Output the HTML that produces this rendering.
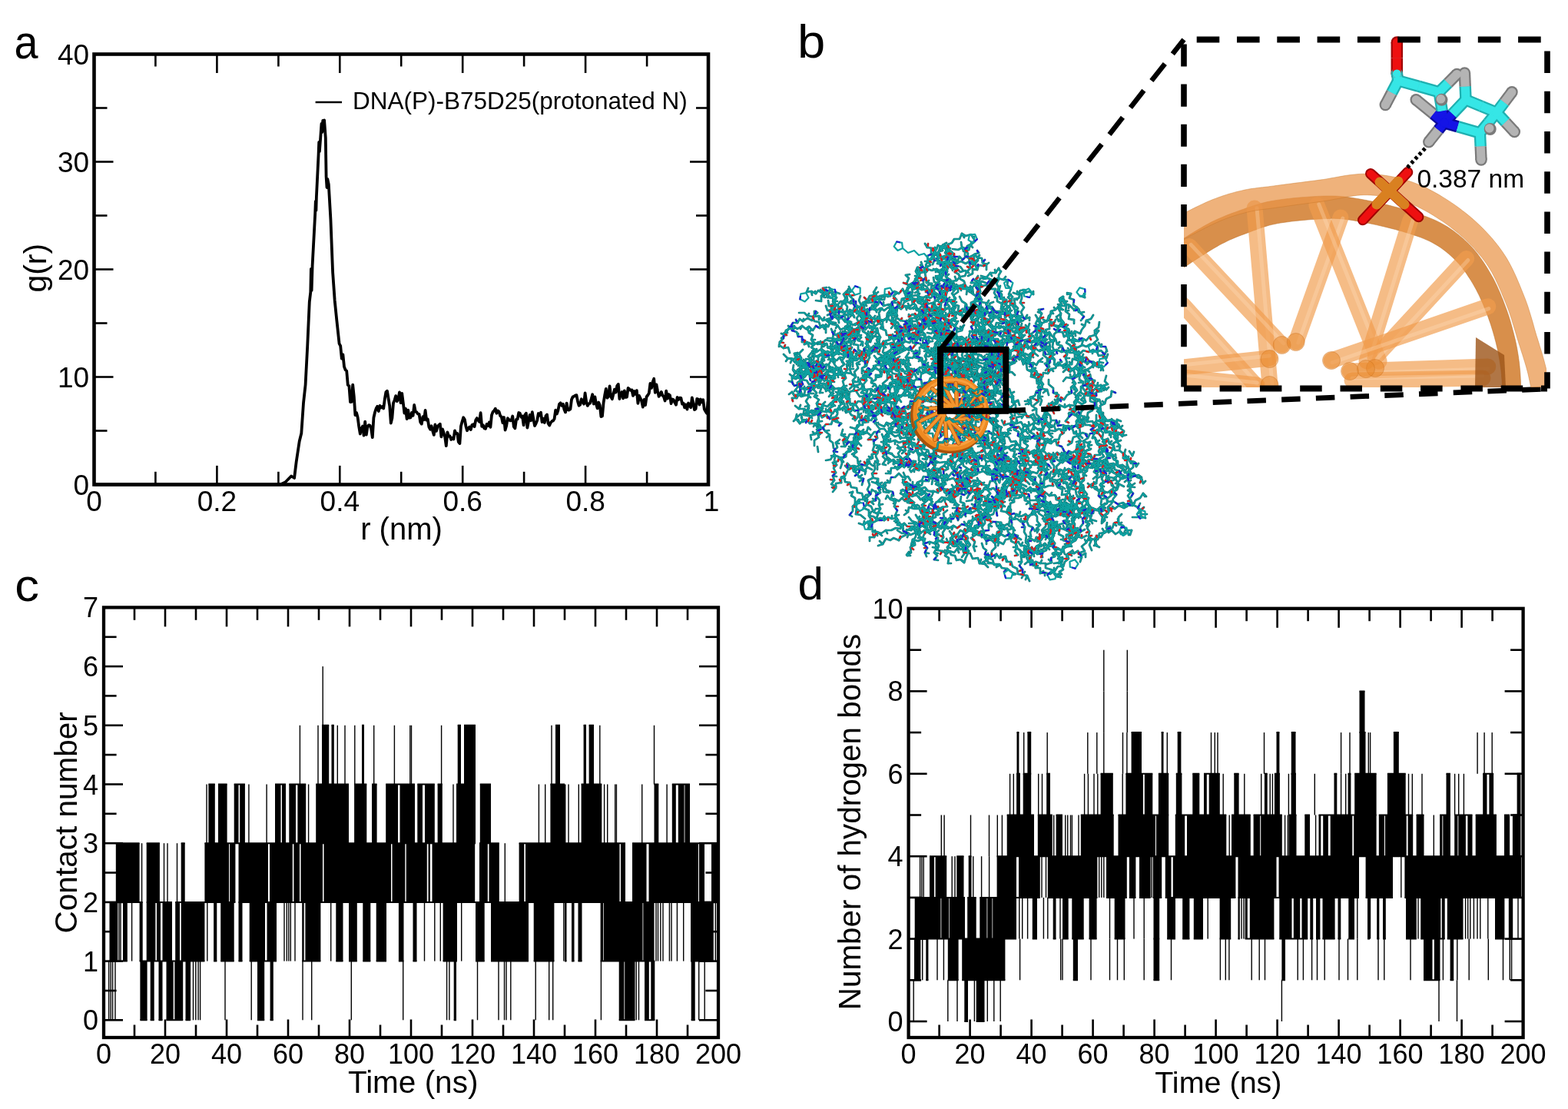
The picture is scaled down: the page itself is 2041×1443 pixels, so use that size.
<!DOCTYPE html>
<html><head><meta charset="utf-8"><title>Figure</title>
<style>html,body{margin:0;padding:0;background:#fff;} svg{display:block;} text{font-family:'Liberation Sans', Arial, Helvetica, sans-serif;fill:#000;}</style>
</head><body>
<svg width="2041" height="1443" viewBox="0 0 2041 1443">
<rect width="2041" height="1443" fill="#fff"/>
<g id="pa">
<path d="M122.5,630.5 L365,630.5 L371.3,627.5 L379.1,619.5 L383.1,622 L385.7,600.7 L389.7,574.3 L392.3,563.8 L395,524.3 L397.6,500.6 L400.2,450.6 L402.8,392.7 L404.3,380 L404.9,350 L405.6,378 L406.6,346 L410.2,278 L410.8,262 L411.4,274 L411.9,256 L414.6,200.5 L415.2,185 L415.9,197 L417.2,179.4 L418.5,160.8 L419.3,172 L420.2,157 L421.2,168 L422.1,156.5 L423.8,179.4 L424.6,230 L425.5,244 L426.3,233 L427.8,240 L430.4,285.2 L433.1,354 L435.7,391 L438.4,417.5 L441.6,447.2 L443.2,450.2 L444.8,466.6 L446.4,461.4 L448,477.1 L449.6,481.3 L451.2,482.6 L452.8,501 L454.4,502 L456,523.1 L457.6,522.9 L459.2,500.6 L460.8,516.1 L462.4,540.2 L464,536.9 L465.6,542.9 L467.2,555 L468.8,564.5 L470.4,557.6 L472,554.6 L473.6,566.7 L475.2,548.7 L476.8,565.6 L478.4,555.1 L480,553.1 L481.6,553.5 L483.2,558.2 L484.8,569.2 L486.4,543.5 L488,536.5 L489.6,531.5 L491.2,528.8 L492.8,535 L494.4,527.9 L496,530.5 L497.6,528.9 L499.2,531.5 L500.8,519.4 L502.4,510.2 L504,508.7 L505.6,518.6 L507.2,528.1 L508.8,550.5 L510.4,544 L512,524.5 L513.6,520.6 L515.2,515.1 L516.8,522.1 L518.4,519.2 L520,510.4 L521.6,524.2 L523.2,511.8 L524.8,524.2 L526.4,537.5 L528,531.8 L529.6,545 L531.2,533.6 L532.8,543.7 L534.4,543.3 L536,537 L537.6,540.7 L539.2,527 L540.8,535.7 L542.4,536.3 L544,538.7 L545.6,538.9 L547.2,549.2 L548.8,551.6 L550.4,542.2 L552,546 L553.6,533.9 L555.2,546.7 L556.8,545.6 L558.4,555.7 L560,558.7 L561.6,554.3 L563.2,560.6 L564.8,565.9 L566.4,552.5 L568,560.9 L569.6,554.7 L571.2,553.3 L572.8,551.7 L574.4,568.4 L576,558.3 L577.6,563.3 L579.2,568.8 L580.8,580.2 L582.4,562.3 L584,567.5 L585.6,567.4 L587.2,572 L588.8,569.7 L590.4,571.4 L592,560.5 L593.6,564.1 L595.2,563.8 L596.8,575.1 L598.4,577 L600,554.4 L601.6,548.5 L603.2,543.2 L604.8,545.7 L606.4,554.4 L608,560.2 L609.6,557.4 L611.2,555.4 L612.8,558.9 L614.4,553 L616,552.2 L617.6,555.1 L619.2,546.8 L620.8,544.1 L622.4,546.9 L624,548.9 L625.6,537.2 L627.2,554.9 L628.8,553.3 L630.4,557.3 L632,557.9 L633.6,551.9 L635.2,554.1 L636.8,549.5 L638.4,555.9 L640,540.1 L641.6,535.9 L643.2,534.5 L644.8,531.7 L646.4,537.7 L648,534.4 L649.6,535.7 L651.2,541.1 L652.8,542.5 L654.4,550.2 L656,543 L657.6,559.6 L659.2,554 L660.8,544.2 L662.4,545.9 L664,547.4 L665.6,547.1 L667.2,541.5 L668.8,555.2 L670.4,557.3 L672,545.9 L673.6,545.5 L675.2,537 L676.8,537.7 L678.4,542.8 L680,541.6 L681.6,553.2 L683.2,540.1 L684.8,537.7 L686.4,556.6 L688,548.2 L689.6,539.9 L691.2,547.2 L692.8,536.2 L694.4,545.6 L696,554 L697.6,551 L699.2,547.1 L700.8,538 L702.4,540.4 L704,536.8 L705.6,549.2 L707.2,544.7 L708.8,550 L710.4,541.3 L712,539.5 L713.6,551.1 L715.2,553.6 L716.8,550 L718.4,548.1 L720,547.4 L721.6,544.9 L723.2,533.6 L724.8,538.5 L726.4,534 L728,525.9 L729.6,524.3 L731.2,527.7 L732.8,525.7 L734.4,532.8 L736,536.4 L737.6,524.6 L739.2,533.3 L740.8,533.6 L742.4,532.3 L744,519.9 L745.6,516.4 L747.2,515.8 L748.8,514.6 L750.4,514.1 L752,522.2 L753.6,527.7 L755.2,526.5 L756.8,519.3 L758.4,522.8 L760,525.7 L761.6,511.4 L763.2,522.9 L764.8,527.9 L766.4,525.3 L768,524.7 L769.6,519.3 L771.2,513.3 L772.8,525.5 L774.4,516.4 L776,525.7 L777.6,531.3 L779.2,523.5 L780.8,527.4 L782.4,542.1 L784,541.4 L785.6,523.9 L787.2,514.2 L788.8,505.9 L790.4,517.7 L792,515.7 L793.6,502.5 L795.2,516.1 L796.8,519.2 L798.4,512.7 L800,506.6 L801.6,510.6 L803.2,502.2 L804.8,499.9 L806.4,519 L808,512.6 L809.6,510.1 L811.2,518.3 L812.8,508.3 L814.4,517 L816,516.6 L817.6,504.9 L819.2,506.3 L820.8,507.8 L822.4,507.4 L824,514.9 L825.6,509 L827.2,512.8 L828.8,508.1 L830.4,524.9 L832,515 L833.6,518.3 L835.2,522 L836.8,529.6 L838.4,519.8 L840,527.1 L841.6,516.3 L843.2,514.3 L844.8,511.6 L846.4,499 L848,504.8 L849.6,497.2 L851.2,492.8 L852.8,510.8 L854.4,500.4 L856,508.6 L857.6,515.8 L859.2,513.7 L860.8,509.9 L862.4,514.6 L864,516.1 L865.6,521.5 L867.2,508.7 L868.8,518.6 L870.4,513.1 L872,514.5 L873.6,525.1 L875.2,519.5 L876.8,520.3 L878.4,523.9 L880,526.7 L881.6,517 L883.2,520 L884.8,517.6 L886.4,517.9 L888,525.6 L889.6,524.8 L891.2,530.4 L892.8,526.5 L894.4,532.6 L896,524.5 L897.6,528 L899.2,530.2 L900.8,517.5 L902.4,524.5 L904,533.1 L905.6,532 L907.2,518.9 L908.8,519.6 L910.4,526.5 L912,519.5 L913.6,523.2 L915.2,520.2 L916.8,532.5 L918.4,535.2 L920,537.8 L921.6,522.4" fill="none" stroke="#000" stroke-width="3.8" stroke-linejoin="round"/>
<line x1="122.5" y1="630.5" x2="122.5" y2="605.9" stroke="#000" stroke-width="2.6" />
<line x1="122.5" y1="70.5" x2="122.5" y2="95" stroke="#000" stroke-width="2.6" />
<line x1="282.4" y1="630.5" x2="282.4" y2="605.9" stroke="#000" stroke-width="2.6" />
<line x1="282.4" y1="70.5" x2="282.4" y2="95" stroke="#000" stroke-width="2.6" />
<line x1="442.3" y1="630.5" x2="442.3" y2="605.9" stroke="#000" stroke-width="2.6" />
<line x1="442.3" y1="70.5" x2="442.3" y2="95" stroke="#000" stroke-width="2.6" />
<line x1="602.2" y1="630.5" x2="602.2" y2="605.9" stroke="#000" stroke-width="2.6" />
<line x1="602.2" y1="70.5" x2="602.2" y2="95" stroke="#000" stroke-width="2.6" />
<line x1="762.1" y1="630.5" x2="762.1" y2="605.9" stroke="#000" stroke-width="2.6" />
<line x1="762.1" y1="70.5" x2="762.1" y2="95" stroke="#000" stroke-width="2.6" />
<line x1="922" y1="630.5" x2="922" y2="605.9" stroke="#000" stroke-width="2.6" />
<line x1="922" y1="70.5" x2="922" y2="95" stroke="#000" stroke-width="2.6" />
<line x1="202.4" y1="630.5" x2="202.4" y2="613.8" stroke="#000" stroke-width="2.6" />
<line x1="202.4" y1="70.5" x2="202.4" y2="86.5" stroke="#000" stroke-width="2.6" />
<line x1="362.4" y1="630.5" x2="362.4" y2="613.8" stroke="#000" stroke-width="2.6" />
<line x1="362.4" y1="70.5" x2="362.4" y2="86.5" stroke="#000" stroke-width="2.6" />
<line x1="522.2" y1="630.5" x2="522.2" y2="613.8" stroke="#000" stroke-width="2.6" />
<line x1="522.2" y1="70.5" x2="522.2" y2="86.5" stroke="#000" stroke-width="2.6" />
<line x1="682.1" y1="630.5" x2="682.1" y2="613.8" stroke="#000" stroke-width="2.6" />
<line x1="682.1" y1="70.5" x2="682.1" y2="86.5" stroke="#000" stroke-width="2.6" />
<line x1="842.1" y1="630.5" x2="842.1" y2="613.8" stroke="#000" stroke-width="2.6" />
<line x1="842.1" y1="70.5" x2="842.1" y2="86.5" stroke="#000" stroke-width="2.6" />
<line x1="122.5" y1="630.5" x2="147.5" y2="630.5" stroke="#000" stroke-width="2.6" />
<line x1="922" y1="630.5" x2="898" y2="630.5" stroke="#000" stroke-width="2.6" />
<line x1="122.5" y1="490.5" x2="147.5" y2="490.5" stroke="#000" stroke-width="2.6" />
<line x1="922" y1="490.5" x2="898" y2="490.5" stroke="#000" stroke-width="2.6" />
<line x1="122.5" y1="350.5" x2="147.5" y2="350.5" stroke="#000" stroke-width="2.6" />
<line x1="922" y1="350.5" x2="898" y2="350.5" stroke="#000" stroke-width="2.6" />
<line x1="122.5" y1="210.5" x2="147.5" y2="210.5" stroke="#000" stroke-width="2.6" />
<line x1="922" y1="210.5" x2="898" y2="210.5" stroke="#000" stroke-width="2.6" />
<line x1="122.5" y1="70.5" x2="147.5" y2="70.5" stroke="#000" stroke-width="2.6" />
<line x1="922" y1="70.5" x2="898" y2="70.5" stroke="#000" stroke-width="2.6" />
<line x1="122.5" y1="560.5" x2="139.5" y2="560.5" stroke="#000" stroke-width="2.6" />
<line x1="922" y1="560.5" x2="906" y2="560.5" stroke="#000" stroke-width="2.6" />
<line x1="122.5" y1="420.5" x2="139.5" y2="420.5" stroke="#000" stroke-width="2.6" />
<line x1="922" y1="420.5" x2="906" y2="420.5" stroke="#000" stroke-width="2.6" />
<line x1="122.5" y1="280.5" x2="139.5" y2="280.5" stroke="#000" stroke-width="2.6" />
<line x1="922" y1="280.5" x2="906" y2="280.5" stroke="#000" stroke-width="2.6" />
<line x1="122.5" y1="140.5" x2="139.5" y2="140.5" stroke="#000" stroke-width="2.6" />
<line x1="922" y1="140.5" x2="906" y2="140.5" stroke="#000" stroke-width="2.6" />
<text x="122.5" y="664.5" font-size="37" text-anchor="middle" >0</text>
<text x="282.4" y="664.5" font-size="37" text-anchor="middle" >0.2</text>
<text x="442.3" y="664.5" font-size="37" text-anchor="middle" >0.4</text>
<text x="602.2" y="664.5" font-size="37" text-anchor="middle" >0.6</text>
<text x="762.1" y="664.5" font-size="37" text-anchor="middle" >0.8</text>
<text x="926" y="664.5" font-size="37" text-anchor="middle" >1</text>
<text x="116.2" y="643.5" font-size="37" text-anchor="end" >0</text>
<text x="116.2" y="503.5" font-size="37" text-anchor="end" >10</text>
<text x="116.2" y="363.5" font-size="37" text-anchor="end" >20</text>
<text x="116.2" y="223.5" font-size="37" text-anchor="end" >30</text>
<text x="116.2" y="83.5" font-size="37" text-anchor="end" >40</text>
<rect x="122.5" y="70.5" width="799.5" height="560" fill="none" stroke="#000" stroke-width="4.6" stroke-linejoin="miter"/>
<line x1="410.6" y1="133" x2="445" y2="133" stroke="#000" stroke-width="2.6" />
<text x="458.9" y="141.5" font-size="31.5" text-anchor="start" >DNA(P)-B75D25(protonated N)</text>
<text x="469.2" y="702" font-size="40" text-anchor="start" >r (nm)</text>
<text transform="translate(59.5,380.6) rotate(-90)" font-size="41">g(r)</text>
</g>
<text transform="translate(18.6,76.4) scale(0.9,1)" font-size="62">a</text>
<text transform="translate(1038,75.4) scale(1.05,1)" font-size="62">b</text>
<text transform="translate(19.2,782) scale(1.085,1)" font-size="58.5">c</text>
<text transform="translate(1038.5,779.5) scale(1.0,1)" font-size="60">d</text>
<g id="pc">
<g fill="#000"><rect x="141" y="1250.6" width="1.4" height="76.7"/><rect x="143.5" y="1250.6" width="1.4" height="76.7"/><rect x="145.9" y="1250.6" width="1.4" height="76.7"/><rect x="149.3" y="1250.6" width="1.4" height="76.7"/><rect x="182.4" y="1250.6" width="9.2" height="76.7"/><rect x="195.7" y="1250.6" width="5" height="76.7"/><rect x="206.5" y="1250.6" width="5" height="76.7"/><rect x="216.5" y="1250.6" width="9.2" height="76.7"/><rect x="227.3" y="1250.6" width="10.9" height="76.7"/><rect x="241.5" y="1250.6" width="6.6" height="76.7"/><rect x="250.8" y="1250.6" width="1.4" height="76.7"/><rect x="254.1" y="1250.6" width="1.4" height="76.7"/><rect x="257.4" y="1250.6" width="1.4" height="76.7"/><rect x="259.9" y="1250.6" width="1.4" height="76.7"/><rect x="292.3" y="1250.6" width="1.4" height="76.7"/><rect x="326.5" y="1250.6" width="1.4" height="76.7"/><rect x="335" y="1250.6" width="9.2" height="76.7"/><rect x="351.6" y="1250.6" width="4.2" height="76.7"/><rect x="393.3" y="1250.6" width="1.4" height="76.7"/><rect x="405" y="1250.6" width="1.4" height="76.7"/><rect x="456.6" y="1250.6" width="1.4" height="76.7"/><rect x="524" y="1250.6" width="1.4" height="76.7"/><rect x="580.9" y="1250.6" width="1.4" height="76.7"/><rect x="584.2" y="1250.6" width="1.4" height="76.7"/><rect x="590.7" y="1250.6" width="3.3" height="76.7"/><rect x="620.8" y="1250.6" width="1.4" height="76.7"/><rect x="648.3" y="1250.6" width="1.4" height="76.7"/><rect x="655.8" y="1250.6" width="1.4" height="76.7"/><rect x="658.3" y="1250.6" width="1.4" height="76.7"/><rect x="664.1" y="1250.6" width="1.4" height="76.7"/><rect x="696.5" y="1250.6" width="1.4" height="76.7"/><rect x="714" y="1250.6" width="1.4" height="76.7"/><rect x="719" y="1250.6" width="1.4" height="76.7"/><rect x="781.7" y="1250.6" width="1.4" height="76.7"/><rect x="805.7" y="1250.6" width="6.7" height="76.7"/><rect x="813.2" y="1250.6" width="13.3" height="76.7"/><rect x="827.5" y="1250.6" width="1.4" height="76.7"/><rect x="830.8" y="1250.6" width="1.4" height="76.7"/><rect x="839" y="1250.6" width="5.8" height="76.7"/><rect x="847.3" y="1250.6" width="5" height="76.7"/><rect x="899.7" y="1250.6" width="5" height="76.7"/><rect x="909" y="1250.6" width="1.4" height="76.7"/><rect x="916.5" y="1250.6" width="1.4" height="76.7"/><rect x="142.5" y="1173.9" width="10.8" height="76.7"/><rect x="154.3" y="1173.9" width="1.4" height="76.7"/><rect x="156.3" y="1173.9" width="1.4" height="76.7"/><rect x="160" y="1173.9" width="5.8" height="76.7"/><rect x="170.9" y="1173.9" width="1.4" height="76.7"/><rect x="181.6" y="1173.9" width="4.1" height="76.7"/><rect x="190.7" y="1173.9" width="11.7" height="76.7"/><rect x="204" y="1173.9" width="5" height="76.7"/><rect x="211.5" y="1173.9" width="12.5" height="76.7"/><rect x="228.2" y="1173.9" width="5.8" height="76.7"/><rect x="235.7" y="1173.9" width="30.7" height="76.7"/><rect x="269.1" y="1173.9" width="1.4" height="76.7"/><rect x="278.1" y="1173.9" width="4.2" height="76.7"/><rect x="287.2" y="1173.9" width="17.5" height="76.7"/><rect x="310.5" y="1173.9" width="5" height="76.7"/><rect x="324.7" y="1173.9" width="10.3" height="76.7"/><rect x="335" y="1173.9" width="10" height="76.7"/><rect x="347.5" y="1173.9" width="12.5" height="76.7"/><rect x="369.3" y="1173.9" width="1.4" height="76.7"/><rect x="372.6" y="1173.9" width="1.4" height="76.7"/><rect x="375.1" y="1173.9" width="1.4" height="76.7"/><rect x="377.6" y="1173.9" width="1.4" height="76.7"/><rect x="383.3" y="1173.9" width="1.4" height="76.7"/><rect x="393.2" y="1173.9" width="2.5" height="76.7"/><rect x="397.4" y="1173.9" width="20" height="76.7"/><rect x="430" y="1173.9" width="1.4" height="76.7"/><rect x="437.3" y="1173.9" width="9.2" height="76.7"/><rect x="454" y="1173.9" width="10.8" height="76.7"/><rect x="472.3" y="1173.9" width="10" height="76.7"/><rect x="489.7" y="1173.9" width="13.3" height="76.7"/><rect x="518.9" y="1173.9" width="6.6" height="76.7"/><rect x="537.5" y="1173.9" width="5" height="76.7"/><rect x="551.8" y="1173.9" width="1.4" height="76.7"/><rect x="565.1" y="1173.9" width="1.4" height="76.7"/><rect x="572.6" y="1173.9" width="1.4" height="76.7"/><rect x="576.6" y="1173.9" width="18.4" height="76.7"/><rect x="600" y="1173.9" width="1.4" height="76.7"/><rect x="619" y="1173.9" width="11.7" height="76.7"/><rect x="639" y="1173.9" width="49" height="76.7"/><rect x="694.7" y="1173.9" width="26.7" height="76.7"/><rect x="733.1" y="1173.9" width="1.4" height="76.7"/><rect x="735" y="1173.9" width="2.5" height="76.7"/><rect x="744" y="1173.9" width="3.5" height="76.7"/><rect x="752.5" y="1173.9" width="5" height="76.7"/><rect x="781.6" y="1173.9" width="3.4" height="76.7"/><rect x="785.7" y="1173.9" width="50.8" height="76.7"/><rect x="837.3" y="1173.9" width="14.2" height="76.7"/><rect x="853.3" y="1173.9" width="1.4" height="76.7"/><rect x="855.8" y="1173.9" width="1.4" height="76.7"/><rect x="859.1" y="1173.9" width="1.4" height="76.7"/><rect x="862.3" y="1173.9" width="1.4" height="76.7"/><rect x="870.7" y="1173.9" width="1.4" height="76.7"/><rect x="873.3" y="1173.9" width="1.4" height="76.7"/><rect x="880.7" y="1173.9" width="1.4" height="76.7"/><rect x="889" y="1173.9" width="1.4" height="76.7"/><rect x="899" y="1173.9" width="29.8" height="76.7"/><rect x="930.6" y="1173.9" width="1.4" height="76.7"/><rect x="150.8" y="1097.2" width="30.8" height="76.7"/><rect x="183.9" y="1097.2" width="1.4" height="76.7"/><rect x="190.7" y="1097.2" width="17.2" height="76.7"/><rect x="212.8" y="1097.2" width="1.4" height="76.7"/><rect x="217.3" y="1097.2" width="1.4" height="76.7"/><rect x="229.8" y="1097.2" width="1.4" height="76.7"/><rect x="235.7" y="1097.2" width="5" height="76.7"/><rect x="266.4" y="1097.2" width="31.6" height="76.7"/><rect x="299" y="1097.2" width="7.4" height="76.7"/><rect x="310.5" y="1097.2" width="24.5" height="76.7"/><rect x="335" y="1097.2" width="14" height="76.7"/><rect x="351" y="1097.2" width="29.8" height="76.7"/><rect x="382.4" y="1097.2" width="7.6" height="76.7"/><rect x="391.5" y="1097.2" width="28.5" height="76.7"/><rect x="421.5" y="1097.2" width="87.5" height="76.7"/><rect x="510.5" y="1097.2" width="16.8" height="76.7"/><rect x="528.7" y="1097.2" width="6.3" height="76.7"/><rect x="535" y="1097.2" width="20.8" height="76.7"/><rect x="557.5" y="1097.2" width="2.5" height="76.7"/><rect x="562.5" y="1097.2" width="55.7" height="76.7"/><rect x="624" y="1097.2" width="10.8" height="76.7"/><rect x="636.5" y="1097.2" width="13.3" height="76.7"/><rect x="656.6" y="1097.2" width="1.4" height="76.7"/><rect x="675.6" y="1097.2" width="6.7" height="76.7"/><rect x="684" y="1097.2" width="51" height="76.7"/><rect x="735" y="1097.2" width="71.5" height="76.7"/><rect x="808" y="1097.2" width="6" height="76.7"/><rect x="823" y="1097.2" width="18.5" height="76.7"/><rect x="844.5" y="1097.2" width="64.5" height="76.7"/><rect x="910" y="1097.2" width="7" height="76.7"/><rect x="926" y="1097.2" width="7" height="76.7"/><rect x="268.3" y="1020.5" width="1.4" height="76.7"/><rect x="271.4" y="1020.5" width="8.4" height="76.7"/><rect x="284" y="1020.5" width="11.6" height="76.7"/><rect x="304.7" y="1020.5" width="5.8" height="76.7"/><rect x="312.2" y="1020.5" width="6.7" height="76.7"/><rect x="323.2" y="1020.5" width="1.4" height="76.7"/><rect x="346.4" y="1020.5" width="1.4" height="76.7"/><rect x="358" y="1020.5" width="7.5" height="76.7"/><rect x="367" y="1020.5" width="5" height="76.7"/><rect x="376.3" y="1020.5" width="8.7" height="76.7"/><rect x="387.4" y="1020.5" width="10.8" height="76.7"/><rect x="400.9" y="1020.5" width="1.4" height="76.7"/><rect x="411.2" y="1020.5" width="42.8" height="76.7"/><rect x="461.1" y="1020.5" width="16.2" height="76.7"/><rect x="484" y="1020.5" width="6.6" height="76.7"/><rect x="502.2" y="1020.5" width="15.8" height="76.7"/><rect x="520.5" y="1020.5" width="14.5" height="76.7"/><rect x="535" y="1020.5" width="5" height="76.7"/><rect x="543.3" y="1020.5" width="6.7" height="76.7"/><rect x="553" y="1020.5" width="12.8" height="76.7"/><rect x="569.6" y="1020.5" width="6.2" height="76.7"/><rect x="589.3" y="1020.5" width="1.4" height="76.7"/><rect x="594" y="1020.5" width="25" height="76.7"/><rect x="624.8" y="1020.5" width="14.2" height="76.7"/><rect x="700.7" y="1020.5" width="1.4" height="76.7"/><rect x="709" y="1020.5" width="1.4" height="76.7"/><rect x="716.4" y="1020.5" width="18.6" height="76.7"/><rect x="735.1" y="1020.5" width="1.4" height="76.7"/><rect x="739.3" y="1020.5" width="1.4" height="76.7"/><rect x="752.6" y="1020.5" width="1.4" height="76.7"/><rect x="756.6" y="1020.5" width="26.7" height="76.7"/><rect x="785.9" y="1020.5" width="1.4" height="76.7"/><rect x="790" y="1020.5" width="1.4" height="76.7"/><rect x="800" y="1020.5" width="1.4" height="76.7"/><rect x="801.7" y="1020.5" width="1.4" height="76.7"/><rect x="835" y="1020.5" width="1.4" height="76.7"/><rect x="851.5" y="1020.5" width="5.8" height="76.7"/><rect x="867.4" y="1020.5" width="1.4" height="76.7"/><rect x="874.8" y="1020.5" width="5" height="76.7"/><rect x="882.8" y="1020.5" width="7.8" height="76.7"/><rect x="891.4" y="1020.5" width="6.6" height="76.7"/><rect x="389.7" y="943.8" width="1.4" height="76.7"/><rect x="413.3" y="943.8" width="1.4" height="76.7"/><rect x="419" y="943.8" width="9.2" height="76.7"/><rect x="431.5" y="943.8" width="3.3" height="76.7"/><rect x="438.6" y="943.8" width="1.4" height="76.7"/><rect x="448.3" y="943.8" width="1.4" height="76.7"/><rect x="461.1" y="943.8" width="1.4" height="76.7"/><rect x="471" y="943.8" width="3" height="76.7"/><rect x="486" y="943.8" width="1.4" height="76.7"/><rect x="512.7" y="943.8" width="1.4" height="76.7"/><rect x="533.1" y="943.8" width="1.4" height="76.7"/><rect x="534.8" y="943.8" width="1.4" height="76.7"/><rect x="573.9" y="943.8" width="1.4" height="76.7"/><rect x="595.7" y="943.8" width="4.3" height="76.7"/><rect x="604" y="943.8" width="15" height="76.7"/><rect x="717.3" y="943.8" width="1.4" height="76.7"/><rect x="723" y="943.8" width="6" height="76.7"/><rect x="759.6" y="943.8" width="3.4" height="76.7"/><rect x="766.6" y="943.8" width="6.4" height="76.7"/><rect x="780.1" y="943.8" width="1.4" height="76.7"/><rect x="850.8" y="943.8" width="1.4" height="76.7"/><rect x="419.5" y="867.1" width="1.4" height="76.7"/></g><path d="M182.4,1327.3H191.6M195.7,1327.3H200.7M206.5,1327.3H211.5M216.5,1327.3H238.2M241.5,1327.3H248.1M335,1327.3H344.2M351.6,1327.3H355.8M590.7,1327.3H594M805.7,1327.3H826.5M839,1327.3H852.3M899.7,1327.3H904.7M142.5,1250.6H153.3M160,1250.6H165.8M181.6,1250.6H266.4M278.1,1250.6H282.3M287.2,1250.6H304.7M310.5,1250.6H315.5M324.7,1250.6H360M393.2,1250.6H417.4M437.3,1250.6H446.5M454,1250.6H464.8M472.3,1250.6H482.3M489.7,1250.6H503M518.9,1250.6H525.5M537.5,1250.6H542.5M576.6,1250.6H595M619,1250.6H630.7M639,1250.6H688M694.7,1250.6H721.4M735,1250.6H737.5M744,1250.6H747.5M752.5,1250.6H757.5M781.6,1250.6H852.3M899,1250.6H928.8M142.5,1173.9H185.7M190.7,1173.9H224M228.2,1173.9H306.4M310.5,1173.9H933M150.8,1097.2H181.6M190.7,1097.2H207.9M235.7,1097.2H240.7M266.4,1097.2H619M624,1097.2H649.8M675.6,1097.2H814M823,1097.2H917M926,1097.2H933M271.4,1020.5H279.8M284,1020.5H295.6M304.7,1020.5H318.9M358,1020.5H372M376.3,1020.5H398.2M411.2,1020.5H454M461.1,1020.5H477.3M484,1020.5H490.6M502.2,1020.5H540M543.3,1020.5H565.8M569.6,1020.5H575.8M594,1020.5H619M624.8,1020.5H639M716.4,1020.5H735M756.6,1020.5H783.3M851.5,1020.5H857.3M874.8,1020.5H898M419,943.8H428.2M431.5,943.8H434.8M471,943.8H474M595.7,943.8H600M604,943.8H619M723,943.8H729M759.6,943.8H763M766.6,943.8H773" stroke="#000" stroke-width="2" fill="none"/>
<line x1="135" y1="1350" x2="135" y2="1326.5" stroke="#000" stroke-width="2.6" />
<line x1="135" y1="790.4" x2="135" y2="815.4" stroke="#000" stroke-width="2.6" />
<line x1="215" y1="1350" x2="215" y2="1326.5" stroke="#000" stroke-width="2.6" />
<line x1="215" y1="790.4" x2="215" y2="815.4" stroke="#000" stroke-width="2.6" />
<line x1="295" y1="1350" x2="295" y2="1326.5" stroke="#000" stroke-width="2.6" />
<line x1="295" y1="790.4" x2="295" y2="815.4" stroke="#000" stroke-width="2.6" />
<line x1="375" y1="1350" x2="375" y2="1326.5" stroke="#000" stroke-width="2.6" />
<line x1="375" y1="790.4" x2="375" y2="815.4" stroke="#000" stroke-width="2.6" />
<line x1="455" y1="1350" x2="455" y2="1326.5" stroke="#000" stroke-width="2.6" />
<line x1="455" y1="790.4" x2="455" y2="815.4" stroke="#000" stroke-width="2.6" />
<line x1="535" y1="1350" x2="535" y2="1326.5" stroke="#000" stroke-width="2.6" />
<line x1="535" y1="790.4" x2="535" y2="815.4" stroke="#000" stroke-width="2.6" />
<line x1="615" y1="1350" x2="615" y2="1326.5" stroke="#000" stroke-width="2.6" />
<line x1="615" y1="790.4" x2="615" y2="815.4" stroke="#000" stroke-width="2.6" />
<line x1="695" y1="1350" x2="695" y2="1326.5" stroke="#000" stroke-width="2.6" />
<line x1="695" y1="790.4" x2="695" y2="815.4" stroke="#000" stroke-width="2.6" />
<line x1="775" y1="1350" x2="775" y2="1326.5" stroke="#000" stroke-width="2.6" />
<line x1="775" y1="790.4" x2="775" y2="815.4" stroke="#000" stroke-width="2.6" />
<line x1="855" y1="1350" x2="855" y2="1326.5" stroke="#000" stroke-width="2.6" />
<line x1="855" y1="790.4" x2="855" y2="815.4" stroke="#000" stroke-width="2.6" />
<line x1="935" y1="1350" x2="935" y2="1326.5" stroke="#000" stroke-width="2.6" />
<line x1="935" y1="790.4" x2="935" y2="815.4" stroke="#000" stroke-width="2.6" />
<line x1="175" y1="1350" x2="175" y2="1333.5" stroke="#000" stroke-width="2.6" />
<line x1="175" y1="790.4" x2="175" y2="806.8" stroke="#000" stroke-width="2.6" />
<line x1="255" y1="1350" x2="255" y2="1333.5" stroke="#000" stroke-width="2.6" />
<line x1="255" y1="790.4" x2="255" y2="806.8" stroke="#000" stroke-width="2.6" />
<line x1="335" y1="1350" x2="335" y2="1333.5" stroke="#000" stroke-width="2.6" />
<line x1="335" y1="790.4" x2="335" y2="806.8" stroke="#000" stroke-width="2.6" />
<line x1="415" y1="1350" x2="415" y2="1333.5" stroke="#000" stroke-width="2.6" />
<line x1="415" y1="790.4" x2="415" y2="806.8" stroke="#000" stroke-width="2.6" />
<line x1="495" y1="1350" x2="495" y2="1333.5" stroke="#000" stroke-width="2.6" />
<line x1="495" y1="790.4" x2="495" y2="806.8" stroke="#000" stroke-width="2.6" />
<line x1="575" y1="1350" x2="575" y2="1333.5" stroke="#000" stroke-width="2.6" />
<line x1="575" y1="790.4" x2="575" y2="806.8" stroke="#000" stroke-width="2.6" />
<line x1="655" y1="1350" x2="655" y2="1333.5" stroke="#000" stroke-width="2.6" />
<line x1="655" y1="790.4" x2="655" y2="806.8" stroke="#000" stroke-width="2.6" />
<line x1="735" y1="1350" x2="735" y2="1333.5" stroke="#000" stroke-width="2.6" />
<line x1="735" y1="790.4" x2="735" y2="806.8" stroke="#000" stroke-width="2.6" />
<line x1="815" y1="1350" x2="815" y2="1333.5" stroke="#000" stroke-width="2.6" />
<line x1="815" y1="790.4" x2="815" y2="806.8" stroke="#000" stroke-width="2.6" />
<line x1="895" y1="1350" x2="895" y2="1333.5" stroke="#000" stroke-width="2.6" />
<line x1="895" y1="790.4" x2="895" y2="806.8" stroke="#000" stroke-width="2.6" />
<line x1="135" y1="1327.3" x2="160" y2="1327.3" stroke="#000" stroke-width="2.6" />
<line x1="935" y1="1327.3" x2="910" y2="1327.3" stroke="#000" stroke-width="2.6" />
<line x1="135" y1="1250.6" x2="160" y2="1250.6" stroke="#000" stroke-width="2.6" />
<line x1="935" y1="1250.6" x2="910" y2="1250.6" stroke="#000" stroke-width="2.6" />
<line x1="135" y1="1173.9" x2="160" y2="1173.9" stroke="#000" stroke-width="2.6" />
<line x1="935" y1="1173.9" x2="910" y2="1173.9" stroke="#000" stroke-width="2.6" />
<line x1="135" y1="1097.2" x2="160" y2="1097.2" stroke="#000" stroke-width="2.6" />
<line x1="935" y1="1097.2" x2="910" y2="1097.2" stroke="#000" stroke-width="2.6" />
<line x1="135" y1="1020.5" x2="160" y2="1020.5" stroke="#000" stroke-width="2.6" />
<line x1="935" y1="1020.5" x2="910" y2="1020.5" stroke="#000" stroke-width="2.6" />
<line x1="135" y1="943.8" x2="160" y2="943.8" stroke="#000" stroke-width="2.6" />
<line x1="935" y1="943.8" x2="910" y2="943.8" stroke="#000" stroke-width="2.6" />
<line x1="135" y1="867.1" x2="160" y2="867.1" stroke="#000" stroke-width="2.6" />
<line x1="935" y1="867.1" x2="910" y2="867.1" stroke="#000" stroke-width="2.6" />
<line x1="135" y1="790.4" x2="160" y2="790.4" stroke="#000" stroke-width="2.6" />
<line x1="935" y1="790.4" x2="910" y2="790.4" stroke="#000" stroke-width="2.6" />
<line x1="135" y1="1289" x2="151.6" y2="1289" stroke="#000" stroke-width="2.6" />
<line x1="935" y1="1289" x2="918.4" y2="1289" stroke="#000" stroke-width="2.6" />
<line x1="135" y1="1212.2" x2="151.6" y2="1212.2" stroke="#000" stroke-width="2.6" />
<line x1="935" y1="1212.2" x2="918.4" y2="1212.2" stroke="#000" stroke-width="2.6" />
<line x1="135" y1="1135.5" x2="151.6" y2="1135.5" stroke="#000" stroke-width="2.6" />
<line x1="935" y1="1135.5" x2="918.4" y2="1135.5" stroke="#000" stroke-width="2.6" />
<line x1="135" y1="1058.8" x2="151.6" y2="1058.8" stroke="#000" stroke-width="2.6" />
<line x1="935" y1="1058.8" x2="918.4" y2="1058.8" stroke="#000" stroke-width="2.6" />
<line x1="135" y1="982.1" x2="151.6" y2="982.1" stroke="#000" stroke-width="2.6" />
<line x1="935" y1="982.1" x2="918.4" y2="982.1" stroke="#000" stroke-width="2.6" />
<line x1="135" y1="905.4" x2="151.6" y2="905.4" stroke="#000" stroke-width="2.6" />
<line x1="935" y1="905.4" x2="918.4" y2="905.4" stroke="#000" stroke-width="2.6" />
<line x1="135" y1="828.8" x2="151.6" y2="828.8" stroke="#000" stroke-width="2.6" />
<line x1="935" y1="828.8" x2="918.4" y2="828.8" stroke="#000" stroke-width="2.6" />
<text x="135" y="1384.3" font-size="36" text-anchor="middle" >0</text>
<text x="215" y="1384.3" font-size="36" text-anchor="middle" >20</text>
<text x="295" y="1384.3" font-size="36" text-anchor="middle" >40</text>
<text x="375" y="1384.3" font-size="36" text-anchor="middle" >60</text>
<text x="455" y="1384.3" font-size="36" text-anchor="middle" >80</text>
<text x="535" y="1384.3" font-size="36" text-anchor="middle" >100</text>
<text x="615" y="1384.3" font-size="36" text-anchor="middle" >120</text>
<text x="695" y="1384.3" font-size="36" text-anchor="middle" >140</text>
<text x="775" y="1384.3" font-size="36" text-anchor="middle" >160</text>
<text x="855" y="1384.3" font-size="36" text-anchor="middle" >180</text>
<text x="935" y="1384.3" font-size="36" text-anchor="middle" >200</text>
<text x="128" y="1340.3" font-size="36" text-anchor="end" >0</text>
<text x="128" y="1263.6" font-size="36" text-anchor="end" >1</text>
<text x="128" y="1186.9" font-size="36" text-anchor="end" >2</text>
<text x="128" y="1110.2" font-size="36" text-anchor="end" >3</text>
<text x="128" y="1033.5" font-size="36" text-anchor="end" >4</text>
<text x="128" y="956.8" font-size="36" text-anchor="end" >5</text>
<text x="128" y="880.1" font-size="36" text-anchor="end" >6</text>
<text x="128" y="803.4" font-size="36" text-anchor="end" >7</text>
<rect x="135" y="790.4" width="800" height="559.6" fill="none" stroke="#000" stroke-width="4.3" stroke-linejoin="miter"/>
<text x="452.9" y="1422.4" font-size="40.5" text-anchor="start" >Time (ns)</text>
<text transform="translate(100,1214.4) rotate(-90)" font-size="40.5">Contact number</text>
</g>
<g id="pd">
<g fill="#000"><rect x="1188.5" y="1275.3" width="1.4" height="53.7"/><rect x="1233.1" y="1275.3" width="1.4" height="53.7"/><rect x="1245.3" y="1275.3" width="1.4" height="53.7"/><rect x="1255.3" y="1275.3" width="4.7" height="53.7"/><rect x="1267.7" y="1275.3" width="1.4" height="53.7"/><rect x="1270.7" y="1275.3" width="10.8" height="53.7"/><rect x="1284.6" y="1275.3" width="1.4" height="53.7"/><rect x="1293.1" y="1275.3" width="1.4" height="53.7"/><rect x="1301.5" y="1275.3" width="1.4" height="53.7"/><rect x="1667.7" y="1275.3" width="1.4" height="53.7"/><rect x="1872.3" y="1275.3" width="1.4" height="53.7"/><rect x="1895.8" y="1275.3" width="1.4" height="53.7"/><rect x="1190" y="1221.6" width="8.4" height="53.7"/><rect x="1200" y="1221.6" width="1.4" height="53.7"/><rect x="1205.3" y="1221.6" width="3.1" height="53.7"/><rect x="1219.3" y="1221.6" width="1.4" height="53.7"/><rect x="1227.7" y="1221.6" width="1.4" height="53.7"/><rect x="1233.8" y="1221.6" width="13.8" height="53.7"/><rect x="1252.2" y="1221.6" width="56.2" height="53.7"/><rect x="1326.9" y="1221.6" width="1.4" height="53.7"/><rect x="1380" y="1221.6" width="1.4" height="53.7"/><rect x="1382.3" y="1221.6" width="1.4" height="53.7"/><rect x="1396.8" y="1221.6" width="6.2" height="53.7"/><rect x="1419.3" y="1221.6" width="1.4" height="53.7"/><rect x="1443.8" y="1221.6" width="1.4" height="53.7"/><rect x="1453.8" y="1221.6" width="1.4" height="53.7"/><rect x="1462.6" y="1221.6" width="1.4" height="53.7"/><rect x="1488.5" y="1221.6" width="1.4" height="53.7"/><rect x="1501.5" y="1221.6" width="7.7" height="53.7"/><rect x="1523.8" y="1221.6" width="1.4" height="53.7"/><rect x="1587.7" y="1221.6" width="1.4" height="53.7"/><rect x="1594.6" y="1221.6" width="1.4" height="53.7"/><rect x="1599.2" y="1221.6" width="1.4" height="53.7"/><rect x="1628.5" y="1221.6" width="1.4" height="53.7"/><rect x="1638.5" y="1221.6" width="1.4" height="53.7"/><rect x="1645.8" y="1221.6" width="1.4" height="53.7"/><rect x="1668.4" y="1221.6" width="4.6" height="53.7"/><rect x="1688.5" y="1221.6" width="1.4" height="53.7"/><rect x="1695.7" y="1221.6" width="1.4" height="53.7"/><rect x="1706.9" y="1221.6" width="1.4" height="53.7"/><rect x="1713.8" y="1221.6" width="1.4" height="53.7"/><rect x="1723.5" y="1221.6" width="1.4" height="53.7"/><rect x="1742.3" y="1221.6" width="1.4" height="53.7"/><rect x="1753.8" y="1221.6" width="1.4" height="53.7"/><rect x="1766.1" y="1221.6" width="1.4" height="53.7"/><rect x="1793.3" y="1221.6" width="1.4" height="53.7"/><rect x="1801.1" y="1221.6" width="1.4" height="53.7"/><rect x="1835.3" y="1221.6" width="1.4" height="53.7"/><rect x="1853" y="1221.6" width="11.5" height="53.7"/><rect x="1866.8" y="1221.6" width="7.7" height="53.7"/><rect x="1877.7" y="1221.6" width="1.4" height="53.7"/><rect x="1887.6" y="1221.6" width="4.6" height="53.7"/><rect x="1896.1" y="1221.6" width="1.4" height="53.7"/><rect x="1911.5" y="1221.6" width="1.4" height="53.7"/><rect x="1936.6" y="1221.6" width="1.4" height="53.7"/><rect x="1955.8" y="1221.6" width="1.4" height="53.7"/><rect x="1964.6" y="1221.6" width="1.4" height="53.7"/><rect x="1966.9" y="1221.6" width="1.4" height="53.7"/><rect x="1190.7" y="1167.9" width="33.8" height="53.7"/><rect x="1225.3" y="1167.9" width="10" height="53.7"/><rect x="1236" y="1167.9" width="20" height="53.7"/><rect x="1259.2" y="1167.9" width="11.5" height="53.7"/><rect x="1275.3" y="1167.9" width="9.2" height="53.7"/><rect x="1285.3" y="1167.9" width="6.2" height="53.7"/><rect x="1292.2" y="1167.9" width="30.8" height="53.7"/><rect x="1326.1" y="1167.9" width="1.4" height="53.7"/><rect x="1330" y="1167.9" width="1.4" height="53.7"/><rect x="1336.9" y="1167.9" width="1.4" height="53.7"/><rect x="1343.8" y="1167.9" width="6.2" height="53.7"/><rect x="1357.7" y="1167.9" width="1.4" height="53.7"/><rect x="1363.1" y="1167.9" width="1.4" height="53.7"/><rect x="1370.7" y="1167.9" width="3.8" height="53.7"/><rect x="1379.3" y="1167.9" width="1.4" height="53.7"/><rect x="1383" y="1167.9" width="7.7" height="53.7"/><rect x="1395.3" y="1167.9" width="15.4" height="53.7"/><rect x="1417.6" y="1167.9" width="10" height="53.7"/><rect x="1443.8" y="1167.9" width="1.4" height="53.7"/><rect x="1450.7" y="1167.9" width="13.8" height="53.7"/><rect x="1475.3" y="1167.9" width="1.4" height="53.7"/><rect x="1488.5" y="1167.9" width="1.4" height="53.7"/><rect x="1501.5" y="1167.9" width="7.7" height="53.7"/><rect x="1519.2" y="1167.9" width="10.8" height="53.7"/><rect x="1539.2" y="1167.9" width="9.2" height="53.7"/><rect x="1553.8" y="1167.9" width="12.2" height="53.7"/><rect x="1571.5" y="1167.9" width="1.4" height="53.7"/><rect x="1587.6" y="1167.9" width="14.6" height="53.7"/><rect x="1611.5" y="1167.9" width="2.3" height="53.7"/><rect x="1615.3" y="1167.9" width="1.4" height="53.7"/><rect x="1618.3" y="1167.9" width="1.4" height="53.7"/><rect x="1620.7" y="1167.9" width="3.1" height="53.7"/><rect x="1626.8" y="1167.9" width="31.6" height="53.7"/><rect x="1665.3" y="1167.9" width="16.2" height="53.7"/><rect x="1683.8" y="1167.9" width="8.4" height="53.7"/><rect x="1694.5" y="1167.9" width="7.7" height="53.7"/><rect x="1705.3" y="1167.9" width="3.9" height="53.7"/><rect x="1713" y="1167.9" width="5.4" height="53.7"/><rect x="1721.5" y="1167.9" width="16.1" height="53.7"/><rect x="1741.5" y="1167.9" width="3.8" height="53.7"/><rect x="1755.3" y="1167.9" width="7.7" height="53.7"/><rect x="1766.1" y="1167.9" width="1.4" height="53.7"/><rect x="1780" y="1167.9" width="3" height="53.7"/><rect x="1782.8" y="1167.9" width="1.4" height="53.7"/><rect x="1792.2" y="1167.9" width="3.1" height="53.7"/><rect x="1800" y="1167.9" width="3.8" height="53.7"/><rect x="1830" y="1167.9" width="13.8" height="53.7"/><rect x="1845.3" y="1167.9" width="1.4" height="53.7"/><rect x="1849.2" y="1167.9" width="26.1" height="53.7"/><rect x="1876.8" y="1167.9" width="3.9" height="53.7"/><rect x="1883.8" y="1167.9" width="20.7" height="53.7"/><rect x="1906.9" y="1167.9" width="1.4" height="53.7"/><rect x="1910" y="1167.9" width="1.4" height="53.7"/><rect x="1913.1" y="1167.9" width="1.4" height="53.7"/><rect x="1917.7" y="1167.9" width="1.4" height="53.7"/><rect x="1922.3" y="1167.9" width="1.4" height="53.7"/><rect x="1926.1" y="1167.9" width="1.4" height="53.7"/><rect x="1936.1" y="1167.9" width="1.4" height="53.7"/><rect x="1946" y="1167.9" width="12.4" height="53.7"/><rect x="1963.8" y="1167.9" width="5.4" height="53.7"/><rect x="1975.3" y="1167.9" width="1.4" height="53.7"/><rect x="1196.9" y="1114.2" width="1.4" height="53.7"/><rect x="1199.2" y="1114.2" width="1.4" height="53.7"/><rect x="1201.5" y="1114.2" width="1.4" height="53.7"/><rect x="1210" y="1114.2" width="6" height="53.7"/><rect x="1217.6" y="1114.2" width="14.6" height="53.7"/><rect x="1238.5" y="1114.2" width="1.4" height="53.7"/><rect x="1242.3" y="1114.2" width="1.4" height="53.7"/><rect x="1245.3" y="1114.2" width="9.2" height="53.7"/><rect x="1260.7" y="1114.2" width="3.8" height="53.7"/><rect x="1266.1" y="1114.2" width="1.4" height="53.7"/><rect x="1276.9" y="1114.2" width="1.4" height="53.7"/><rect x="1286.9" y="1114.2" width="1.4" height="53.7"/><rect x="1297.6" y="1114.2" width="25.4" height="53.7"/><rect x="1326" y="1114.2" width="27.8" height="53.7"/><rect x="1355.3" y="1114.2" width="1.4" height="53.7"/><rect x="1360.8" y="1114.2" width="1.4" height="53.7"/><rect x="1363.8" y="1114.2" width="19.2" height="53.7"/><rect x="1383" y="1114.2" width="45.4" height="53.7"/><rect x="1430" y="1114.2" width="1.4" height="53.7"/><rect x="1433.1" y="1114.2" width="1.4" height="53.7"/><rect x="1436.1" y="1114.2" width="1.4" height="53.7"/><rect x="1440" y="1114.2" width="26.8" height="53.7"/><rect x="1469.9" y="1114.2" width="8.5" height="53.7"/><rect x="1483" y="1114.2" width="14.6" height="53.7"/><rect x="1498.3" y="1114.2" width="1.4" height="53.7"/><rect x="1500.7" y="1114.2" width="11.5" height="53.7"/><rect x="1516.8" y="1114.2" width="7.7" height="53.7"/><rect x="1526.8" y="1114.2" width="56.2" height="53.7"/><rect x="1583" y="1114.2" width="25.4" height="53.7"/><rect x="1611.5" y="1114.2" width="50" height="53.7"/><rect x="1664.5" y="1114.2" width="104.5" height="53.7"/><rect x="1777.6" y="1114.2" width="5.4" height="53.7"/><rect x="1783" y="1114.2" width="30" height="53.7"/><rect x="1823.1" y="1114.2" width="1.4" height="53.7"/><rect x="1828.4" y="1114.2" width="151.6" height="53.7"/><rect x="1224.6" y="1060.5" width="1.4" height="53.7"/><rect x="1228.4" y="1060.5" width="1.4" height="53.7"/><rect x="1262.8" y="1060.5" width="1.4" height="53.7"/><rect x="1286.8" y="1060.5" width="1.4" height="53.7"/><rect x="1297.6" y="1060.5" width="1.4" height="53.7"/><rect x="1303.7" y="1060.5" width="1.4" height="53.7"/><rect x="1310.7" y="1060.5" width="35.3" height="53.7"/><rect x="1350.8" y="1060.5" width="19" height="53.7"/><rect x="1371" y="1060.5" width="1.4" height="53.7"/><rect x="1374.6" y="1060.5" width="8.4" height="53.7"/><rect x="1386.1" y="1060.5" width="1.4" height="53.7"/><rect x="1389" y="1060.5" width="1.4" height="53.7"/><rect x="1392.8" y="1060.5" width="1.4" height="53.7"/><rect x="1394.7" y="1060.5" width="1.4" height="53.7"/><rect x="1403.3" y="1060.5" width="1.4" height="53.7"/><rect x="1406.8" y="1060.5" width="42.9" height="53.7"/><rect x="1455.5" y="1060.5" width="48.5" height="53.7"/><rect x="1505" y="1060.5" width="16.2" height="53.7"/><rect x="1529.8" y="1060.5" width="12.4" height="53.7"/><rect x="1545" y="1060.5" width="38" height="53.7"/><rect x="1583" y="1060.5" width="13.3" height="53.7"/><rect x="1599.5" y="1060.5" width="1.4" height="53.7"/><rect x="1603" y="1060.5" width="24.8" height="53.7"/><rect x="1631.6" y="1060.5" width="8.6" height="53.7"/><rect x="1641.2" y="1060.5" width="27.6" height="53.7"/><rect x="1671.9" y="1060.5" width="1.4" height="53.7"/><rect x="1675.7" y="1060.5" width="1.4" height="53.7"/><rect x="1677.4" y="1060.5" width="10.1" height="53.7"/><rect x="1698.3" y="1060.5" width="6.7" height="53.7"/><rect x="1711.9" y="1060.5" width="1.4" height="53.7"/><rect x="1716.5" y="1060.5" width="2.8" height="53.7"/><rect x="1722.2" y="1060.5" width="6.7" height="53.7"/><rect x="1731.7" y="1060.5" width="28.6" height="53.7"/><rect x="1762.2" y="1060.5" width="20.8" height="53.7"/><rect x="1783" y="1060.5" width="8.6" height="53.7"/><rect x="1794.8" y="1060.5" width="7.2" height="53.7"/><rect x="1803" y="1060.5" width="27.7" height="53.7"/><rect x="1832.6" y="1060.5" width="6.6" height="53.7"/><rect x="1843.6" y="1060.5" width="9.9" height="53.7"/><rect x="1865.6" y="1060.5" width="1.4" height="53.7"/><rect x="1874.1" y="1060.5" width="3.3" height="53.7"/><rect x="1878.3" y="1060.5" width="9.6" height="53.7"/><rect x="1893.2" y="1060.5" width="4.2" height="53.7"/><rect x="1898.3" y="1060.5" width="9.6" height="53.7"/><rect x="1910.4" y="1060.5" width="6.1" height="53.7"/><rect x="1920.7" y="1060.5" width="27.2" height="53.7"/><rect x="1958" y="1060.5" width="7.1" height="53.7"/><rect x="1968.9" y="1060.5" width="10.5" height="53.7"/><rect x="1313.9" y="1006.8" width="1.4" height="53.7"/><rect x="1318.6" y="1006.8" width="1.4" height="53.7"/><rect x="1323.1" y="1006.8" width="4.8" height="53.7"/><rect x="1331.7" y="1006.8" width="10.5" height="53.7"/><rect x="1351" y="1006.8" width="1.4" height="53.7"/><rect x="1355.8" y="1006.8" width="1.4" height="53.7"/><rect x="1362.2" y="1006.8" width="4.8" height="53.7"/><rect x="1410.9" y="1006.8" width="1.4" height="53.7"/><rect x="1415.7" y="1006.8" width="1.4" height="53.7"/><rect x="1423.3" y="1006.8" width="1.4" height="53.7"/><rect x="1428.1" y="1006.8" width="1.4" height="53.7"/><rect x="1432.6" y="1006.8" width="16.2" height="53.7"/><rect x="1460.5" y="1006.8" width="1.4" height="53.7"/><rect x="1465.4" y="1006.8" width="22.5" height="53.7"/><rect x="1489.8" y="1006.8" width="10.5" height="53.7"/><rect x="1507.9" y="1006.8" width="13.3" height="53.7"/><rect x="1530.8" y="1006.8" width="7.6" height="53.7"/><rect x="1552.3" y="1006.8" width="9" height="53.7"/><rect x="1567" y="1006.8" width="3.8" height="53.7"/><rect x="1573.7" y="1006.8" width="9.3" height="53.7"/><rect x="1583" y="1006.8" width="4.8" height="53.7"/><rect x="1591.5" y="1006.8" width="1.4" height="53.7"/><rect x="1606.3" y="1006.8" width="6.3" height="53.7"/><rect x="1619.1" y="1006.8" width="1.4" height="53.7"/><rect x="1641" y="1006.8" width="1.4" height="53.7"/><rect x="1645.9" y="1006.8" width="3.8" height="53.7"/><rect x="1652.5" y="1006.8" width="1.4" height="53.7"/><rect x="1655.7" y="1006.8" width="1.4" height="53.7"/><rect x="1658.9" y="1006.8" width="7" height="53.7"/><rect x="1676.7" y="1006.8" width="1.4" height="53.7"/><rect x="1680.6" y="1006.8" width="6.3" height="53.7"/><rect x="1710.6" y="1006.8" width="1.4" height="53.7"/><rect x="1736.5" y="1006.8" width="3.8" height="53.7"/><rect x="1744.9" y="1006.8" width="1.4" height="53.7"/><rect x="1751" y="1006.8" width="1.4" height="53.7"/><rect x="1754.6" y="1006.8" width="3.8" height="53.7"/><rect x="1763.2" y="1006.8" width="19.8" height="53.7"/><rect x="1783" y="1006.8" width="8.6" height="53.7"/><rect x="1805.9" y="1006.8" width="23.8" height="53.7"/><rect x="1832.8" y="1006.8" width="1.4" height="53.7"/><rect x="1837.6" y="1006.8" width="1.4" height="53.7"/><rect x="1850.3" y="1006.8" width="1.4" height="53.7"/><rect x="1882.5" y="1006.8" width="5.4" height="53.7"/><rect x="1892.9" y="1006.8" width="1.4" height="53.7"/><rect x="1898" y="1006.8" width="1.4" height="53.7"/><rect x="1904.7" y="1006.8" width="1.4" height="53.7"/><rect x="1930.2" y="1006.8" width="5.3" height="53.7"/><rect x="1938.4" y="1006.8" width="5.7" height="53.7"/><rect x="1974.6" y="1006.8" width="4.8" height="53.7"/><rect x="1323.5" y="953.1" width="2.9" height="53.7"/><rect x="1332" y="953.1" width="1.4" height="53.7"/><rect x="1337.4" y="953.1" width="4.8" height="53.7"/><rect x="1362.5" y="953.1" width="1.4" height="53.7"/><rect x="1415.1" y="953.1" width="1.4" height="53.7"/><rect x="1427.1" y="953.1" width="1.4" height="53.7"/><rect x="1436.1" y="953.1" width="1.4" height="53.7"/><rect x="1460.8" y="953.1" width="1.4" height="53.7"/><rect x="1466.2" y="953.1" width="1.4" height="53.7"/><rect x="1472.6" y="953.1" width="13.4" height="53.7"/><rect x="1511.7" y="953.1" width="2.8" height="53.7"/><rect x="1518.6" y="953.1" width="1.4" height="53.7"/><rect x="1532.7" y="953.1" width="4.7" height="53.7"/><rect x="1575.8" y="953.1" width="1.4" height="53.7"/><rect x="1580.6" y="953.1" width="1.4" height="53.7"/><rect x="1584.3" y="953.1" width="1.4" height="53.7"/><rect x="1644.8" y="953.1" width="1.4" height="53.7"/><rect x="1661.5" y="953.1" width="3.9" height="53.7"/><rect x="1680.8" y="953.1" width="5.7" height="53.7"/><rect x="1744.9" y="953.1" width="1.4" height="53.7"/><rect x="1756.3" y="953.1" width="1.4" height="53.7"/><rect x="1769.5" y="953.1" width="8" height="53.7"/><rect x="1780.6" y="953.1" width="1.4" height="53.7"/><rect x="1782.9" y="953.1" width="1.4" height="53.7"/><rect x="1813.9" y="953.1" width="6.9" height="53.7"/><rect x="1922.4" y="953.1" width="1.4" height="53.7"/><rect x="1931.4" y="953.1" width="1.4" height="53.7"/><rect x="1941.5" y="953.1" width="1.4" height="53.7"/><rect x="1436.1" y="899.4" width="1.4" height="53.7"/><rect x="1466.6" y="899.4" width="1.4" height="53.7"/><rect x="1769.5" y="899.4" width="7" height="53.7"/><rect x="1436.1" y="845.7" width="1.4" height="53.7"/><rect x="1466.6" y="845.7" width="1.4" height="53.7"/></g><path d="M1255.3,1329H1260M1270.7,1329H1281.5M1190,1275.3H1198.4M1205.3,1275.3H1208.4M1233.8,1275.3H1247.6M1252.2,1275.3H1308.4M1396.8,1275.3H1403M1501.5,1275.3H1509.2M1668.4,1275.3H1673M1853,1275.3H1874.5M1887.6,1275.3H1892.2M1190,1221.6H1323M1343.8,1221.6H1350M1370.7,1221.6H1374.5M1383,1221.6H1390.7M1395.3,1221.6H1410.7M1417.6,1221.6H1427.6M1450.7,1221.6H1464.5M1501.5,1221.6H1509.2M1519.2,1221.6H1530M1539.2,1221.6H1548.4M1553.8,1221.6H1566M1587.6,1221.6H1602.2M1611.5,1221.6H1613.8M1620.7,1221.6H1658.4M1665.3,1221.6H1702.2M1705.3,1221.6H1709.2M1713,1221.6H1718.4M1721.5,1221.6H1737.6M1741.5,1221.6H1745.3M1755.3,1221.6H1763M1780,1221.6H1783M1792.2,1221.6H1795.3M1800,1221.6H1803.8M1830,1221.6H1843.8M1849.2,1221.6H1880.7M1883.8,1221.6H1904.5M1946,1221.6H1958.4M1963.8,1221.6H1969.2M1190.7,1167.9H1256M1259.2,1167.9H1270.7M1275.3,1167.9H1353.8M1363.8,1167.9H1428.4M1440,1167.9H1466.8M1469.9,1167.9H1478.4M1483,1167.9H1497.6M1500.7,1167.9H1512.2M1516.8,1167.9H1608.4M1611.5,1167.9H1769M1777.6,1167.9H1813M1828.4,1167.9H1980M1210,1114.2H1232.2M1245.3,1114.2H1254.5M1260.7,1114.2H1264.5M1297.6,1114.2H1980M1310.7,1060.5H1346M1350.8,1060.5H1369.8M1374.6,1060.5H1383M1406.8,1060.5H1449.7M1455.5,1060.5H1521.2M1529.8,1060.5H1596.3M1603,1060.5H1627.8M1631.6,1060.5H1668.8M1677.4,1060.5H1687.5M1698.3,1060.5H1705M1716.5,1060.5H1791.6M1794.8,1060.5H1839.2M1843.6,1060.5H1853.5M1874.1,1060.5H1887.9M1893.2,1060.5H1916.5M1920.7,1060.5H1947.9M1958,1060.5H1965.1M1968.9,1060.5H1979.4M1323.1,1006.8H1327.9M1331.7,1006.8H1342.2M1362.2,1006.8H1367M1432.6,1006.8H1448.8M1465.4,1006.8H1500.3M1507.9,1006.8H1521.2M1530.8,1006.8H1538.4M1552.3,1006.8H1561.3M1567,1006.8H1587.8M1606.3,1006.8H1612.6M1645.9,1006.8H1649.7M1658.9,1006.8H1665.9M1680.6,1006.8H1686.9M1736.5,1006.8H1740.3M1754.6,1006.8H1758.4M1763.2,1006.8H1791.6M1805.9,1006.8H1829.7M1882.5,1006.8H1887.9M1930.2,1006.8H1944.1M1974.6,1006.8H1979.4M1323.5,953.1H1326.4M1337.4,953.1H1342.2M1472.6,953.1H1486M1511.7,953.1H1514.5M1532.7,953.1H1537.4M1661.5,953.1H1665.4M1680.8,953.1H1686.5M1769.5,953.1H1777.5M1813.9,953.1H1820.8M1769.5,899.4H1776.5" stroke="#000" stroke-width="2" fill="none"/>
<line x1="1182.6" y1="1350" x2="1182.6" y2="1326.5" stroke="#000" stroke-width="2.6" />
<line x1="1182.6" y1="791.8" x2="1182.6" y2="816.8" stroke="#000" stroke-width="2.6" />
<line x1="1262.6" y1="1350" x2="1262.6" y2="1326.5" stroke="#000" stroke-width="2.6" />
<line x1="1262.6" y1="791.8" x2="1262.6" y2="816.8" stroke="#000" stroke-width="2.6" />
<line x1="1342.6" y1="1350" x2="1342.6" y2="1326.5" stroke="#000" stroke-width="2.6" />
<line x1="1342.6" y1="791.8" x2="1342.6" y2="816.8" stroke="#000" stroke-width="2.6" />
<line x1="1422.6" y1="1350" x2="1422.6" y2="1326.5" stroke="#000" stroke-width="2.6" />
<line x1="1422.6" y1="791.8" x2="1422.6" y2="816.8" stroke="#000" stroke-width="2.6" />
<line x1="1502.6" y1="1350" x2="1502.6" y2="1326.5" stroke="#000" stroke-width="2.6" />
<line x1="1502.6" y1="791.8" x2="1502.6" y2="816.8" stroke="#000" stroke-width="2.6" />
<line x1="1582.6" y1="1350" x2="1582.6" y2="1326.5" stroke="#000" stroke-width="2.6" />
<line x1="1582.6" y1="791.8" x2="1582.6" y2="816.8" stroke="#000" stroke-width="2.6" />
<line x1="1662.6" y1="1350" x2="1662.6" y2="1326.5" stroke="#000" stroke-width="2.6" />
<line x1="1662.6" y1="791.8" x2="1662.6" y2="816.8" stroke="#000" stroke-width="2.6" />
<line x1="1742.6" y1="1350" x2="1742.6" y2="1326.5" stroke="#000" stroke-width="2.6" />
<line x1="1742.6" y1="791.8" x2="1742.6" y2="816.8" stroke="#000" stroke-width="2.6" />
<line x1="1822.6" y1="1350" x2="1822.6" y2="1326.5" stroke="#000" stroke-width="2.6" />
<line x1="1822.6" y1="791.8" x2="1822.6" y2="816.8" stroke="#000" stroke-width="2.6" />
<line x1="1902.6" y1="1350" x2="1902.6" y2="1326.5" stroke="#000" stroke-width="2.6" />
<line x1="1902.6" y1="791.8" x2="1902.6" y2="816.8" stroke="#000" stroke-width="2.6" />
<line x1="1982.6" y1="1350" x2="1982.6" y2="1326.5" stroke="#000" stroke-width="2.6" />
<line x1="1982.6" y1="791.8" x2="1982.6" y2="816.8" stroke="#000" stroke-width="2.6" />
<line x1="1222.6" y1="1350" x2="1222.6" y2="1333.5" stroke="#000" stroke-width="2.6" />
<line x1="1222.6" y1="791.8" x2="1222.6" y2="808.2" stroke="#000" stroke-width="2.6" />
<line x1="1302.6" y1="1350" x2="1302.6" y2="1333.5" stroke="#000" stroke-width="2.6" />
<line x1="1302.6" y1="791.8" x2="1302.6" y2="808.2" stroke="#000" stroke-width="2.6" />
<line x1="1382.6" y1="1350" x2="1382.6" y2="1333.5" stroke="#000" stroke-width="2.6" />
<line x1="1382.6" y1="791.8" x2="1382.6" y2="808.2" stroke="#000" stroke-width="2.6" />
<line x1="1462.6" y1="1350" x2="1462.6" y2="1333.5" stroke="#000" stroke-width="2.6" />
<line x1="1462.6" y1="791.8" x2="1462.6" y2="808.2" stroke="#000" stroke-width="2.6" />
<line x1="1542.6" y1="1350" x2="1542.6" y2="1333.5" stroke="#000" stroke-width="2.6" />
<line x1="1542.6" y1="791.8" x2="1542.6" y2="808.2" stroke="#000" stroke-width="2.6" />
<line x1="1622.6" y1="1350" x2="1622.6" y2="1333.5" stroke="#000" stroke-width="2.6" />
<line x1="1622.6" y1="791.8" x2="1622.6" y2="808.2" stroke="#000" stroke-width="2.6" />
<line x1="1702.6" y1="1350" x2="1702.6" y2="1333.5" stroke="#000" stroke-width="2.6" />
<line x1="1702.6" y1="791.8" x2="1702.6" y2="808.2" stroke="#000" stroke-width="2.6" />
<line x1="1782.6" y1="1350" x2="1782.6" y2="1333.5" stroke="#000" stroke-width="2.6" />
<line x1="1782.6" y1="791.8" x2="1782.6" y2="808.2" stroke="#000" stroke-width="2.6" />
<line x1="1862.6" y1="1350" x2="1862.6" y2="1333.5" stroke="#000" stroke-width="2.6" />
<line x1="1862.6" y1="791.8" x2="1862.6" y2="808.2" stroke="#000" stroke-width="2.6" />
<line x1="1942.6" y1="1350" x2="1942.6" y2="1333.5" stroke="#000" stroke-width="2.6" />
<line x1="1942.6" y1="791.8" x2="1942.6" y2="808.2" stroke="#000" stroke-width="2.6" />
<line x1="1182.6" y1="1329" x2="1206.6" y2="1329" stroke="#000" stroke-width="2.6" />
<line x1="1982.6" y1="1329" x2="1958.6" y2="1329" stroke="#000" stroke-width="2.6" />
<line x1="1182.6" y1="1221.6" x2="1206.6" y2="1221.6" stroke="#000" stroke-width="2.6" />
<line x1="1982.6" y1="1221.6" x2="1958.6" y2="1221.6" stroke="#000" stroke-width="2.6" />
<line x1="1182.6" y1="1114.2" x2="1206.6" y2="1114.2" stroke="#000" stroke-width="2.6" />
<line x1="1982.6" y1="1114.2" x2="1958.6" y2="1114.2" stroke="#000" stroke-width="2.6" />
<line x1="1182.6" y1="1006.8" x2="1206.6" y2="1006.8" stroke="#000" stroke-width="2.6" />
<line x1="1982.6" y1="1006.8" x2="1958.6" y2="1006.8" stroke="#000" stroke-width="2.6" />
<line x1="1182.6" y1="899.4" x2="1206.6" y2="899.4" stroke="#000" stroke-width="2.6" />
<line x1="1982.6" y1="899.4" x2="1958.6" y2="899.4" stroke="#000" stroke-width="2.6" />
<line x1="1182.6" y1="792" x2="1206.6" y2="792" stroke="#000" stroke-width="2.6" />
<line x1="1982.6" y1="792" x2="1958.6" y2="792" stroke="#000" stroke-width="2.6" />
<line x1="1182.6" y1="1275.3" x2="1199.1" y2="1275.3" stroke="#000" stroke-width="2.6" />
<line x1="1982.6" y1="1275.3" x2="1966.1" y2="1275.3" stroke="#000" stroke-width="2.6" />
<line x1="1182.6" y1="1167.9" x2="1199.1" y2="1167.9" stroke="#000" stroke-width="2.6" />
<line x1="1982.6" y1="1167.9" x2="1966.1" y2="1167.9" stroke="#000" stroke-width="2.6" />
<line x1="1182.6" y1="1060.5" x2="1199.1" y2="1060.5" stroke="#000" stroke-width="2.6" />
<line x1="1982.6" y1="1060.5" x2="1966.1" y2="1060.5" stroke="#000" stroke-width="2.6" />
<line x1="1182.6" y1="953.1" x2="1199.1" y2="953.1" stroke="#000" stroke-width="2.6" />
<line x1="1982.6" y1="953.1" x2="1966.1" y2="953.1" stroke="#000" stroke-width="2.6" />
<line x1="1182.6" y1="845.7" x2="1199.1" y2="845.7" stroke="#000" stroke-width="2.6" />
<line x1="1982.6" y1="845.7" x2="1966.1" y2="845.7" stroke="#000" stroke-width="2.6" />
<text x="1182.6" y="1384.3" font-size="36" text-anchor="middle" >0</text>
<text x="1262.6" y="1384.3" font-size="36" text-anchor="middle" >20</text>
<text x="1342.6" y="1384.3" font-size="36" text-anchor="middle" >40</text>
<text x="1422.6" y="1384.3" font-size="36" text-anchor="middle" >60</text>
<text x="1502.6" y="1384.3" font-size="36" text-anchor="middle" >80</text>
<text x="1582.6" y="1384.3" font-size="36" text-anchor="middle" >100</text>
<text x="1662.6" y="1384.3" font-size="36" text-anchor="middle" >120</text>
<text x="1742.6" y="1384.3" font-size="36" text-anchor="middle" >140</text>
<text x="1822.6" y="1384.3" font-size="36" text-anchor="middle" >160</text>
<text x="1902.6" y="1384.3" font-size="36" text-anchor="middle" >180</text>
<text x="1982.6" y="1384.3" font-size="36" text-anchor="middle" >200</text>
<text x="1175.5" y="1342" font-size="36" text-anchor="end" >0</text>
<text x="1175.5" y="1234.6" font-size="36" text-anchor="end" >2</text>
<text x="1175.5" y="1127.2" font-size="36" text-anchor="end" >4</text>
<text x="1175.5" y="1019.8" font-size="36" text-anchor="end" >6</text>
<text x="1175.5" y="912.4" font-size="36" text-anchor="end" >8</text>
<text x="1175.5" y="805" font-size="36" text-anchor="end" >10</text>
<rect x="1182.6" y="791.8" width="800" height="558.2" fill="none" stroke="#000" stroke-width="4.3" stroke-linejoin="miter"/>
<text x="1503.2" y="1421.8" font-size="39.5" text-anchor="start" >Time (ns)</text>
<text transform="translate(1120,1314.2) rotate(-90)" font-size="40.4">Number of hydrogen bonds</text>
</g>
<g id="pb">
<defs>
<path id="p1" d="M1100 535l4 -5l-2 -6l4 -5l-5 -4l2 -7l-5 -5M1287 391l-3 5l1 6l-5 3l-3 5l-4 -6l-5 3l-5 -2l-6 2l-4 -5M1372 733l7 -1l3 -5l7 0l2 -7l7 0l5 -3l4 6l6 -3M1371 624l5 1l5 -2l6 1l5 -4l6 0l3 -5l6 -3l-1 -6l3 -5l-2 -5M1265 609l4 -3l-1 -5l5 -2l2 -6l6 2l4 -4l7 1l1 -7l6 -1l0 -6l3 -6l-4 -5l1 -7l0 -6M1280 653l5 4l6 -2l6 1l4 -6l6 -1l-2 -6M1144 529l3 7l5 -3l4 4l8 -1l1 7M1070 535l-5 5l1 7l-3 5l5 5l-4 6l2 6l-6 4l0 7M1355 592l5 3l5 -5l6 3l5 -4l5 3l4 -3l5 6l5 -1M1172 548l-6 2l-2 5l-7 2l0 7l-5 4l3 5l-5 5M1241 378l-4 -5l-6 2l-6 -3l-6 4l-6 -1M1035 492l6 0l1 -6l6 3l5 -4l6 1l5 -6l5 3l5 -2l6 1l4 -4M1220 470l6 -3l2 -6l6 -3l-1 -5l4 -6l-4 -6M1372 469l2 7l7 -1l4 3l7 -1l4 5l5 -5l3 6l6 3l2 6l5 5l0 6l5 -3l6 3l5 -2M1120 385l-2 6l3 6l-2 7l5 3l-1 6l1 8l-5 2l0 7l-2 6M1276 533l0 7l5 4l-3 5l1 7l-5 2l-1 6l-7 0l-3 5M1412 478l-6 -2l-3 5l-6 -2l-4 5l-5 -4M1215 453l4 -4l2 -6l5 1l5 -3l6 0l6 -3l6 5l5 -3l4 5M1304 516l-1 -6l-7 2l-6 -3l-6 3l-5 -3l-4 4l-6 2l1 7l-4 4l1 6l-5 6l-1 5l-7 2l-1 5M1109 591l6 -3l-2 -6l4 -6l-3 -5l2 -6M1297 547l-4 -3l-8 0l-3 -7l-7 3l-3 -7l-7 -2l-2 -5M1395 664l-4 -4l-4 3l-7 -1l-6 4l-5 -5l-7 1l-5 -4l-5 4M1165 515l4 -6l0 -6l6 -2l0 -7l5 -4M1034 492l5 -4l-1 -6l4 -4l-1 -6l2 -6l-3 -6l5 -5M1249 386l3 6l5 3l-1 6l5 4l3 6l8 -1l6 3l1 -5M1243 377l-4 5l5 6l-3 6l3 6l-4 5l4 5M1144 528l5 4l6 -2l3 7l7 -1l2 7l6 2l2 6l6 -1l3 5l7 -1l4 6l5 -3l4 6l5 -4M1071 473l-4 5l1 6l-2 5l3 6l-3 4l3 6l-2 6M1227 684l6 -3l2 -5l6 -1l2 -6l8 -1l4 -5l6 3l2 -5l7 1l4 -5l4 6l6 2M1230 444l-1 -6l-6 -3l-2 -5l-6 -3l-1 -5l-6 -2l1 -6l-5 -3l-2 -6l-7 -1l-3 -7l-4 -2l-2 -7l-7 0M1436 627l6 -1l3 -5l5 1l5 -3l6 4l6 -3l5 2l4 -6l4 5l6 2l2 6M1194 582l1 7l6 2l5 4l6 -1l2 6l6 2M1427 572l1 6l5 3l-3 6l2 5l-7 0l-2 7l-6 -1l-4 5M1315 641l5 -3l-2 -7l7 -4l2 -5l6 1l4 -4l4 4l6 1l1 5l6 3l1 7l4 4M1372 419l-6 2l0 7l-5 1l2 7l-4 4l-4 5l-6 -2l-6 3l-6 -2l-4 5l-6 1l-1 7M1354 527l2 -6l-3 -5l1 -7l-3 -5l3 -7l-3 -5l6 -2l1 -5l6 1l4 -6l6 -1l3 -7l5 -1M1074 523l-4 4l1 5l-7 3l-3 5l-6 1l-3 7l-6 -2l-5 5l-5 -6M1118 425l-2 -5l-6 3l-5 -5l-5 1l-4 -5l-6 1l-5 -5M1297 542l1 -7l-5 -5l0 -7l-6 1l-5 -3l-7 -1l-1 -6l-7 -2l-1 -5l-5 -2l1 -6l-6 -3M1070 448l-1 7l4 3l-3 4l3 7l-6 3l2 6l-6 2l0 5l-4 5l3 5l-6 4l1 7l-4 6M1291 591l5 4l6 -1l3 5l6 -1l5 3l7 -3l4 5l6 2l2 6l6 2l0 7l7 1M1252 725l3 -4l-2 -7l6 -2l-2 -7l3 -5M1128 451l6 4l6 -2l3 7l6 3l-6 4l1 6l-6 4l-4 5l-5 -2l-3 6M1323 454l3 -6l-2 -5l4 -6l-4 -6l5 -5l-6 -2l-4 -5l-6 3l-3 -6l-7 -1l-1 -7l-6 -2l-4 -5M1237 556l6 2l6 -1l3 4l6 1l4 5l6 3l2 7l6 0l6 4M1122 631l2 -8l-6 -2l-2 -5l-5 -3l-1 -5l-6 2M1410 467l-6 3l-2 5l-5 5l2 6l-3 7l3 7l-5 4l1 7l-6 3l-4 6l-6 -1l-3 6l-5 2l2 5M1311 730l-3 -6l-7 2l-4 -5l-6 3l-5 -2l-2 7l-5 3M1224 473l-7 0l1 6l-6 -2l-4 5l-7 -1M1330 421l-2 7l2 7l-3 6l1 7l-1 6l5 0M1107 556l7 2l2 -5l7 0l0 -6l4 -6M1217 689l-1 7l5 4l-2 5l3 5l-2 6l7 1l5 4l4 -4l6 2l4 -5M1205 521l7 2l5 -3l5 3l5 -4l5 3M1160 492l4 6l6 -3l6 4l6 -3l5 2l5 -4l6 0l1 -7l6 -5l-2 -5l5 -5M1133 445l2 -6l-2 -7l4 -4l-6 -3l0 -7l-5 -3l-2 -6l-7 -2l-2 -5M1232 316l-5 3l-1 7l-5 2l0 7l-5 4l-2 5M1300 607l-4 -6l-6 0l-2 -7l-5 -4l-2 -6l-4 -6l-1 -5l-2 -6M1486 621l-4 -3l-7 2l-4 -6l-7 1l-2 -6l-7 -2l0 -7l-5 -2l-4 -7l-6 -1l1 -6l-4 -3l1 -6l-4 -5M1283 527l-2 -7l-4 -5l0 -7l-6 2l-6 -5l-6 -3l-2 -7l-5 -4l-2 -6l-5 -3l-1 -7l-6 -2l4 -5M1279 504l5 -4l-2 -5l7 -1l1 -6l6 0l0 -7l3 -6l-1 -7l4 -3l-5 -6l2 -6l-6 -3l-5 -5l-7 2M1310 467l5 -3l1 -7l6 -2l1 -5l6 -3l-3 -6l2 -6l-5 -6l2 -6l-3 -6l3 -5l-3 -5l3 -6l-4 -4M1253 506l-2 -7l-6 2l-5 -5l-6 -1l-4 -4M1124 402l6 2l6 -2l5 2l5 -3l5 3l5 -4l6 3l6 -4l5 3l5 -4l6 1l6 -5M1081 526l5 -4l0 -6l6 -3l1 -7l6 -3l-2 -7l4 -4l-2 -6l4 -5l-1 -7l6 -3l1 -6M1117 459l-5 -4l-3 6l-6 -2l-7 2l-6 -3l-4 4l-4 -4l-7 0l-6 -4l-6 4l-7 1l-4 5M1281 409l-6 -3l-5 4l-4 -3l-5 4l-6 -1l-3 6M1151 471l5 -5l4 -6l7 1l1 -7l4 -3l-5 -4l3 -5l-2 -6l6 -2l0 -6l6 -1l1 -7l6 0M1217 577l-5 -4l-4 5l-6 0l-2 5l-6 0l-5 6l-6 -3l-1 7l-5 3l-2 6l-5 3l-2 5M1299 451l6 0l3 -6l4 -4l0 -6l2 -6l-4 -5l-1 -5l-7 -1l-4 -5l-7 1l-2 -6l-7 -2l-3 -5M1402 578l-1 7l7 2l-2 6l2 5l-4 4l-1 8M1446 569l0 -7l-7 -1l0 -8l-6 -3l2 -6l-4 -5l0 -7l-6 -1l0 -7l-6 -2l0 -7l-7 -1l-5 -3M1180 689l6 1l5 -4l7 0l6 -4l5 -1l2 -6l7 -2l0 -6l6 -2l2 -5l7 -1M1262 617l-1 5l2 5l-5 -3l-3 5l-5 3M1152 481l6 2l2 -6l6 -2l-1 -7l6 -4M1261 644l4 -4l0 -7l7 -1l4 -5l5 4l6 1l-2 5l4 5l-4 6l1 5l-2 6l3 5M1423 623l6 -5l-5 -4l3 -5l-3 -6l0 -6M1388 437l7 0l4 -6l7 3l2 -5l4 -5l2 -7l6 -2l3 -5M1258 473l-2 -6l-7 0l-4 -5l-7 -1l-5 -3l-5 2l-6 -3l-6 4l-6 -2M1206 461l1 -5l-2 -5l4 -5l-4 -5l-1 -6l-5 -5l2 -6l-6 -1l-1 -5l-6 0M1397 613l-6 -3l-6 3l-5 -2l-6 2l-6 1l-2 6l-6 -2l-1 7l-4 5M1334 553l6 1l6 -4l6 2l2 -5l5 -6l1 -6l6 -3l-1 -5l5 -4M1160 427l4 -5l-3 -5l0 -6l-3 -6l4 -5l-1 -7l6 -3l-4 -5l4 -5M1077 501l-5 -2l-3 4l-5 -2l-5 2l-7 0l-4 4l-6 -2l-2 6M1288 475l5 -1l3 -7l5 3l5 -4l6 -2l1 -7M1096 461l5 2l7 0l6 2l3 -5l6 0l2 -7l6 -2l-4 -4l5 -5l2 -6l4 -4M1379 720l-1 6l5 3l-2 6l3 6l-5 3l1 7M1376 598l7 4l4 -4l7 2l4 -5l6 2l6 -1l2 6l3 4l0 7M1193 416l6 -1l5 -4l5 2l6 -4l5 3l7 -2l5 5l6 3l3 6l5 3M1222 690l-4 4l2 7l-3 5l2 7l-3 6l4 4l-4 5M1311 682l-5 3l-2 5l-6 2l-1 6l-5 -2M1265 681l-2 5l6 3l4 5l7 -3l7 -1l0 -7l5 -4M1274 685l5 -3l-2 -6l6 -4l-2 -6l6 -3l-1 -7l7 -2l3 -6l6 -3l2 -7l6 -2l-2 -7l4 -5M1092 437l-4 6l3 5l-6 3l-1 7l-6 0l-1 6l-7 2l-2 7l-6 -2l-5 4l-6 -3l-7 0l-2 -7l-7 -2M1297 508l-6 0l1 7l-6 3l-2 6l-5 3l0 7l-7 1l-4 4l-5 4l1 7l-6 4l2 6l-4 4M1442 553l-7 0l-1 6l-6 0l-3 5l-6 0l-3 6l-6 4l2 7l-4 4l1 5l-4 5l2 6l-2 7l4 6M1388 630l6 6l6 1l1 6l4 6l-3 6l-1 6M1298 587l0 7l5 3l3 6l7 1l1 7l6 1l1 6l6 4l-2 6l4 4M1231 674l-6 3l-4 5l-6 -3l-6 2l-7 -3l-5 4l-7 -1l-7 0M1280 515l7 1l5 -5l5 -2l-2 -7l4 -5l-2 -5l5 -5l0 -7l5 -1l0 -7M1335 648l-4 -5l-5 5l-6 0l0 5l-5 2l0 7M1410 610l5 -3l5 -4l5 2l5 -2l5 4M1198 535l3 -7l-6 -1l2 -7l-5 -5l0 -6l-4 -3l-1 -6l-6 -3M1278 562l1 6l6 4l-1 5l3 6l-6 0l-2 5l-6 1l-5 3l-1 -5l-6 2l-6 2M1326 631l4 -5l-6 -5l0 -6l-6 -3l0 -7l-4 -5l-1 -5l-6 -3l-3 -4l-8 -1l-2 -6l-4 -4M1123 545l-5 3l1 5l-5 6l1 5l-4 6l3 6M1416 629l5 5l6 -1l3 6l6 0l6 2l5 -4M1091 594l-6 -2l-4 6l-6 1M1401 454l-1 6l5 5l-1 7l3 4l0 7l6 2l1 6l7 2l2 6M1215 350l6 4l5 -4l6 -1l4 -6l6 2M1260 359l6 -3l0 -6l6 1l2 -6l7 1l6 -4M1314 678l-1 6l6 3l0 7l5 5l-2 7l2 6l-3 5l4 5M1267 399l1 6l5 4l-1 7l2 5l-4 4l2 6l-2 5l3 6l1 6M1111 497l7 0l3 -5l7 -1l1 -7l6 -1l4 -4l6 3l6 -2l4 6l6 3l1 6l6 0l3 5M1186 632l5 5l6 -2l2 6l7 1l3 7l5 4M1126 477l0 -7l-6 -5l2 -7l-5 -3l0 -6l-6 -1M1282 664l6 1l4 -7l6 2l5 -4l5 3M1376 595l-5 -4l-4 6l-7 0l-7 2l-4 -3M1212 496l5 4l6 0l4 5l6 -3l6 3l4 -6l6 4l5 -3M1102 518l2 5l6 4l1 7l6 0l0 7M1319 618l-4 -4l-6 -2l-1 -6l-7 -2l-2 -5l-5 1l-1 -6l-6 -4l3 -5l-2 -6l5 -3l-1 -6M1088 522l-1 -6l-6 -2l4 -6l-3 -6l-3 -6l-7 -2l-5 -4l-6 2l-7 -2M1434 681l4 -4l0 -7l5 -4l-1 -6l5 -5l2 -6l4 -5l-4 -5l0 -7l-3 -6M1148 565l2 5l6 2l-3 6l6 4l-4 7l6 2l4 4l7 -1l4 5l5 -5l5 6l6 0M1327 527l-2 -6l-6 2l-3 -7l-6 1l-4 -5M1221 383l-6 -4l-6 1l-2 -6l-5 -4l0 -6l-5 -4l0 -6l-2 -6M1446 547l3 5l7 0l2 5l5 4l-2 6M1383 595l5 3l6 0l2 7l4 3l-1 7l5 3l1 6M1425 569l2 7l7 3l-1 5l6 3l3 7l5 -3l5 3M1369 657l-4 4l2 5l-4 4l4 5l-5 4l-1 6l-5 5l2 5l-4 6l0 7l-5 3l-3 5l-7 0l-6 3M1357 466l-5 4l-3 5l-4 -3l-7 1l-1 -6l-6 -5l1 -6l-7 0l-6 -2l-4 3l-7 0M1260 500l7 -2l3 -6l6 -1l2 -7l6 -2l0 -7l5 -5l-2 -6l4 -6l-4 -4l1 -7l-7 -1l-1 -6M1085 517l-3 -5l-4 -5l2 -6l1 -6l4 -5l5 -4l7 3l4 -4l7 1l-2 -6l1 -6l-5 -4M1314 644l3 -5l0 -6l5 -5l-3 -7l2 -5l-4 -6l6 -4l-2 -7M1279 639l-4 5l3 6l-3 5l-1 6l-5 4l-6 3l-7 -1l-5 6l-7 -2l-5 4l-7 1l-3 6M1251 612l-4 4l3 6l-5 5l1 6l-1 6l2 5l-5 3l0 7M1237 530l6 0l4 -4l6 -3l5 -5l6 3l6 -1l6 2l6 -3M1345 736l-1 -7l-6 0l-3 -6l-6 -1l-1 -6l-5 -3l-1 -6l-6 -3l1 -7l-5 -5l-1 -5l-6 0l-2 -7l-6 -1M1216 408l-7 3l-1 5l-7 3l1 7l-6 4l1 6l-5 4l1 7l-5 6l-5 3l-4 -3l-6 2l-5 -3l-6 -1M1281 446l-6 -2l-6 4l-7 -1l-6 1l-6 -2l-3 4l-7 0l-6 3l-5 -4l-7 3M1326 538l-5 -2l-7 0l-4 -5l-5 3l-4 -4l-6 0l-2 -5M1188 422l-6 4l-2 6l-6 0l-4 4l-7 1l-5 5l-6 2l-1 7l-2 7l4 5l-1 7l6 0l0 6l5 4M1338 564l-3 -4l-6 -1l-3 -4l-7 1l-5 -5l-7 2l-3 -6M1110 477l0 -6l-4 -4l-1 -6l-6 -1l-2 -6l-6 -4l5 -5l1 -7l6 1l4 -5l7 0l0 -6l5 -4l1 -5M1212 681l2 -6l-6 -3l-1 -7l-8 -1l-3 -6l-7 -1l-4 -5l-7 0l-4 -4l-4 4l-6 -3l-5 1l-4 -5M1172 688l-6 -1l-6 3l-7 0l-6 4l-6 -2l-3 7l-6 0M1113 535l-4 -4l-5 2l-6 -3l-5 3l-6 0l-3 5l-6 -3M1202 657l-3 6l6 1l4 4l7 -1l5 3M1043 506l-2 -6l-7 2l-3 -5M1263 446l5 -4l-3 -5l2 -5l-3 -7l5 -4l1 -6l5 -4l-4 -6M1077 494l-5 -2l-7 2l-3 -4l-6 -1l-5 -3"/>
<path id="p2" d="M1484 655l-3 6l4 5l0 6l6 2M1048 482l-4 5l4 3l-6 4l3 6l-4 4l2 7M1084 640l4 -5l0 -6l7 -1l0 -7l5 -2l3 -6M1115 510l4 6l7 -1l5 2l3 -4l5 3l7 2l2 5l6 1M1195 572l2 -6l-6 -1l-3 -6l-6 -1l-2 -6l-6 -2l1 -6l-5 -3l1 -6l-4 -6M1257 373l-2 -7l-5 -3l-2 -6l-5 -3l2 -5l-4 -5l3 -7l-6 -3l0 -7l-5 0l-5 -6l-6 -1M1149 474l3 6l7 1l3 5l6 1l5 3l7 1l2 6l2 5l1 5M1169 500l-3 5l1 7l-3 5l3 7l-3 5l5 5l-2 7l3 6M1438 606l4 -4l-2 -6l4 -6l-6 -4l1 -6M1156 472l6 -3l-1 -7l6 -4l-1 -6l6 -3l1 -7M1391 683l6 -2l2 -7l6 -3l2 -6l6 -2l-1 -5l4 -4l-4 -5l3 -6l-4 -5l-1 -7M1241 551l1 7l5 2l-3 6l6 4l-1 5l4 6l-3 5l4 6l-4 5l2 6l-5 4l-2 6l-6 2l-5 6M1278 707l2 6l4 3l-2 5l3 5l1 7l6 0M1244 604l-4 6l4 4l3 7l7 1l0 6l5 4l-2 7l5 3l-3 6M1055 517l-5 -3l-7 2l-4 -3l-5 2l-3 -5M1272 509l5 -4l0 -7l6 -3l-1 -6l5 -3l2 -6l5 -3l-1 -7l5 -4l1 -6l6 -4M1267 566l-5 4l3 4l-3 5l1 6l-6 1l-6 4l-5 -1l-5 6l-6 3M1234 688l-5 -4l-7 1l-5 -5l-6 3l-7 -3M1034 424l-6 1l-3 5l-5 4l0 6l-5 5l-1 6M1258 635l0 -7l-7 -2l-1 -7l-6 -1l1 -6l-6 -3l0 -7M1185 373l5 3l5 -2l5 3l7 -1l4 6l6 3l0 7M1434 553l-5 -1l-5 4l-6 -3l-5 0l-2 -5l-6 0l-3 -6l-6 -4l1 -6M1272 391l-6 3l-1 6l-7 2l-4 4l-7 1l-5 4l-5 -5l-5 5l-7 -2l-6 3l-1 -6l-6 -1M1254 323l7 2l2 -6l5 -4l0 -7M1296 405l-5 5l2 6l-4 5l5 5l-3 5l2 5M1238 402l-6 -1l-4 5l-6 1l-2 6l-5 3l3 4l0 6l6 0l5 5l6 -1l5 3l3 -6l7 1l5 -5M1185 625l-3 -5l-7 1l-5 -5l-5 5l-5 0l-2 7l-6 0l-4 5l-5 2l3 6l-6 4l0 6l-6 2M1361 482l5 -5l-3 -5l0 -6l-5 -4l1 -7l-4 -4l-1 -7l-6 -1l-3 -6M1229 640l6 1l5 -4l6 4l4 -5l7 0l4 -4l5 2l2 -6l7 2l6 -2M1183 718l-3 4M1315 564l-7 -1l-5 5l-5 -3l-6 1l-5 -5l-7 1M1202 435l2 5l3 7l-3 4l3 6l-3 6l2 5l-5 5l0 5l-6 2l-2 5M1163 645l-1 -5l-8 -2l-3 -5l-5 1l-5 -5l-6 -2M1232 591l-6 0l-1 5l-7 -3l-1 7l-6 1l-4 6l-7 -1l-4 6l-6 -2l-4 4M1088 420l-7 -1l-3 6l-7 -2l-4 4l-5 -3l-4 6l-5 -5l-4 3l-5 -4l-6 4l-5 -3M1384 681l-7 2l-1 7l-5 1l1 6l-3 4l4 6l-2 5l4 6l2 5l4 4l-3 6M1419 666l-1 -6l-4 -6l3 -6l-6 -3l-1 -7l-5 -3l2 -7l-6 -4l1 -6l-7 0M1372 444l-7 1l-5 4l-5 -4l-5 4l-4 -6l-6 2l-5 -3l-7 2l-4 -4l-6 0l-5 -5M1286 471l4 -5l1 -7l6 -3l-3 -5l3 -7l-5 -4l0 -6l-6 -4M1398 421l0 -5l-7 -1l1 -6l-5 -4l1 -7l-4 -5l0 -7M1167 518l6 -2l4 -6l5 -2l-2 -5l3 -6l-2 -7l4 -5l2 -5M1209 643l-5 3l2 6l-6 5l4 5l-3 5l2 6M1316 677l5 -3l2 -5l6 3l6 -3l4 4l3 -4M1296 539l7 -2l1 -6l3 -6l-5 -6l4 -5l-6 -2l-1 -7l-5 -1l-3 -6l-7 -2M1307 464l1 -7l-6 -5l1 -5l-5 1l-4 -5l-7 -2l0 -7l-6 -2l1 -5l-4 -6l1 -6M1065 486l-4 4l1 7l-5 3l0 6l-5 4l1 6l-4 6l4 6l-3 7l2 6M1094 479l-6 -1l-5 6l-7 0l-5 5l-5 -3l-6 2l-4 -5l-7 -1l-2 -6l-6 -3M1205 408l-2 6l4 5l-6 1l-4 4l-6 0l-3 5l-5 1l-1 6l-6 1l2 7l-5 5l-1 5M1308 577l-1 -7l-6 -1l-3 -7l-4 -4l-1 -5l-5 -5l-3 -6l-7 0l-3 -6l-4 -4l4 -4l-4 -5l2 -6M1368 457l-3 -6l-6 3l-4 -5l-6 -3l3 -5l-4 -5l3 -6l-2 -6l6 -3l-2 -6l3 -7l-4 -5M1313 659l-2 5l5 5l-2 6l3 5l0 7l4 3M1210 460l-4 -5l-6 -3l-2 -5l-6 -1l-2 -6l-7 1l-2 -6l-6 1l-4 -4l-6 0M1070 535l6 1l4 -5l5 -3l-1 -6l5 -2M1361 702l3 -6l-4 -6l7 -3l-1 -5l4 -4M1272 610l2 -7l-6 -5l0 -6l-5 -3l3 -5l-5 -6l4 -5l0 -6l5 -4l-3 -5l3 -4l0 -6M1257 586l-6 1l0 6l-4 5l-4 5l-7 0M1305 394l-1 6l6 4l3 6l7 0l3 4l6 -3l5 4l6 -2M1235 489l0 -7l-5 -4l-1 -7l-6 -2l-2 -6l-6 -1l2 -5l-5 -4M1156 603l3 -5l-5 -4l-1 -6l-6 -1l-2 -7l-7 -1l-1 -7l-7 0M1194 348l-2 5l3 6l-4 4l1 6l-5 5l1 7l-6 3l2 6l-7 3l-3 7l-8 0l-2 6l-6 2l-2 6M1286 495l6 0l1 -6l6 -3l2 -7l5 -4l-3 -6M1168 454l-7 -1l-3 5l-6 1l-1 6l-6 3l-2 7l-6 1M1178 471l-7 1l-6 1l-5 -5l-5 1l-6 -1l-7 0l-4 -5M1082 428l3 7l7 0l-1 7l5 2l0 7l5 4l1 6l7 2l4 5l6 -2l5 4l6 -1M1365 514l-2 -7l-6 -1l-1 -7l-6 0l-1 -7l-7 -2l1 -6l-6 -3l-1 -7l-5 -4l-2 -6M1177 670l5 -4l1 -6l7 2l7 0l2 6l7 1l2 7l6 1M1261 355l-5 -3l-6 2l-5 -5l-5 1l-5 -4l-5 1l-3 -4l-6 -1l0 -7l-3 -6l-1 -7M1334 714l2 7l6 3l-1 6l6 3l1 6l6 0l0 7l6 -1l7 2l4 -3l4 6l6 1M1320 627l-6 3l-4 5l-6 -1l-1 7l-5 4l-1 7M1297 639l2 6l7 1l-3 6l2 6l-2 7l6 1l5 4l6 -2l6 4M1265 417l2 5l7 2l6 3l3 -6l5 -3l1 -6l3 -6l-3 -6M1093 382l-6 -2l-6 1l-6 -4l-5 4l-5 -3l-3 4l-6 -3l-6 1M1233 509l-4 5l2 6l-3 5l2 5l-5 4M1453 570l3 -5l-4 -4l0 -6l-6 -3l1 -7M1393 434l-2 -6l-6 -2l-6 -2l-3 7l-4 4l0 7l-6 3l1 7l-3 5l6 4l-3 6l-1 5l-6 1M1133 537l6 1l5 -5l5 2l5 -3l6 4l6 -4l6 1l5 -4l5 3l6 -3l7 3M1171 565l0 -7l-4 -4l1 -7l-3 -4l5 -2l1 -7l6 -2l5 -4l6 3l5 -3l2 7l6 1l-2 6l5 5M1271 405l5 -4l-1 -7l3 -4l-3 -6l1 -5l-5 -4l0 -7l-7 0M1141 641l-6 -4l-2 6l-6 1l-3 6l-6 0l-4 5l-4 4l0 6l-4 5M1222 377l2 6l6 2l3 6l6 -1l2 6l7 2l-1 6l5 3l1 7M1276 683l-7 1l-2 6l-5 0l-6 3l-6 -3l-4 6l-7 -1M1087 528l-5 -4l-5 5l-6 -2l-3 5l-6 0l-4 6l-6 -3l-5 4l-5 0l-6 5M1141 674l2 -5l-6 -3l-3 -7l-6 -3l1 -6l-5 -1l-2 -7l-6 -1l-1 -6l-7 -1l-2 -6l-6 -1l-1 -6M1255 617l-3 6l5 2l3 6l5 2l1 6l6 3l4 5l6 -1l1 7l7 0M1207 668l-6 1l0 6l-5 3l1 7l-4 6l-1 7l-3 5l2 6l-6 3l1 7l-5 4M1276 670l2 6l7 -2l5 5l6 0l2 6l7 1M1144 552l7 3l3 -5l6 2l5 -2l4 5l6 -2l2 6l6 -2l4 5l8 -1l5 3l5 -2M1204 340l6 0l3 -5l5 4l6 -5l6 3l7 -2l3 4l7 0M1195 700l6 0l2 -5l5 -5l-2 -6l5 -6l-5 -5l3 -6l-2 -4M1255 638l-7 1l-4 5l-6 0l-5 5l-7 -2l-5 5M1309 413l3 -5l-2 -6l5 -5l0 -6l3 -5l-5 -3l3 -7l-5 -5l1 -7l-6 0l-7 -2l-6 3l-7 -3l-6 1M1309 724l1 7l6 0l2 6l6 3l1 7l7 1M1326 566l3 5l7 -3l5 3l5 -4l6 0l4 -5l6 1l5 -3l6 1l5 -3l7 2l1 -6l6 1M1357 675l7 -1l4 -4l6 2l6 -3l5 3l7 -3l5 3l5 -3l6 -1l2 -6M1152 518l4 5l7 2l2 5l6 2l3 6l6 0l7 3l5 -2l4 4l7 -2l6 0l3 -6l7 4l2 -7M1448 557l2 5l6 1l5 5M1293 476l-1 6l4 6l1 5l5 2l3 6l6 0M1348 448l-4 4l2 7l-4 3l-1 7l-6 -2l-3 7M1428 458l2 5l6 -1l4 4M1273 599l2 7l7 1l2 6l7 0l2 7l5 -1l6 2l6 1l3 5l7 2l5 4l5 -3l6 3M1214 550l5 5l6 0l-1 6l6 4l1 5l4 3M1404 574l1 7l5 3l3 6l6 1l2 6l7 0l4 4l6 -3l4 6l7 -1l6 3l6 -1l6 4M1415 663l-4 5l4 5l-2 6l5 3l-3 5l3 5l-1 6l4 4l-3 7l3 7M1081 417l2 5l7 1l4 6l7 -3l4 4l6 0l3 6l3 5M1433 557l-4 6l4 5l3 5l6 -2l2 6l6 3l1 6l6 0M1346 724l-1 -6l-6 -3l0 -6l-4 -5l1 -7l-3 -5l1 -6l-3 -5l6 -4l2 -6l7 -2l-2 -6l5 -3M1374 670l-3 -5l-5 -3l-1 -6l-5 -4l1 -6l-5 -3M1187 577l6 3l7 -1l2 5l6 2l2 6l5 3l-3 6l5 4l-1 6M1364 605l-2 6l1 7l-4 5l0 7l-3 6l4 6M1217 606l-5 -5l-4 5l-7 -3l-5 4l-5 -5l-5 3l-6 -4l-6 3l-6 -3l-5 3M1408 554l-6 -2l-5 4l-7 -2l-3 6l-6 0M1316 530l-2 6l4 5l-2 5l4 6l0 7l6 3l-1 5l7 3l1 6l5 4l-4 6l3 6l-5 4M1063 502l-6 -1l-3 5l-6 1l-1 6l-7 0l-3 5l-6 0M1205 412l-6 3l3 6l-7 2l0 6l-5 5l3 6l-6 1l-3 5l-6 -2M1170 436l0 -6l-5 -3l1 -7l-4 -5l4 -5l-3 -7l5 -3l1 -7M1278 464l-4 -3l-2 7l-5 2l0 8l-5 2M1215 361l1 6l7 2l-4 6l4 4l4 6l5 3l0 6l4 5l0 6M1211 338l5 -2l-1 -6l6 -1l3 -7l6 1l4 -5l5 -2l3 -5l7 0l3 -7l5 3l7 -2l3 5M1140 639l1 7l4 5l-1 6l2 5l-3 5M1106 464l2 -6l-5 -4l-1 -6l-6 -3l2 -5l-3 -6M1255 476l5 1l2 -5l7 0l3 -5l6 2l7 -2M1075 509l5 -3l-1 -7l5 -3l0 -6l5 -3M1465 585l-2 6l5 4l3 5l6 1l2 6M1375 412l3 6l5 0l1 6l6 4l0 7M1162 537l-2 6l5 4l1 7l5 2l1 6l7 1M1253 661l5 4l5 -3l7 -3l0 -7l3 -5M1303 438l-5 -5l-7 0l-4 -4l-3 6l-6 0l0 6l-5 4l0 7l-5 4l-2 6M1258 396l1 7l7 3l3 5l7 -2l3 5l5 1M1360 666l3 6l7 1l0 6l6 0l-2 7l5 2l-1 7l6 3l0 5l7 2M1281 449l7 -2l-4 -4l5 -6l0 -6l6 -4l2 -7l7 1l5 -4l7 2M1112 412l-3 -5l-7 -2l1 -6l-4 -5l4 -4l-1 -7l6 -4l-3 -6M1371 672l-5 3l3 5l0 6l4 5l-6 3l-2 6l-6 -2l-5 5l-6 -1M1152 384l-7 1l-4 4l-7 -1l-4 6l-5 1l0 6l-3 5l4 4l-1 6l3 5l-5 4M1085 583l-1 -7l-4 -3l0 -7l-6 -5l-3 -5l-7 1l-3 -6l-7 0l-4 -5l-5 3l-2 -6M1134 666l-3 5l3 5l-4 4l5 5l1 7l7 1l5 4M1175 434l2 -7l-6 -2l-3 -6l-7 0l-6 -5l-5 3l-6 -2l0 6l-6 4l4 6l-3 6l6 4l-1 6M1232 493l2 -5l-2 -5l0 -6l-3 -6l5 -4l-4 -5l5 -4l-2 -7l3 -6M1224 612l1 6l6 1l4 5l6 -2l4 5l6 0l3 5l4 -6l5 2l4 -3l7 1M1100 445l7 1l0 -7l3 -6l-6 -4l0 -6l-2 -5l2 -5l0 -6l6 -2l2 -5M1161 643l-1 7l6 3l-2 6l4 5l-3 7l4 6l-1 6l6 1l2 7M1170 583l7 -2l0 -6l5 -2l-3 -6l2 -5l-2 -6l7 1M1219 424l7 1l3 -5l7 0l3 -5l6 -1M1260 464l7 -1l1 -6l7 -2l5 -5l6 1M1221 664l-3 -6l-6 -2l1 -7l-6 -2l-3 -6l-5 3l-5 -3l-6 4l-5 -3l-5 3l-6 -3M1237 323l-4 5l4 5l-2 5l-1 5l-7 2l1 6l-5 4l1 6l-1 5M1196 516l6 0l1 -6l7 1l5 -5l5 5l4 -5l5 3l5 -4l5 -2l1 -5l6 -3l0 -6l3 -4M1401 661l-5 5l3 4l-4 5l4 7l-1 6l5 4l0 6M1463 633l-6 -3l-3 7l-5 3l-3 5l-5 4l0 6l-6 3l2 6l-6 3l4 6l-1 6M1263 503l2 -6l-5 -4l1 -6l-5 -4l-1 -7l-7 -1l-3 -5l-6 -5l-1 -7l-5 -4l2 -7l-1 -7l4 -6M1169 556l5 -4l2 -6l6 0l-1 -7l6 -3l1 -6l5 0l2 -5l6 -1l4 -6"/>
<path id="p3" d="M1301 525l5 4l5 1l4 5l7 -1l4 5l7 0l6 3l6 -3l4 6M1162 502l6 4l6 -2l5 5l6 2l1 7l5 0l4 5l6 -2M1274 602l-6 -4l-6 1l-5 -5l-6 0l-4 -6l-5 4l-5 1l1 6l-6 2l-3 5l-5 3l-1 6l-8 0l-5 2M1407 673l-4 -4l-7 1l-5 -3l-5 3l-5 -4l-7 -1l-3 -6l-7 0l-2 -6l-6 -1l-4 -5l-4 4l-7 0M1276 434l6 3l6 -1l4 5l7 0l2 6M1210 656l-2 5l2 6l-6 3l1 6l-6 3M1325 697l-7 -2l-3 6l-6 1l-3 6l-6 -3l-6 1l-4 -4l-6 2l-4 -6l-7 -2l-5 -5l-6 0M1210 383l-1 -6l-6 0l-3 -7l-6 2l-6 -4l-5 3l-7 -3M1258 642l0 -5l-3 -5l3 -5l1 -8l6 0l2 -6l7 2l6 -2l5 4l6 1l1 7l6 -2l3 5M1376 629l5 -2l1 -7l6 -3l5 -5l6 -1l0 -6l5 -4l1 -6l7 -3l2 -6l6 -2M1455 675l1 7l6 2l4 6l7 0M1460 669l-4 4l0 6l-6 2l-2 6l-6 1l-4 5l-7 1l-1 6l-5 4l3 6M1322 532l0 -5l-5 -4l2 -7l-3 -4l-2 -6l-5 1l0 -7l-4 -6l4 -4l-2 -6M1182 371l5 1l3 -6l4 -3l1 -7l7 -2l3 -6l6 -3l-3 -5l5 -3l0 -7M1177 473l2 5l6 2l3 4l7 -3l5 5l6 -2l5 3l5 -3l6 3l3 -6l3 6l6 2l-2 7M1370 666l-4 6l5 5l-1 6l3 4l-4 4l1 7l-4 4l3 7l-6 2l-1 5l-7 3l2 6M1408 449l2 -7l-6 2l-6 -3l-6 2l-1 -7l-4 -6l1 -6l-8 -1M1468 633l2 -5l-2 -6l5 -5l-3 -5l5 -4l0 -7M1273 359l-4 6l7 2l-1 7l1 6l-5 5l-1 6l-6 3l0 7l-6 3l5 5l1 6l6 2l0 7M1224 541l4 6l5 -2l5 5l4 -4l4 6l7 -1l4 3l7 -1l5 3M1430 446l3 5l6 0l2 6M1395 554l6 1l0 -7l4 -5l1 -6l5 -5l-3 -6l5 -3l-2 -6l2 -7l-4 -6l1 -7l-5 -3l0 -7M1290 439l5 5l5 1l0 7l7 1l1 6l2 6l-6 3l1 7l-7 -1l-5 3l-6 -1l1 7l-5 6M1075 398l2 6l6 -1l4 5l5 -3l6 2l5 -3l4 4l6 -3l6 4l5 -4l7 2l1 -6l5 -3M1363 734l6 -2l-1 -6l5 -2l1 -5l7 1l3 -6l5 -3l4 -4l5 -5l-3 -5l3 -6M1237 445l-2 -5l-6 2l0 -7l-5 -4l3 -5l-5 -6l3 -6l-5 -5l0 -6l-6 -3l0 -6M1409 570l-5 -5l-6 -1l-2 -6l-7 -1l-5 -4l-7 1l-2 -7l-7 0l-1 -6l-5 -5l4 -5l-1 -6l6 2l3 -4M1441 680l-1 7l7 3l5 5l6 -4l5 5l5 -4M1372 474l1 -6l-4 -5l3 -7l-2 -5l1 -7l-5 -3l0 -6l-6 -2M1102 506l-7 3l0 7l-3 5l3 5l-5 6l0 7l-3 5l4 5M1363 598l-5 3l-1 7l-4 2l-3 6l-6 -2l-5 5l-7 2l-2 5l-6 -1l-4 5l-5 -4l-5 3M1284 601l-1 6l6 4l-1 5l6 1l-1 7l4 6l0 7l2 6l-5 5l1 6l-3 5l5 5l1 7M1268 494l1 -6l-5 -3l0 -6l-5 -4l-1 -5l-5 -1M1153 524l-1 -7l-4 -4l5 -4l1 -6l6 1l2 -6l6 2M1474 658l-6 -3l-5 4l-7 -1l-5 4l-6 -1l-3 7l-5 3M1174 548l-5 -4l-5 0l-3 -5l-6 0l-2 -5l-7 -1l-5 -4l-6 2l-4 -4l-7 2l1 -7M1232 645l0 -6l-5 -3l2 -6l-3 -5l3 -6l-1 -6l6 -3l0 -6l6 -3l0 -6l3 -4l-4 -4M1194 413l-7 1l-3 7l-7 1l0 6l-6 4l1 6l-3 6l0 6l-5 4l1 7l-3 6l5 5l-1 5l6 0M1330 615l5 3l5 0l2 7l7 3l1 7l5 3l-3 6l6 2l2 6l6 3M1230 512l2 5l6 1l6 3l6 -2l4 4l7 -2l3 6l8 0l5 4l7 -2l4 3l7 -2M1474 673l8 0l4 -4l7 0M1386 721l-3 -6l-7 0l-5 -5l-7 1l-4 -4l-5 4l-6 1l-3 5l-7 1l-3 6M1075 433l0 -7l-7 -1l-2 -6l-6 -1l-2 -6l-7 -1l-4 -4l-7 0M1453 549l-6 -3l-6 1l-4 -5l-4 4l-7 3l0 6l-6 4l4 5l-2 6M1294 467l0 -7l-5 -2l0 -6l-7 -2l-2 -6l-6 2l-4 -5M1365 494l0 6l6 5l0 6l7 3l-2 6M1131 394l7 -1l4 -6l5 1l5 -5l7 2M1089 404l6 -3l1 -7l5 -5l-3 -6l5 -5M1097 492l1 -7l-6 1l-2 -7l-4 -5l1 -6l-4 -4M1065 588l-1 -7M1291 431l7 2l5 -2l7 1l3 -5l7 0l6 -2l5 6l5 -3l3 5l4 4M1472 647l3 -5l-5 -5l2 -6l-3 -4l-1 -7l-7 -1l-4 -6l-6 3l-5 -3l-5 0l-1 -7l-5 -4M1464 589l-1 7l6 1l3 6l7 0M1372 612l0 -6l-4 -5l3 -6l-7 -2l-4 -5l-5 -2l5 -5l2 -6l6 2l5 -5l5 0l2 -6l5 -3M1110 509l6 -1l6 -3l5 2l7 -1l5 4l4 -5l7 0M1278 516l5 -3l-1 -6l4 -4l-3 -6l4 -4l1 -7l7 -2l2 -7l5 -1l-2 -6l5 -3l-4 -6l6 -4l2 -5M1311 599l-6 4l4 5l-4 5l4 5l-4 6M1183 459l-4 6l4 4l-2 6l3 5l-2 6l5 4M1187 659l3 -5l-6 -5l-1 -6l-4 -5l1 -6l-5 -4l4 -6l-3 -7M1072 483l-3 -6l-7 2l-6 -2l-7 1l-3 -6l-5 -2l-2 -5l-6 2l-7 -1l-3 4M1342 701l5 3l2 -5l7 1l5 -5l5 -2l-1 -5l0 -7l-6 -3l-1 -6l-6 -4l1 -5l-2 -7l3 -5l-6 -5M1316 383l-4 4l5 4l-1 5l5 6l1 6l6 4l-1 7M1213 630l1 -6l-6 -4l0 -7l-7 -1l-3 -6l-7 1l-6 -4l-7 1l-4 -5l-6 -1M1325 705l4 5l5 0l4 6l6 1l7 4l6 -1M1308 413l0 -6l-5 -5l1 -7l-6 -3l0 -5l-4 -6l2 -5l-7 0l-5 -5l-6 1l-3 -5l-5 -3M1259 637l5 3l6 -2l6 3l5 -4l6 0l6 -2l5 5l7 -1l5 4l6 -2l6 4M1407 417l4 -5l-5 -5l-2 -5l-7 0l-5 -5l-6 -2l-1 -5l-6 -1M1196 480l-6 3l-2 5l-6 1l-5 4l-7 -1l-6 4l-6 3l1 5l-1 6l4 6l3 6l4 -6M1126 425l1 -6l-5 -4l3 -5l-5 -5l2 -5l1 -6l6 -3l3 -6l6 -1l5 -4M1104 509l-7 1l1 6l-4 5l5 4l1 7l5 3l3 5l5 2M1225 379l5 -1l1 -5l7 -1l1 -6l6 -1l5 -5l6 -1l2 -5l5 -5l-1 -6l6 -5l0 -7l6 -2M1227 459l2 -7l-6 -2l0 -6l-5 -4l1 -5l-5 -3l0 -8l-6 -3l0 -7l-5 -2l-6 -3l-5 5l-6 0l-4 4M1355 421l-2 6l3 6l-3 6l5 2l2 8l5 3l-1 5l4 5l-3 5l1 6M1249 547l4 -5l-1 -7l5 -3l2 -5l6 -3l3 -6l6 -2l2 -7l5 -2l-2 -5l3 -6l-2 -6l3 -5l-5 -4M1105 436l4 -5l-3 -5l2 -7l-7 -2l-2 -7l-7 2l0 -7l-7 0l0 -6l-6 -1l-1 -7M1145 559l-4 5l1 6l-5 4l1 6l-2 6l5 2l-1 6l3 6l-1 5l0 6M1124 559l-5 5l2 6l-5 3l-1 6l-5 3l-3 5l-6 2l-3 6l-6 0l-1 5l-7 2M1151 504l-6 -2l-3 6l-7 1l-4 5l-6 0l0 7l0 6l6 -1M1253 534l4 -6l3 -6l7 -2l1 -5l7 -2l5 -5l5 4l5 -4l5 1l1 -6l5 -4l-2 -7l4 -5l0 -7M1367 556l-6 -6l-6 -1l-2 -6l-4 -4l0 -7l-6 -4l-3 -6l-6 0M1397 438l-2 7l4 3l-4 6l4 5l0 7l7 0l1 6l3 6l-4 4l0 7l-7 -1l-5 4l-6 -1l-4 5M1340 756l-3 -7l-6 -1l0 -7l-4 -5l3 -5l-1 -7l5 -4l0 -7l5 -4l-1 -6l4 -5l-1 -5l3 -6M1145 562l-7 0l-4 5l-5 -4l-7 2l-4 -3l-5 3l-7 0l-3 6l-5 4M1323 579l-5 0l-5 3l-7 -1l-4 5l-6 0l-4 5l-6 0M1350 662l2 -7l-3 -6l5 -5l-4 -4l3 -5l1 -6l1 -6l-3 -4l4 -5l-3 -5l3 -5l-5 -3l0 -7l-5 -4M1243 425l3 -5l-4 -5l1 -6l-4 -4l2 -7l-4 -6l6 -2l-2 -6l6 -4l0 -6l6 -2M1294 462l2 7l6 1l-1 7l7 1l3 7l6 -1l4 4M1256 445l-5 1l0 6l-6 4l1 6l-6 2l1 7l-4 6M1173 523l-4 -6l-5 -4l2 -5l0 -6l3 -5l0 -6l2 -7l-5 -2l0 -6l-6 0l-5 -4l-5 3M1181 699l2 -5l-7 -3l-1 -7l-5 -3l-3 -7l-6 1l-5 -2l-5 4l-5 -3l-5 2l-4 -4l-6 -1l0 -7l-7 -3M1181 378l3 -5l-4 -4l3 -7l-4 -4M1079 452l5 -4l1 -5l6 -1l4 -6l6 -2M1295 365l-6 -1l-4 5l-7 -3l-4 5l-5 -1l-4 5l-6 1l-1 7M1050 485l6 2l5 -6l7 -1l4 -5l7 -1l3 -6l7 1l4 -4l5 0l3 -6l5 -2l3 -5M1171 537l-4 -5l-6 1l-5 -3l-3 5l-7 -1l-3 5l-6 3l-3 5l-6 -1l-7 1l-3 -6l-5 6M1069 461l5 3l5 -2l7 0l3 -6l7 -1l5 -5l6 0l2 -6l5 -4l0 -6M1094 411l-6 -1l-5 5l-5 0l-7 2l-5 -6l-6 1l2 -7M1433 656l1 -7l-4 -4l1 -6l-6 -3l-4 -6M1322 579l-2 5l6 1l5 6l4 -4l5 2l6 -3l3 6l6 -1l4 6l7 0l4 4l4 -5M1158 514l-1 6l3 5l0 7l7 0l1 6M1350 705l6 -3l0 -6l6 -3l6 -4l6 2l5 -4l7 2l5 -3l6 3l6 -1l3 4l6 -3M1137 425l-6 -1l-5 5l-5 -4l-3 4l-8 -1l-3 6l-6 -2l-5 5l-5 -3M1233 555l5 4l6 -1l0 6l4 5l-3 6l0 7M1194 582l-6 -4l-7 -1l-5 -3l-6 2l-5 -3l-7 2l-6 -1l-2 7l-6 2l-2 7l-7 1l-1 6l-5 1l-1 7M1365 539l-6 3l3 4l-1 6l5 5l-1 7l5 5M1355 664l6 1l6 -1l6 3l4 -4l6 0l5 -5M1310 625l-5 6l5 4l-2 7l0 6l-6 2l-3 6l-7 2l-2 7l-6 1l-1 7l-6 0M1261 717l-4 -5l-7 3l-3 -4l-7 -1l0 -7M1098 502l-2 6l5 4l0 6l5 3l1 6l7 0l4 6l7 -1l6 2l6 -3l6 0l4 -6l7 -1M1349 688l5 -5l-4 -5l0 -6l-4 -5l1 -5l-7 0M1215 579l4 -4l-4 -4l-1 -7l-6 0l-1 -6l-6 -1M1143 600l-5 3l1 7l-3 6l0 6l-6 3l2 6l-3 6l4 6l-5 5M1196 539l-4 5l4 5l0 6l3 6l-3 4l1 7l-3 6l3 5l-4 4l3 6l0 6l5 3M1262 451l5 -3l-1 -7l4 -5l-1 -7l7 0l3 -5l5 -2M1237 447l-7 -2l-2 6l-6 2l-3 5l-5 3l3 7l-4 5l3 5l2 7M1340 649l-1 -6l-6 -1l-1 -6l-5 -3l-2 -5l-7 0l-4 -5M1396 632l3 -6l-2 -6l4 -7l-5 -5l3 -5l-1 -7l5 -3l-2 -6l6 -4M1216 620l-6 0l-1 6l-8 0l-1 5l-6 3M1376 627l1 7l6 3l-1 7l6 -1l2 6l6 1l1 6l5 3l3 4l7 -1l4 4l6 -5l5 3l5 -4M1104 444l-5 2l0 6l-6 2l-2 6l-5 1l-3 6l-5 1M1150 429l-1 -6l-6 -3l0 -6l-7 1l-4 -5l-7 3l-3 -4l-7 -1l1 -7l-5 -5l0 -6l-5 -5l-2 -5M1088 388l-4 4l3 6l-5 3l3 5l0 6l6 2l1 6M1171 458l-2 -6l-7 0l-1 -6l-7 2l-4 -4l-4 6l-6 -1l-2 6l-7 0l-4 6l-7 2M1141 491l6 -1l1 -6l7 -2l-3 -6l4 -4l-3 -5l5 -4l4 -5l6 3l5 -3l6 -3l-4 -6M1359 449l2 -6l-4 -3l-2 -6l-6 -3l3 -6l-4 -4l3 -6l-3 -5M1436 482l-2 -7l-6 2l-4 -3l-4 4l-5 3l-5 5l-6 -2l-2 6l-6 3l4 6l-4 5M1188 518l-3 -4l-7 1l-5 -1l-4 6l-5 -5l-5 4l-7 -1l-2 6l-5 0l-4 5l-7 0l0 7l-4 4l1 6M1427 540l0 7l7 2l-2 6l5 3l2 5l6 -1l5 3l6 -2M1397 535l3 -5l-2 -7l5 -6l-5 -5l4 -4l-3 -5M1028 487l5 4l6 -1l4 4l7 1l3 5l7 0l5 5l6 -2l4 4l7 -1M1185 549l0 -6l-5 -2l-2 -7l-7 -1l-4 -4l-6 4l-5 -3l-3 6l-7 1l-7 2l-5 -4l-7 2M1289 698l-5 -2l-6 3l-3 -6l-6 1l-5 -5l-5 2M1207 397l-3 -5l-6 -1l-4 -7l-7 1l-2 -5l-6 -1M1241 649l-4 -5l-7 -3l-3 -6l-5 -5l-1 -7l-6 -1l-1 -6l-6 -1l-4 -7l-6 2l-5 -4l-6 1l-5 -3M1447 632l-1 -6l-6 -2l0 -6l-5 -1l-3 -6l-6 -1l-3 -7l-8 0l-5 -3l-7 1l-5 -6l-6 3l-6 -4l-5 3M1135 616l2 6l6 1l0 7l6 3l1 7l7 1M1213 403l5 -4l-2 -6l5 -3l2 -7l7 -3l3 -6l6 2l4 -5l6 1l6 -2l5 5l6 1l1 7M1077 410l5 -2l1 -7l5 -3l-2 -6l3 -5l-6 -3l0 -7l-4 -3M1433 605l-7 0l-4 4l-6 -1l-2 5l-4 4l1 6l-4 5l3 6M1319 381l6 2l3 -5l6 -1M1135 421l-1 -6l-5 -2l-1 -6l-6 -2l-3 -5l-5 -3l0 -5l-7 3l-6 -4l-4 5M1171 477l3 6l7 0l4 5l6 -1l2 5l6 2l1 6l4 5M1233 323l-3 6l5 4l-2 5l4 5l-3 5l-2 6l-7 0l-2 6l-5 1M1351 489l-2 -6l-5 -3l-3 -6l-5 -3l-4 -4l-6 0l-6 -4l-4 4l-6 0l-4 3M1154 597l4 4l5 -3l5 5l7 -1l4 4l6 -2M1125 405l-5 5l4 4l-4 6l2 5l1 6l5 3l2 6l6 0M1395 454l-2 -5l-5 -3l3 -6l-3 -5l1 -6l-6 -4l2 -5l-5 -6l1 -6l-3 -6l4 -6l-3 -5l4 -5M1091 480l-6 3l0 7l-6 0l-6 4l-4 -4l-6 2l-6 -3M1148 401l-4 6l1 6l-5 3l-3 5l-6 -3l-5 3l-5 -5l-5 5M1299 380l2 6l6 3l1 7l4 3l-3 7l6 4l1 6l7 0l3 6"/>
<path id="p4" d="M1108 469l7 0l5 -5l7 2l3 -6l6 -2l2 -6l5 -3l-2 -7l5 -3l-3 -6l-1 -6l-6 0M1433 525l-2 -5l-6 -1l0 -7l-6 -1l-2 -7l-5 -3M1284 351l0 -7l-5 -2l-1 -6l-6 -1l-3 -4l-6 3l-6 0l-4 4l-4 -4l-7 0l-2 -5l-5 -4M1258 707l-3 -5l-6 -1l-3 -5l-6 1l-4 -6M1322 412l3 -6l-5 -4l1 -7l-1 -6l6 -1l2 -6l7 -1l5 -2l5 4M1172 541l-6 0l-2 7l-5 4l3 6l-5 3l0 7l-6 2l1 6l-2 7l4 5l-5 6l4 4l-4 6M1113 423l5 -3l-3 -6l4 -5l-5 -4l2 -5M1315 669l3 7l6 -1l5 4l7 -2l3 7l5 2l3 5l5 -2M1040 502l3 -5l1 -7l5 -3l3 -5l7 0l-1 -6l7 0M1240 586l3 6l8 1l5 3l5 -4l6 3l5 -2l6 4l5 -2l5 2l5 -4l7 3l5 -4l2 5M1181 548l-3 -5l-6 -2l-3 -4l-5 4l-3 -5l-6 -2l0 -6l-5 -4l1 -6l-6 1l-2 -7M1358 654l2 6l6 2l3 5l6 0l5 3l1 -5l6 1l2 -7l7 2l4 -3M1227 358l-2 6l6 3l-3 7l5 4l-3 6l3 7l-3 6l0 6l-7 2l3 5l-5 3l1 6l-5 3M1165 509l-1 -6l-7 0l-6 -2l-2 6l-6 4l2 7l-7 1M1442 691l-6 3l-3 5l-5 -2l-4 5l-7 -2l-3 6l-6 5l4 6l-6 2l2 6l-2 6M1293 611l7 -3l-1 -5l5 -3l-1 -6l4 -4l-3 -5l3 -6l-4 -4l3 -6l-4 -6l1 -7l-5 -3l-3 -7M1106 506l5 -5l-1 -6l4 -5l-2 -6l5 -5l-2 -6l6 -4l-1 -6l6 -2l-1 -7l4 -4l-1 -6l3 -6l-1 -7M1077 440l7 0l1 -6l5 3l4 -5l4 4l6 -2l4 4l5 -1l4 6l6 2l0 5M1053 451l-2 -6l-7 0l0 -7l-5 0l-2 -6l-6 -2l-1 -7M1164 392l-5 4l0 6l-4 6l-1 6l-5 3l0 5l-3 5l7 3l1 6l6 0l5 5l6 -1l3 5M1033 475l-1 6l3 5l-4 5l0 6M1160 410l7 -2l1 -7l4 -5l2 -7l6 -2l-3 -7M1288 473l-1 -7l-7 0l-3 -4l-7 -1l-5 -4l-7 0l-5 -5l-6 2l-4 -5l-7 0l-3 -5l-4 -5M1134 497l6 -3l0 -6l7 0l-2 -6l3 -6l-4 -5l5 -3l5 -6l4 4l6 -2l2 6l7 -2l4 5l7 0M1440 489l-2 7l4 4l-7 2l-1 7l-7 1l0 5M1404 406l-2 -6l-5 -3l1 -7l-6 -2l2 -6l-5 -1M1213 384l7 0l5 -2l6 4l2 -7l6 -3l-3 -5l1 -7l-6 -4l0 -6l-7 -1l-5 -3l-6 2l-6 -2M1278 672l-4 4l0 7l-4 5l0 8l-6 4l5 5l-2 6l2 6M1425 550l6 3l7 -1l3 6l6 -3l6 3M1245 475l3 6l7 1l4 6l6 -2l4 4l6 -1l3 5l5 1l-1 6l4 6l0 6l5 -1l5 3M1028 459l-2 -7l-6 1l-6 -4M1218 465l3 6l5 5l-1 6l4 5l-5 4M1445 590l4 -6l0 -7l5 -3l-4 -5l2 -6l-3 -5l5 -5l0 -7M1034 509l4 -5l0 -6l5 -4l-1 -5l4 -4l-4 -5l0 -6l-6 -2l0 -7l-2 -5M1323 604l1 -7l-5 -3l2 -7l-5 -1l-4 -4l-6 3l-5 -5l-5 1l-4 -6l-6 2l-5 -3l-3 6l-5 1M1304 618l2 4l7 -1l5 2l5 -2l6 4l6 0l5 5M1123 550l7 -1l-1 -7l5 -3l0 -6l5 -3l2 -7l6 -1l3 -6l7 2l4 -6l6 -1l2 -6l7 0M1303 424l-7 2l0 7l-6 2l2 6l-4 3l1 6l-3 5l3 6l-5 5l1 5M1195 695l3 5l6 1l-2 7l5 5l-3 6l2 5M1286 512l-6 -2l-5 3l-6 -4l-5 3l-3 -5l-6 5l-6 -2l-7 1l-3 -5l-7 2l-6 -3l-7 2M1212 376l1 -7l-7 -1l-1 -7l-1 -6l4 -4l-3 -6l3 -5l-1 -7l5 -2l0 -7l7 0l2 -5M1227 359l-6 0l1 7l-5 5l-1 7l-4 4M1206 554l-1 -5l-5 -4l0 -6l-6 -1l1 -7l-6 -3M1230 561l-4 -5l-7 0l-4 -6l-7 -1l2 -7l-4 -4M1264 490l7 1l2 -5l6 3l2 -6l6 -3l1 -7l6 -4l-2 -6M1300 661l-5 1l-2 7l-6 2l-4 5l-6 0l-2 6l-6 3l-3 6M1332 556l-2 5l2 7l-4 4l0 7l-1 6l3 5l-2 6l4 6l-5 5l2 5l-3 6M1240 710l5 -2l1 -6l6 -1l2 -6l5 -3l1 -7l5 -3l1 -7l6 -1l3 -5l6 -1l1 -6l6 -2l-3 -6M1346 490l4 -4l-6 -4l0 -6l-6 -4l2 -6l0 -5l5 -4l0 -6l4 -4M1258 628l1 -6l-3 -6l4 -6l-6 -4l-1 -6l-4 -3l-2 -5l-5 -2l0 -6l-2 -5l2 -6l-4 -4l3 -6l-1 -7M1255 689l-1 7l5 2l0 5l4 6l-5 5l2 6l-3 6l-2 6l-5 -4l-5 1l-2 -6l-5 -1l-2 -5l-6 -1M1427 703l-2 6l6 3M1261 319l-5 5l4 6l-1 5l7 2l3 6M1265 620l7 -3l-3 -6l0 -6l-6 -2l-4 -4l-5 2l-1 -6M1455 628l4 -5l-3 -5l1 -5l-6 -2l-1 -6l-7 3l-6 -5M1302 504l-2 -7l-6 -1l-3 -7l-5 0l-1 -7l-4 -3l1 -7M1207 522l5 -1l1 -7l3 -5l-4 -6l6 -4l2 -6l5 -2l3 -5M1118 681l6 2l6 -4l6 1l6 -3l6 0l3 -5M1369 706l2 7l6 0l5 4l2 -6l7 0l4 -5l5 -3l3 -5l5 2l6 -3M1381 702l7 0l0 -6l6 -2l1 -7l6 4l5 2M1386 636l-4 -3l-6 0l-3 -6l-6 -1l-1 -6l-7 -2M1267 466l-7 3l1 7l-5 4l1 7l-6 0l-1 6l-4 4M1429 456l0 -6l-5 -4l5 -4l-3 -6l4 -6M1123 518l0 7l3 6l2 6l6 0l2 5l4 4l-1 5M1406 641l-1 -7l-6 -1l-2 -6l-6 -3l-2 -5l-6 0l-5 -4l-7 2M1443 573l-6 4l0 6l-4 5l4 6l-6 3l-1 6l-2 7l7 0l5 6M1257 667l-4 -5l-6 -1l-2 -6l-5 -2l-2 -6M1224 411l1 -5l-3 -5l3 -6l-5 -4l5 -4l1 -7l6 -3l-1 -7l4 -4l-4 -7l2 -6l-2 -7l2 -6l-4 -6M1296 626l-7 0l-2 6l-6 3l-2 5l-6 4l3 5l-2 5l2 6l-3 5l3 5l-6 5l4 6M1335 526l7 -2l-1 -7l6 -2l2 -6l6 -2M1433 482l1 -5l-7 -1l-3 -5l-6 -1l-4 -5l-6 1l-4 -5l-6 -2l0 -6M1168 411l-2 -6l-5 -2l-4 -7l-7 2l-4 -5l-7 0M1184 388l6 4l5 -4l6 0l5 -3l5 3l5 -4l5 4l6 0l4 4M1327 716l6 4l4 -4l6 4l6 -3l5 2l4 -5l7 -2l0 -6l5 -4l1 -6M1143 710l6 -2l4 -7l6 2l4 -3l7 3l3 -4l6 -3l1 -6l7 -3M1094 609l2 -6l-1 -6l6 -3l1 -6l6 -4l0 -6l6 0l0 -6l5 -4l2 -6l7 0l2 -6M1219 439l4 4l6 -4l6 0l6 -4l6 4l5 -1l4 5l6 2l0 6l6 2M1274 472l6 1l6 -3l6 0l3 -5l6 0l2 -6l6 -1M1437 617l-3 6l3 5l-5 3l4 6l-1 7l5 3l2 6l7 -1l6 4l7 -2l5 4l4 -4M1081 493l-5 -5l-7 1l-3 -5l-6 2l-5 -5l-5 4l-7 -2l-5 3l-5 -5M1457 658l6 3l5 -3l7 -1l3 -6l6 -3l4 -6l4 4M1137 402l3 -6l-3 -5l4 -6l-3 -6l3 -5M1095 581l5 0l5 -6l6 0l5 0l5 5M1355 421l-2 5l5 4l2 5l6 -3l3 5l5 4l2 7l6 2l3 6l4 5l-2 5l2 6l-5 3M1346 527l6 -5l-1 -6l2 -6l1 -6l4 -4l-3 -4l1 -7l-6 -3l-5 -5l-6 1M1436 472l-7 -1l-5 4l-5 -5l-6 2l-5 -5l-5 2l-7 -2l-1 7l-6 1l-5 4M1128 482l-2 7l2 6l-4 5l1 6l-4 5M1123 504l0 7l6 4l3 6l6 3l3 5l5 0l2 7M1185 634l7 -1l2 -5l6 -3l2 -5l6 1l6 -2l7 2M1062 494l-4 4l4 4l-3 5l4 4l-3 5l6 4l-3 5l2 7l-3 5l4 5l-2 7l4 5l-4 5l4 5M1133 486l-6 0l-1 6l-6 2l-1 6l-6 2l-2 6l-5 2l-1 6l-7 0l-4 5l-5 -3M1209 580l2 -7l-5 -2l0 -6l-6 -1l-5 -4l-5 4l-6 -3l-7 3l-4 -5l-5 4l-7 -1l-7 0M1217 570l4 5l7 1l3 6l7 1l4 5M1083 460l-6 -3l-5 5l-7 1l0 6l-6 2l-3 7l-6 -2l-5 3M1313 569l3 6l6 -1l4 6l5 4l-1 6l5 3l-3 7l3 6l-2 6l5 5l2 6l6 3M1135 611l-6 -3l-4 5l-6 -4l-5 3l-2 -6l-5 1l-4 -4M1157 522l-2 -6l-6 -4l-2 -5l-5 -2l-3 -5l-5 -2l1 -5l-5 -3l0 -7M1077 452l7 1l4 -4l5 3l6 1l3 5l8 1l-1 6M1277 359l7 2l5 -6l7 0l4 -6M1241 493l-3 -6l-7 -1l-3 -4l-6 2l-5 -4l-6 1l-3 -6l-6 -2l-2 -7l-7 -2l-1 -6l-5 -1l-2 -6M1388 459l5 -2l3 -6l7 1l6 -3l5 2l5 -3M1251 315l1 7l4 5l0 6l5 1l1 7l7 2l3 6M1360 620l3 -5l-6 -4l-1 -6l-6 0l0 -7l-5 -4l-1 -6M1412 640l-4 6l4 4l-4 5l2 5l-5 5M1286 738l-4 -4l-7 -1l-2 -7l-7 1l-3 -7l-6 -1l0 -7l-5 -1l-5 -5l-5 5l-6 -5M1477 629l-6 4l1 7l-4 5l4 6l3 6l6 3l4 4l4 -4M1247 677l2 -5l-5 -4l2 -7l-2 -5l-1 -5l-7 0l-6 -3l-5 5l-6 0l-4 6M1204 356l1 -5l-4 -4l-2 -6M1308 568l5 -3l-1 -6l5 -3l0 -6l6 0l0 -7l6 -1M1393 711l1 -6l-3 -5l2 -7l-5 -3l1 -7l-5 -5l5 -1l-1 -7l5 -3l-3 -5l3 -5M1192 670l3 5l5 0l1 5l7 0l3 6l7 -2l6 3l3 -6l6 -2l3 -5l6 -2l2 -7l7 1M1391 666l-4 -5l-6 -2l-1 -6l-4 -4l-3 -5l-7 1l-5 -4l-6 3l-4 -5l-6 0l-4 -5l-5 5M1199 414l5 4l5 3l0 7l7 1l1 6l6 1M1324 612l-3 -6l-7 2l-5 -3l-3 5l-6 0l-1 6l-5 -2M1280 658l7 -2l3 -5l6 -2l2 -6l7 4l4 -5l7 2l4 -5l6 -1M1188 514l4 -6l-3 -6l1 -6l-6 -2l1 -6l-7 -2l-3 -6l-5 1l-4 -5l-5 3M1308 432l-3 5l0 7l-6 3l1 6l-4 4l2 6l-3 6l2 6l-5 2l-5 5l-7 0l-3 5M1220 329l3 6l7 -2l6 4l5 1l5 4l5 -2l6 3l5 -3l7 1l4 -4M1070 488l-5 -4l-6 3l-4 -4l-6 1l2 -6l-7 -3l-3 -5l-6 2l-4 -5l-6 -1l-5 -5M1286 422l5 5l5 -2l5 2l5 -2l5 3l5 -1l3 5l6 -2l3 6l6 0M1393 657l-7 -1l-4 6l-6 -5l-7 1l-2 -5M1035 528l5 4l7 0l4 4l7 -2l3 4l6 0l3 5l6 -3l4 5l6 -2l3 6l6 2M1097 559l-2 7l6 3l2 5l7 3l0 5l4 5l-3 6l5 3l1 7l5 4l0 5l5 1M1209 650l-6 -3l-5 3l-5 -6l-6 2l-3 -5l-7 2M1168 611l5 -4l-4 -5l3 -6l-3 -6l4 -5l-5 -6M1341 606l5 -2l3 -5l5 -2l0 -8l5 -4l-1 -7l2 -5l-5 -6l2 -6l-6 -2l-5 -4l-4 6M1245 490l-2 -7l-5 -2l-3 -6l-6 0l-1 -5l-5 -2l-1 -7l-4 -7l4 -4l2 -7l7 -2M1141 553l4 5l6 0l4 5l5 1l5 4l5 -2l4 4l8 -1l3 6l6 2l1 6l6 0l3 6l5 3M1218 382l-6 -3l-3 5l-4 6l3 5l-4 4l1 7l-7 1l-5 4l-5 -2l-5 3M1220 492l-2 6l5 5l1 6l6 2l1 8l6 3l-1 6l5 3l2 7l7 0l6 3l6 -1M1301 437l-5 -6l-5 3l-5 -4l-6 1l-5 -5M1329 564l5 5l6 -1l6 2l7 -3l4 4l7 0l3 5l7 -3l2 6l6 2l3 6l6 5M1153 452l-5 -3l-3 5l-6 -2l-4 5l-6 2l3 6l-3 5l-1 6l-6 3l0 7M1275 607l-6 0l-2 8l-6 0l-1 7l-5 4M1183 673l4 5l6 2l2 6l5 -2l6 4M1303 680l-3 7l4 5l-6 4l2 6l-5 4l1 6l-5 5l-1 6M1244 501l-4 -4l-5 5l-7 2l-2 6l-6 1l-2 5l-6 0l-4 4l-6 -2l-5 4l-5 -4M1438 655l-5 4l-2 6l-7 -3l-3 6l-6 -3l-1 6l-5 4l1 6l-4 5l1 5l-6 4l-3 6l-5 -3M1229 460l-5 4l1 7l-4 5l1 6l-5 2l0 6l-6 2l-2 5l-6 2M1170 488l0 6l6 4l1 6l5 -2l3 5l6 -1l5 4l4 -4l6 -1M1422 534l-6 3l-1 7l-5 3l0 7l-5 2l1 7l-3 5l4 6l-4 5l2 5l-5 4l3 6M1363 536l-5 5l2 5l-4 6l2 6l-3 5l1 7l-6 4l3 6l-1 7l4 4l-4 6l3 6l-4 6M1288 732l7 2l6 0l3 5l7 1l5 4l6 3M1293 393l-5 2l0 6l-6 2l2 5l-5 5l1 6l-6 1l1 7l-1 6l5 3l4 4l6 3l2 5M1237 649l1 -6l-2 -6l6 -2l4 -5l6 3l4 -6l6 -1l-1 -6M1332 635l4 4l7 -3l7 1l4 -3l6 0l5 -2l6 0M1314 651l3 -5l-1 -6l5 -2l2 -7l6 -4l1 -7l6 -2l0 -6l6 -4l-4 -5l1 -7l-4 -5l0 -6l-6 -2M1286 720l-1 6l7 2l2 7l6 1M1262 449l-4 -4l-6 2l-7 -2l-5 5l-5 -4M1263 431l-2 7l4 5l-1 7l4 5l-4 6l5 6l0 6l5 3"/>
<path id="p5" d="M1294 564l-3 6l5 3l-2 6l4 5l-4 4l-1 7l-2 5l5 5l-1 7l5 3l4 5l8 0l5 5M1438 551l-1 -6l-4 -3l0 -7l-1 -7l6 -3l2 -6l6 -3l1 -7M1374 416l-3 7l6 3l-1 6l7 0l2 6M1330 621l4 -4l-1 -7l3 -5l-3 -5l4 -7M1419 487l1 6l5 3l-6 4l2 7l-4 5l7 2l-1 5l4 4l0 6l5 4l-1 5l6 4l3 6l7 0M1395 661l1 -6l-5 -4l2 -7l-2 -5l4 -6l-1 -6l6 -1l1 -6M1387 599l6 4l3 -5l6 0l5 -4l8 1l5 -3l2 6l7 1l1 8l7 -3l4 4l6 -2M1383 403l-5 -5l-4 5l-6 2l-1 6l-2 5l5 5M1277 453l3 -6l-2 -7l1 -6l-3 -4l4 -5l-1 -7l6 -1l-4 -4l1 -6l-6 -3l-2 -5l-5 -4l0 -6M1215 372l6 4l5 -4l5 4l6 -2l5 3l7 -4l5 3l6 0M1187 501l5 3l7 -1l3 5l5 0l2 7l5 3l4 6l5 3l-1 6l2 5l-1 8M1351 463l-5 -4l-6 4l-6 -3l-6 1l-2 -6l-6 -1l1 -6l-3 -5l4 -5M1407 525l-5 -3l-3 6l-7 -1l-6 3l-7 -3l-3 5l-6 2M1051 426l2 7l5 3l-2 6l5 5l-5 5l5 3l-1 6l-1 7l-5 2l-4 7M1311 444l5 -1l4 -4l7 1l0 -5l5 -4M1168 690l6 4l6 -1l5 3l7 -3l6 1l5 -4l7 2l5 -3l4 4M1253 351l-3 -4l-6 -1l-3 -5l-5 3l-6 -3l-4 3l-6 -1M1242 698l-5 2l0 7l-4 5l1 5l-4 6l5 3l-1 7M1203 411l1 7l6 -2l7 3l6 -1l5 4l3 -6M1394 597l6 -1l6 -3l5 0l2 -6l6 -2l-3 -5l3 -5M1235 525l-5 2l-4 5l-5 2l-2 7l-6 4l3 4l-2 6l3 6M1101 452l-6 -2l-5 5l-6 -3l-6 1l-2 -6l-6 1l-5 -3l-6 4l-6 -3l-6 2M1386 656l-7 -1l-4 5l-6 -3l-5 2l-6 -4l-5 2l-7 -1l1 6l-3 4l5 5M1192 458l-1 7l6 2l4 5l6 3l-2 7l7 3l4 6l5 3M1259 479l-4 4l2 6l-2 6l3 5l-1 7l6 2l4 5l6 -4l5 3l5 -4M1258 652l7 -1l2 -5l6 -4l-1 -7l1 -5M1196 405l2 5l5 2l-1 6l2 7l-6 3l-3 5l-7 0l-3 5l-7 -1l-3 5l-6 -2l-7 1M1372 620l4 -6l-1 -7l5 -5l0 -7l7 -3l4 -5l5 2l5 -3l5 3M1235 605l-5 -4l-7 1l-5 -2l-1 6l-5 6l5 3l-2 6l6 4l-3 5l7 4M1245 527l-6 -4l-5 2l-5 0l-4 6l-6 -2l-5 4l-6 1l0 7l-6 4l0 6l-6 1l0 7l-7 2l-3 6M1251 646l-1 7l5 2l1 6l3 5l-3 4M1144 473l7 2l0 -6l6 -5l-2 -6l6 -4l-2 -6l6 1l-2 -6l5 -4l-1 -8l4 -5l-2 -6M1337 461l-7 -1l-4 5l-5 1l-4 6l-7 -1l-3 6l-5 -2l-5 3M1215 532l-3 5l2 6l-3 6l4 4l4 5l7 -2l7 2l5 -1l5 5l7 2l6 3M1407 520l5 -5l3 -5l6 1l5 -6l7 2l4 -5l3 5M1208 402l-2 -5l-4 -3l-1 -7l-6 -1l0 -7l-2 -5l3 -6l-3 -6l4 -6l-2 -6l6 -3M1212 457l5 -5l0 -5l5 -5l-1 -6l4 -4l-4 -3l-3 -5l-6 -4l2 -7l-4 -3l-1 -6l-7 -1l0 -6l-6 -3M1207 433l5 1l5 -4l5 -1l3 -6l6 2l5 -4l7 2l4 -5M1126 675l-6 -5l-6 -1l1 -8l-2 -6l0 -7l-5 -3l2 -5M1273 657l6 0l5 -5l6 5l3 -5l6 -1l3 -6l7 2l3 -5l7 2l5 -3M1464 627l6 -5l-3 -6l3 -5l-3 -7l0 -5l-5 -3l0 -6l-5 -4l1 -6l-4 -5l1 -6l-5 -5l3 -6M1397 645l-2 5l2 5l-7 3l1 6l-4 4l4 4l-3 6l6 5l-1 6l4 6M1414 613l-4 5l1 7l-5 4l3 7l-5 4l3 7l-5 4l-1 6l-4 4l1 7M1256 446l-2 -6l-6 0l-6 -2l-6 -1l-3 -5l-6 2l-5 -4l-5 1M1359 585l1 -7l-7 -1l0 -6l-6 0l-1 -6l-6 -3l-2 -6l-6 -2l-3 -5l-6 2l-7 -2M1228 706l-7 -3l-5 4l-6 -2l-6 2l-3 -6l-6 3l-7 -2l-2 7M1385 665l4 -5l-5 -5l3 -5l1 -6l4 -5l-3 -5l0 -6l-7 -2l1 -8l0 -6M1421 631l6 -2l1 -7l5 -2l0 -6l7 -2l6 -3l3 5l5 4l-2 5l3 5l-1 6M1224 631l3 5l6 1l1 6l6 -3l3 5l6 -3l6 2l4 -4M1272 691l4 4l5 0l4 6l6 -2l7 1l5 -5l5 3l5 -3l5 4l6 0l5 3M1062 391l7 1l0 -7l6 -5l-4 -5M1201 443l1 7l6 2l1 6l5 2l1 7l4 5l0 5M1263 474l-6 -2l-6 4l-6 0l-5 5l-6 -3l-5 5l-6 -4l-7 -1l0 -6M1351 574l-2 7l2 6l-2 5l6 2l1 6l4 4l-2 6l4 6l-2 8M1390 579l5 -3l2 -7l6 -2l6 -4l6 2M1244 412l-5 4l-1 7l-5 5l2 6l-2 6l5 4l0 6l4 5l-3 7l2 6l-2 6l4 5l-3 6M1185 631l-6 3l1 6l-4 6l6 1l-1 7l6 1l5 6l6 1l3 4l6 -1l6 3l3 -7l6 1l5 -2M1064 448l6 -1l5 -5l6 2l5 -3l7 0l4 -4l5 1l5 -4l4 5l4 -4l5 3M1278 547l5 -1l2 -6l5 -2l0 -6l7 -2l4 -5l5 3l5 -3l3 6l5 -4M1213 640l-7 -2l-6 2l-5 -4l-6 2l-5 -3l-5 4l-6 -1M1271 504l5 -2l2 -5l7 -1l1 -7l5 -1l-1 -6l3 -6l-2 -7l1 -6l-4 -5l2 -6l-5 -6l2 -5M1302 389l1 -6l-5 -3l2 -6l-3 -5l3 -5l0 -6l3 -5M1175 624l2 7l5 -2l6 3l6 -1l4 5l6 -2l4 5l7 0l6 2M1390 544l5 -5l0 -6l5 -3l-1 -6l5 -5l-1 -6l4 -4l0 -6l6 -2l0 -6l7 -1M1072 464l-4 -3l-5 3l-5 -3l-3 7l-6 -1l-2 7M1188 440l5 1l5 -2l5 2l6 -3l5 3l5 -4l7 2l6 -2M1240 324l7 1l6 -3l6 2l4 -6l6 -4M1291 597l5 3l6 -2l4 5l5 1l4 7l6 0l6 4l6 -3l5 3M1112 413l-3 -5l-7 2l-5 -4l-6 -2l0 -6l-6 -4l-1 -6l-7 -1l-2 -6l-5 -3M1136 606l-5 -4l-4 4l-6 -2l-5 3l-6 -1l-5 5l-5 -5M1094 511l-2 -6l-5 1l-4 -4l-7 2l-4 -5l-6 0l-2 -7l-6 0l-1 -6l-6 -2l1 -7M1363 455l6 3l6 -3l7 3l6 -2l5 3l7 0l6 1l4 -4l7 2l6 -3l4 3l6 -2l5 5M1435 569l1 -6l-5 -4l-1 -6l-6 0l-2 -5l-7 1l-3 -7l-6 -1l-2 -5l-5 4l-7 -3l-1 6l-4 5M1233 618l-4 5l2 7l-7 2l1 6l-5 2M1301 489l1 -6l-4 -5l4 -5l-2 -7l6 -4l-1 -6l5 -4l1 -6l7 -2M1300 480l2 -7l-6 -4l4 -5l-1 -6l5 -5l0 -6l6 -2l3 -6l6 -1l3 -5l7 -2l2 -5l7 1l2 -6M1416 648l0 7l4 5l-3 5l4 5l-2 6l3 5M1370 407l-5 4l-2 7l-6 2l-3 6l-4 4l0 7l-3 5l3 6M1195 394l-3 -5l-6 -1l-2 -5l-6 -1l-3 -6l-5 6l-6 -3l-5 4l-7 1l-1 6l-6 0l-2 6l-4 4l2 6M1160 449l3 4l5 -4l5 -4l-1 -6l3 -5l-4 -4l1 -6M1233 411l-7 0l-4 6l-6 0l-2 7l-7 0l-5 5l-5 -3l-7 1l-3 -5l-6 1l-3 -5l-6 -1l-5 -4M1229 475l1 -8l-3 -6l2 -6l-1 -6l5 -3M1406 385l6 2M1216 414l-6 -4l-7 0l-3 -6l-7 0l-2 -5l-6 3l-6 -3M1227 705l7 1l6 -4l5 4l6 -1l1 6l6 3M1201 597l5 1l3 -6l5 0l4 -5l7 0l4 -5l6 2l5 -4l6 0l2 -7l7 0l2 -5l4 -4l-5 -4M1312 421l-2 6l5 4l0 6l6 4l0 7l6 1l5 5l5 -5l4 4l6 0l6 4l6 -3l2 7l6 0M1217 371l4 5l5 -3l6 1l6 -3l6 4l6 -3l5 3l7 -1l2 7l6 4l1 7l5 0l1 7M1195 529l6 3l6 0l1 7l6 0l1 6l6 3l-1 7l6 0l-2 7l1 6l-5 4l2 6M1470 587l4 6M1198 560l-6 1l-2 6l-4 3l-1 6l-3 6l6 3M1395 717l-6 4l2 6l-5 4l-2 6l-7 0l-4 6l-5 -2l-7 -2l0 -6l-7 0l-6 -2l-5 4l-4 -5l-5 4M1297 654l5 -5l0 -7l6 2l6 -3l6 4l5 -1l7 1M1314 413l0 -7l-6 3l-6 -1l-3 5l-5 -3M1284 362l-8 0l-2 6l-5 3l4 6l-2 6l3 5l3 5l6 1l2 6l6 -1l4 6l6 0l5 2l6 -2M1017 440l5 -4l1 -6l6 -3l3 -7l6 0l3 -5l4 3l6 -4l6 3l2 -6l5 -4M1091 544l-7 2l-2 6l-7 0l-4 5l-6 3l-4 5l-6 1l1 6M1374 645l1 5l6 1l2 7l7 -2l5 6l6 -3l3 7l6 -1l2 6l6 0l2 5l7 2M1259 450l-3 6l4 6l-3 6l2 5l-6 2l-5 5l-5 -5l-5 2l-5 -4l-6 0l-3 -6l-5 -4l3 -5M1091 488l5 -4l-2 -6l5 -4l-3 -5l4 -5l-1 -6l3 -6M1093 572l-5 4l2 6l-5 5l2 7l-1 5l3 6l-4 4l3 6l-4 4l2 6l-4 5l6 3M1140 545l0 -6l-6 -2l0 -7l-4 -5l1 -6l-4 -5l2 -5l-7 -3l0 -6l-5 -5M1261 462l1 7l6 3l-5 6l-2 5l-6 1l-3 5l-6 -2l-3 6l-6 2l-2 5l-5 3M1196 402l5 2l7 -4l6 3l4 -4l6 3M1184 415l-3 4l3 6l-1 6l3 6l-3 4M1153 616l6 0l1 -7l7 0l5 -5l5 4l2 -5l5 1l5 -4M1284 708l0 -6l-5 -4l2 -6l-3 -6l4 -5l0 -6l5 -4l-2 -7l5 -6l-2 -7l6 -2M1318 418l8 1l0 -6l6 0l-3 -7l4 -6l-5 -6l2 -6l0 -6l5 -3M1302 372l-2 7l4 4l0 6l6 1l0 7l5 4l-1 5l3 6l-2 6l1 6l-5 3l2 7M1202 708l0 -6l-5 -4l-1 -7l-5 0l-3 -6l-7 0l-4 -4l-5 3M1257 502l0 -6l-4 -5l1 -6l-3 -5l1 -5l-7 -1l-5 -4l-6 1l-2 -7l-5 -4l1 -6l-5 -4l1 -6l-3 -7M1368 609l-4 -5l-6 2l-5 -4l-6 3l-5 -5l-7 0l-3 -5l-6 -1M1342 660l-2 -7l-6 -2l-1 -8l-5 -3l0 -7l-6 -1l0 -6l-4 -6l0 -6l-2 -7l0 -7l-6 0l-3 -5l-6 0M1305 597l-7 1l-2 6l-5 -5l-7 2l-4 -6l-6 2l-5 -5M1278 674l-6 -1l-5 4l-6 1l-3 6l-6 -2l-6 5l-5 -3l-5 3l-5 -3l-6 4l-7 -4l-4 5l-7 3M1265 612l-6 -2l-5 4l-4 3l-1 7l-5 2M1078 507l4 -5l-1 -6l6 -4l-1 -5l1 -6l-5 -3l-6 -4l-5 5l-6 -3l-4 5l-5 -2M1287 573l-1 -6l-7 -2l1 -5l-7 0l-3 -5l-5 1l-6 -2l-4 4l-7 -1l-1 7l-4 5l5 6l-4 6M1233 664l-5 4l1 6l-2 7l4 6l-4 6l1 6l-3 5M1330 598l-4 3l-4 5l-6 -1l-3 6l-6 -1l-5 4l-7 -4l-4 5l-6 -2M1374 559l-2 -5l-6 -1l-3 -4l-7 1l-5 -5l-5 3l-3 -5l-6 0l-2 -6M1214 444l-7 1l-3 6l-7 1l0 6l-6 2l-3 6l-6 -1l-3 5l-6 -1l-4 4l-6 -1l-5 3M1308 485l6 -2l0 -8l7 -3l-2 -5l6 -3l0 -7l6 0l1 -6l5 -3l-1 -6l6 -2l1 -6l5 -4l0 -6M1235 433l-2 -6l-6 -1l-1 -7l-5 -2l1 -7l-2 -6M1106 525l7 2l4 -5l6 1l5 -4l7 0l4 -5l7 1l-1 -7l5 -4l-1 -5l6 -5l0 -6l3 -5M1397 443l5 1l6 -4l6 3l4 -5l7 -2l0 -6l5 -4l1 -7M1247 445l-1 -7l-6 0l-2 -6l-6 -1l-2 -7l-7 1l-3 -6l-6 2l-5 -3M1102 392l-8 0l-3 4l-7 3l2 6l-6 1l2 7l-6 4M1240 352l-1 -6l-6 -4l-1 -6l-6 0l-3 -6l-7 -1l-2 -6l-7 -1l-3 -5M1106 519l-4 0M1101 515l3 -3M1098 503l4 -1M1280 405l3 2M1277 410l-3 -4M1273 404l-3 4M1257 407l-2 -3M1253 402l-4 3M1379 732l0 -5M1389 727l-1 -5M1391 720l4 3M1398 720l-2 -4M1403 717l1 4M1413 720l0 5M1381 623l1 3M1387 624l-2 -4M1398 620l-3 -4M1401 615l3 3M1406 606l5 1M1407 596l3 0M1269 606l-3 -2"/>
<path id="p6" d="M1273 599l-2 -3M1281 595l-1 -3M1299 554l5 2M1301 650l4 3M1307 649l-4 -4M1147 536l3 -5M1152 533l0 5M1164 536l-3 6M1165 543l4 -2M1068 557l-5 2M1064 563l6 0M1365 590l1 5M1371 593l0 -4M1376 589l1 3M1381 592l1 -3M1390 595l1 -6M1395 594l-1 5M1157 557l4 4M1152 568l4 1M1155 573l-5 0M1237 373l-2 4M1231 375l3 -4M1225 372l0 5M1213 375l0 5M1041 492l-2 -4M1048 489l1 -5M1069 483l-1 -4M1080 482l-1 -4M1228 461l5 3M1233 453l4 1M1237 447l-5 2M1374 476l3 -3M1392 477l-1 5M1401 477l2 5M1417 503l4 -2M1422 500l0 4M1428 503l1 -5M1433 501l0 4M1119 423l3 4M1119 430l-5 -1M1117 436l4 0M1278 549l5 0M1279 556l-6 1M1263 569l-2 -4M1406 476l0 5M1403 481l-3 -3M1388 480l-4 4M1231 441l2 5M1237 441l-2 -3M1254 440l0 4M1258 445l3 -4M1296 512l-2 -5M1290 509l-2 5M1284 512l0 -4M1279 509l-1 4M1275 513l0 -4M1269 515l3 4M1266 526l4 2M1267 532l-4 0M1115 588l-4 -3M1113 582l5 2M1117 576l-4 0M1116 565l-4 1M1293 544l-1 4M1282 537l-3 5M1374 666l0 -6M1369 661l0 6M1169 503l4 1M1175 494l5 1M1038 482l5 0M1043 466l-4 1M1256 401l5 -1M1261 405l-3 1M1279 408l3 2M1244 400l-5 1M1240 405l5 1M1244 410l-5 1M1149 532l2 -4M1181 550l-1 4M1184 555l2 -3M1191 554l-2 5M1068 484l-4 0M1069 495l-5 -1M1067 511l4 0M1235 676l3 3M1251 668l-4 -4M1255 663l1 4M1261 666l1 -4M1270 662l-1 -6M1223 435l4 -1M1221 430l-3 2M1214 422l-4 1M1204 411l3 -2M1192 397l-3 4M1188 395l3 -4M1442 626l-3 -1M1461 623l1 -5M1486 623l-2 5M1488 629l3 -3M1201 591l-5 2M1212 594l-1 5M1214 600l4 -4M1417 598l1 5M1413 603l-2 -3M1318 631l6 0M1333 623l-2 -3M1354 632l-3 3M1359 643l-5 1M1366 421l3 3M1359 440l4 2M1355 445l-2 -4M1343 446l-3 -4M1337 444l0 4M1333 449l1 -4M1326 457l-5 -1M1353 516l4 0M1354 509l-4 2M1351 504l5 -1M1357 490l-3 -3M1364 486l1 -5M1368 480l3 3M1377 472l5 4M1382 471l-2 -3M1055 541l2 3M1041 551l-2 -5M1036 545l-3 3M1105 418l-1 4M1085 410l-2 5M1298 535l-5 2M1293 523l-4 3M1287 524l1 -4M1282 521l0 4M1274 514l-4 1M1267 512l5 -2M1262 499l-5 1M1073 458l-4 3M1067 472l2 4M1069 478l-4 -1M1063 485l-3 0M1059 490l4 1M1062 495l-5 2M1057 506l-5 -1M1053 512l6 0M1296 595l2 -3M1302 594l-2 4M1305 599l2 -3M1316 601l0 -4M1341 613l-3 3M1348 621l-1 4M1259 712l-5 -3"/>
<path id="p7" d="M1257 705l5 3M1134 455l3 -5M1140 453l-1 5M1143 460l2 -4M1144 473l-4 -3M1138 477l4 3M1134 482l-4 -3M1129 480l1 4M1126 486l-2 -4M1326 448l-4 0M1324 443l4 1M1329 426l-4 1M1323 424l2 -4M1313 422l-1 -4M1302 408l-4 4M1243 558l-1 -4M1249 557l-1 4M1258 562l-2 4M1282 581l0 -5M1124 623l-5 3M1118 621l4 -3M1116 616l-3 3M1111 613l3 -2M1110 608l-3 2M1104 610l-1 -5M1404 470l4 3M1395 511l-4 -1M1385 520l-4 -3M1379 519l2 3M1376 525l-3 -5M1371 527l3 3M1373 532l-3 0M1308 724l-3 5M1301 726l2 -5M1297 721l-2 5M1291 724l0 -4M1284 729l-2 -4M1279 732l4 2M1217 473l3 3M1218 479l-5 0M1201 481l1 4M1328 428l5 -2M1332 454l-1 4M1123 547l4 2M1216 696l6 -1M1221 700l-3 1M1219 705l4 -1M1227 717l-3 4M1246 714l2 5M1212 523l-2 -5M1217 520l1 5M1222 523l1 -5M1170 495l1 5M1182 496l0 4M1187 498l-1 -4M1203 477l4 1M1137 428l-5 -1M1131 418l-5 0M1124 409l-3 4M1117 407l3 -4M1115 402l-3 3M1227 319l4 2M1226 326l-3 -3M1296 601l-1 5M1281 584l-4 3M1277 578l6 -1M1475 620l0 -4M1471 614l-3 5M1464 615l2 -5M1462 609l-2 4M1450 598l3 -2M1446 591l-3 5M1440 590l2 -4M1441 584l-4 2M1437 581l3 -2M1438 575l-3 0M1281 520l-4 1M1271 510l0 -5M1259 502l5 -3M1252 491l3 -3M1250 485l-3 3M1245 482l4 -2M1244 475l-3 4M1238 473l3 -4M1242 468l-4 0M1284 500l-4 -2M1282 495l4 1M1299 475l-5 0M1298 468l5 1M1302 465l-3 -2M1297 459l6 -1M1299 453l-4 2M1315 464l-2 -3M1322 455l-3 -4M1323 450l4 1M1326 441l5 1M1323 429l4 -3M1322 417l4 -2M1251 499l-4 3M1234 495l3 -3M1230 491l-1 4M1162 403l0 -6M1173 402l2 -4M1184 399l-2 -4M1086 516l4 0M1092 513l-4 -3M1101 492l-5 0M1103 481l-4 -1M1112 455l-1 4M1103 459l1 5M1086 462l0 -3M1069 454l1 5M1063 458l0 -4M1270 410l-1 -4M1266 407l0 4M1160 460l2 5M1174 434l-2 -3M1174 428l4 1M1181 420l5 2M1187 420l-1 -4M1208 578l-1 -5M1200 583l-3 -3M1183 586l1 5M1182 593l-3 -3M1177 596l4 2M1175 602l-3 -4M1168 610l-3 -3M1312 435l4 3M1314 429l-5 0M1310 424l4 -2M1309 419l-4 2M1289 408l-2 3M1282 406l3 -4M1401 585l5 -3M1408 587l-3 3M1406 593l4 -2M1408 598l-5 -1M1439 561l3 -5M1433 550l5 -3M1435 544l-3 2M1431 539l4 -2M1425 531l2 -4M1412 514l2 -3M1186 690l-1 -4M1191 686l1 4M1209 681l-2 -3M1218 667l5 2M1233 659l-2 -4M1250 632l3 3M1158 483l1 -5"/>
<path id="p8" d="M1276 627l2 4M1285 637l5 0M1289 642l-4 3M1285 648l5 2M1286 653l-4 -1M1284 659l5 1M1424 614l4 -1M1424 597l-3 1M1395 437l0 -6M1399 431l1 6M1412 424l-4 -2M1414 417l4 3M1256 467l-2 3M1245 462l-3 4M1228 460l0 -3M1210 459l0 4M1205 451l4 0M1204 435l-5 1M1391 610l0 5M1385 613l1 -4M1380 611l-1 4M1366 620l-2 -4M1340 554l-1 -5M1346 550l-1 6M1352 552l0 -5M1366 532l-3 -4M1365 527l4 0M1164 422l-4 -1M1158 405l5 0M1162 400l-4 -1M1161 393l5 1M1167 390l-4 -2M1163 385l4 -3M1059 503l0 -4M1048 507l-1 -4M1042 505l-1 5M1040 511l-4 -3M1293 474l-2 -3M1296 467l2 4M1312 464l-4 -3M1101 463l-1 -5M1114 465l0 -5M1117 460l2 4M1131 451l-2 -4M1127 447l4 -2M1132 442l-4 -1M1134 436l4 2M1138 432l-4 0M1378 726l5 -1M1379 744l3 3M1380 751l-4 -1M1383 602l-1 -6M1394 600l-1 -5M1404 597l0 -4M1412 602l1 -3M1204 411l1 5M1209 413l0 -4M1218 694l4 2M1219 713l-5 -1M1216 719l5 1M1216 728l5 1M1306 685l2 3M1304 690l-2 -2M1292 696l1 4M1269 689l-3 3M1287 683l4 2M1279 682l-4 -3M1286 656l6 2M1293 654l-4 -2M1304 638l5 3M1088 443l5 0M1084 458l-3 -4M1077 464l-3 -3M1068 473l-5 -3M1051 472l-1 5M1044 472l2 -4M1042 465l-4 3M1035 463l5 -3M1284 524l-4 -2M1279 534l-5 -2M1272 535l3 3M1263 543l3 3M1264 550l-5 -1M1256 564l4 2M1428 559l0 5M1425 564l-3 -3M1416 570l-3 -5M1410 574l5 2M1412 581l-4 0M1409 590l-4 0M1407 601l-6 1M1409 614l-6 1M1402 655l4 0M1298 594l3 -2M1303 597l-4 1M1320 612l-3 3M1321 618l4 -2M1327 622l-5 2M1329 632l-4 2M1202 678l2 4M1190 681l1 5M1287 516l-1 -4M1292 511l1 6M1297 509l-3 -4M1295 502l4 0M1307 479l-3 -2M1331 643l-2 4M1320 648l-1 5M1320 653l-3 -2M1415 607l-2 -4M1430 603l0 4M1195 527l3 -4M1197 520l-5 0M1192 509l-3 3M1188 506l4 -1M1187 500l-4 2M1181 497l4 -2M1279 568l5 -2M1268 592l1 -3M1267 587l-4 2M1261 589l0 -5M1255 591l2 3M1330 626l-5 -1M1324 621l4 -4M1324 615l-4 2M1307 592l4 -3M1304 588l-1 4M1290 577l4 0M1114 559l5 2M1114 576l-6 0M1421 634l2 -5M1430 639l4 -4M1436 639l-2 4M1447 637l0 4M1400 460l4 -2M1404 472l5 -1M1407 483l6 -2M1413 485l-3 3M1414 491l4 -3M1421 493l-4 3M1423 499l2 -4M1236 343l2 4M1272 351l-2 -5M1319 687l-5 2M1324 699l-4 2M1322 706l4 -1M1324 712l-5 0M1325 722l-4 1M1268 405l4 -2M1273 442l-6 0"/>
<path id="p9" d="M1118 497l-1 -6M1128 491l-4 -3M1151 480l0 5M1155 486l2 -4M1161 489l-5 3M1162 495l4 -1M1171 500l3 -4M1191 637l1 -6M1197 635l-1 4M1209 649l4 -4M1122 458l-4 1M1111 448l2 -5M1292 658l4 4M1303 656l0 4M1371 591l0 5M1367 597l-2 -5M1349 596l-1 5M1243 499l3 4M1104 523l2 -4M1117 534l0 4M1117 541l4 -3M1315 614l0 4M1308 606l-4 1M1301 604l2 -3M1294 600l3 -3M1293 594l-3 3M1287 590l6 -3M1288 579l4 0M1292 570l3 2M1087 516l-4 2M1081 514l4 -2M1085 508l-4 -2M1079 496l-1 4M1072 494l5 -2M1061 492l-1 -5M1054 490l1 5M1438 677l-3 -2M1453 644l-5 -1M1446 626l5 -2M1150 570l3 -4M1153 578l4 1M1155 589l6 1M1176 599l3 -4M1325 521l-4 3M1319 523l0 -5M1310 517l3 -3M1215 379l-2 5M1202 364l-4 1M1195 348l4 1M1456 552l-1 5M1458 557l3 -3M1463 561l-4 2M1461 567l5 -1M1388 598l3 -2M1394 598l-1 5M1399 615l5 -2M1405 624l5 -2M1427 576l4 -3M1434 579l-3 3M1433 584l4 1M1439 587l-4 1M1452 594l0 -3M1367 666l-4 0M1367 675l-4 2M1362 679l4 2M1349 711l3 2M1346 716l-3 -4M1352 470l5 1M1345 472l-1 5M1338 473l3 -4M1332 456l-5 1M1325 456l1 -6M1315 457l-2 -3M1308 457l2 4M1267 498l-3 -3M1276 491l-3 -3M1284 475l4 2M1287 464l5 2M1280 440l-5 2M1082 512l-3 4M1081 495l4 1M1085 490l-4 -1M1090 486l1 5M1106 480l5 0M1107 474l-3 2M1102 470l5 -1M1319 621l6 0M1317 610l5 -1M1323 606l-5 -2M1321 599l5 2M1275 644l4 1M1274 661l-4 -1M1263 668l-1 -5M1256 667l1 5M1251 673l-2 -5M1244 671l3 5M1239 675l-2 -5M1245 627l6 1M1245 639l3 -4M1247 644l-4 0M1242 654l-5 -1M1344 729l-4 3M1338 729l3 -4M1311 687l-4 2M1305 687l1 -4M1303 680l-3 4M1208 416l-3 -3M1196 430l3 3M1197 436l-4 -2M1192 440l5 1M1193 447l-5 -1M1173 455l0 -5M1269 448l-1 -6M1262 447l1 4M1250 446l0 4M1247 450l-3 -4M1240 450l2 3M1229 449l-2 4M1222 452l2 -4M1321 536l0 5M1301 530l-2 4M1293 525l-3 3M1180 432l-2 -3M1174 432l2 4M1170 436l-3 -4M1158 442l-1 -5M1152 444l3 4M1153 463l-5 1M1158 470l-3 3M1163 480l-3 2M1335 560l-3 2M1307 553l1 -5M1106 467l5 1M1105 461l-2 4M1099 460l3 -4M1097 438l5 3M1114 434l-3 -5M1119 424l-2 -3M1120 419l3 2M1164 649l1 5M1155 645l-2 4M1153 690l2 4M1141 692l1 5M1138 699l-2 -4M1132 699l0 5M1109 531l-1 4M1098 530l-1 4M1093 533l-1 -5M1087 533l3 4M1216 667l-2 5"/>
<path id="p10" d="M1221 670l0 -4M1265 437l5 -1M1267 432l-5 -1M1269 421l-5 -2M1270 415l3 1M1072 492l1 4M1065 494l1 -6M1056 489l2 -3M1485 666l-4 2M1048 490l-3 2M1045 500l-5 1M1041 504l4 1M1043 511l-5 -1M1088 635l-5 -1M1095 628l-2 -4M1095 621l5 2M1100 619l-2 -4M1126 515l-3 4M1131 517l0 -3M1146 518l-4 4M1148 523l2 -4M1174 550l4 -4M1170 541l4 -3M1171 535l-5 -1M1243 354l4 -3M1245 349l-4 -1M1241 344l5 -1M1238 327l-4 3M1233 327l2 -4M1168 487l-2 3M1173 490l0 -4M1180 491l-3 5M1182 497l2 -3M1166 505l4 1M1167 524l-6 -1M1167 541l5 2M1442 602l-4 -1M1440 596l5 0M1439 580l-4 0M1161 462l5 0M1167 458l-4 -3M1397 681l-2 -3M1405 671l-4 -2M1407 665l4 4M1413 663l-3 -3M1416 654l-3 -2M1242 558l5 -2M1247 560l-2 4M1244 566l6 1M1254 592l-6 1M1250 597l5 1M1247 607l4 2M1239 615l3 4M1234 621l-2 -4M1282 721l5 1M1240 610l4 0M1247 621l3 -4M1254 622l-2 4M1257 639l5 0M1043 516l0 -5M1034 515l-2 -4M1031 510l-4 3M1277 498l4 2M1262 570l4 0M1265 574l-4 2M1263 585l-5 -1M1251 590l-2 -4M1246 589l-2 5M1241 595l-1 -5M1235 598l4 3M1229 684l0 4M1222 685l0 -5M1217 680l-2 5M1204 680l0 5M1020 434l4 2M1015 445l5 1M1244 618l3 -3M1245 612l-4 0M1239 609l4 -2M1190 376l2 -4M1195 374l0 5M1200 377l1 -4M1207 376l-2 4M1211 382l1 -6M1429 552l2 3M1424 556l-1 -3M1411 548l-3 3M1405 548l1 -4M1396 538l4 -3M1397 532l-5 1M1258 402l2 5M1247 407l3 3M1237 406l-2 6M1232 411l-1 -4M1212 405l2 -4M1261 325l-2 -5M1268 315l-4 0M1291 410l5 2M1291 431l3 1M1293 436l-3 1M1228 406l-2 -4M1220 413l-4 -4M1215 416l3 3M1224 426l-3 4M1235 430l0 4M1240 433l2 -5M1243 427l3 4M1158 628l-3 -3M1152 628l1 4M1143 635l3 2M1146 641l-5 0M1140 651l-4 -2M1134 653l3 3M1363 472l4 -1M1359 455l-5 0M1355 451l4 -1M1235 641l-2 -4M1246 641l0 -6M1250 636l2 5M1268 628l5 2M1275 630l0 -4M1308 563l3 5M1298 565l0 4M1207 447l-5 -1M1204 451l3 3M1207 457l-4 0M1204 463l5 1M1201 473l3 2M1201 478l-4 0M1195 480l3 4M1146 634l-1 -4M1225 596l-4 -3M1217 600l-4 -2M1196 612l-4 -3M1190 610l0 4M1186 614l-2 -3M1078 425l-3 -3M1071 423l2 5M1053 425l-2 4M1044 424l-2 4M1377 683l3 2M1371 691l2 3M1373 707l-4 1M1371 712l4 0M1375 718l-5 2M1377 723l4 -2M1381 727l-4 0M1378 733l4 0M1418 660l-3 2M1417 648l-6 1"/>
<path id="p11" d="M1405 635l3 -3M1401 624l4 -3M1402 618l-3 2M1350 449l-2 -6M1313 435l-3 5M1297 456l-4 -2M1294 451l4 -1M1398 416l-3 0M1387 405l4 -1M1388 398l-6 0M1384 393l5 -1M1384 386l-4 2M1173 516l-3 -2M1177 510l2 4M1180 503l4 -1M1183 497l-5 -1M1181 490l5 1M1187 480l3 2M1204 646l3 5M1206 652l-5 -1M1200 657l5 1M1204 662l-5 2M1201 667l4 1M1335 669l0 5M1339 673l2 -3M1300 512l3 -4M1299 505l-4 4M1294 504l3 -3M1291 498l-2 3M1308 457l-6 3M1287 441l4 -2M1287 434l-5 3M1282 427l-4 0M1061 490l3 2M1057 500l4 1M1053 528l-5 1M1052 541l-6 -1M1083 484l-2 -5M1076 484l3 4M1071 489l-2 -5M1056 483l-3 4M1047 476l-4 2M1201 420l4 2M1197 424l-1 -4M1188 429l-3 -2M1285 542l-4 4M1278 542l0 -4M1275 536l-4 3M1271 532l4 -2M1359 454l0 -5M1349 446l2 -4M1352 441l-5 1M1355 421l-4 -3M1353 415l5 -2M1356 408l-5 -2M1352 403l6 -1M1311 664l5 -1M1200 452l4 -4M1192 446l2 -4M1181 435l-4 2M1076 536l-1 -4M1080 531l2 4M1085 528l-3 -2M1084 522l5 1M1364 696l-5 -2M1370 678l-4 -3M1274 603l-5 1M1268 592l-4 2M1263 589l4 -2M1261 578l5 -2M1270 554l-4 -1M1270 548l4 1M1251 593l-4 -1M1247 598l4 3M1243 603l-3 -3M1236 603l2 4M1313 410l2 -5M1320 410l-3 4M1334 415l3 -5M1340 413l0 4M1235 482l-4 2M1229 471l-5 1M1217 457l-4 0M1153 588l-4 2M1147 587l3 -5M1145 580l-4 3M1130 572l3 -3M1192 353l4 0M1195 359l-4 0M1192 369l-3 0M1187 374l4 2M1184 390l-4 -1M1293 489l4 3M1301 479l4 4M1306 475l-5 -3M1171 472l1 4M1165 473l0 -4M1155 469l1 -3M1149 468l0 5M1085 435l2 -5M1091 442l5 -2M1101 455l-4 1M1102 461l2 -3M1109 463l-3 3M1113 468l1 -5M1124 470l1 -5M1130 469l-1 3M1363 507l-5 4M1350 499l3 -4M1342 490l4 -3M1331 470l4 -2M1329 464l-2 4M1182 666l-3 -2M1206 669l-3 5M1214 677l-1 3M1245 349l-2 5M1227 343l-3 3M1221 342l2 -3M1221 335l-4 4M1217 322l-3 4M1336 721l3 -5M1342 724l-5 3M1347 733l-6 2M1348 739l3 -3M1354 746l4 -3M1360 745l0 4M1371 744l2 4M1375 750l2 -3M1303 641l-4 -4M1298 645l4 3M1297 652l-4 -1M1299 645l3 -3M1303 652l5 1M1305 658l-6 -1M1314 670l2 -5M1326 672l2 -6M1280 427l1 -4M1288 418l-3 -3M1289 412l3 2M1292 406l-4 1M1075 377l0 5M1070 381l-2 -4M1062 382l-1 -3M1056 379l1 5M1050 380l2 -5M1231 520l-5 -1M1230 530l-4 0M1225 534l3 3M1452 555l-5 1M1446 552l4 -2"/>
<path id="p12" d="M1385 426l5 -3M1376 431l-4 -3M1364 457l4 1M1370 461l-4 4M1367 467l5 0M1360 473l3 4M1144 533l1 4M1149 535l1 -3M1154 532l2 5M1160 536l1 -5M1172 533l-3 -4M1182 532l1 -4M1188 529l-1 6M1195 532l-1 -5M1171 558l-4 2M1167 554l3 -1M1171 534l6 1M1193 528l0 5M1201 536l-3 4M1199 542l4 -1M1204 547l-5 2M1276 401l-4 -2M1278 390l-4 -1M1276 379l-4 1M1271 375l4 -2M1271 368l-5 0M1264 368l3 -5M1133 643l-2 -3M1124 650l-1 -5M1118 650l1 4M1110 659l4 1M1106 670l3 2M1233 391l3 -4M1241 396l4 -3M1252 407l-4 2M1267 690l-2 -3M1256 693l0 -5M1239 695l1 5M1082 524l0 5M1071 527l0 4M1068 532l-3 -3M1062 532l3 3M1058 538l-2 -4M1052 535l1 5M1042 539l2 4M1036 544l1 -5M1137 666l3 -4M1128 656l4 -3M1129 650l-3 2M1106 628l-3 3M1260 631l3 -2M1266 639l4 -2M1283 653l3 -4M1201 669l2 5M1196 678l3 2M1191 709l-4 -2M1185 712l4 3M1181 723l4 0M1278 676l4 -4M1154 550l2 4M1169 555l2 -3M1175 553l-1 4M1177 559l4 -3M1213 335l3 2M1224 334l2 5M1237 335l-1 4M1206 673l5 -1M1244 644l-2 -5M1306 364l3 -4M1316 731l-1 4M1332 748l-2 4M1336 568l-1 5M1341 571l-1 -5M1346 567l1 3M1352 567l-2 -4M1356 562l3 5M1385 560l-1 -4M1364 674l-4 -4M1374 672l1 -4M1402 669l2 5M1156 523l0 -5M1174 538l1 -4M1196 543l3 -3M1209 541l-2 -4M1212 535l3 5M1219 539l0 -6M1221 532l2 5M1450 562l3 -2M1296 488l-5 0M1297 493l4 -1M1344 452l4 1M1342 462l3 3M1332 474l-2 -6M1436 462l0 4M1440 466l2 -5M1282 607l-4 4M1284 613l3 -4M1298 619l-1 4M1313 627l2 -4M1320 629l-5 3M1230 565l-5 2M1235 573l-2 3M1405 581l3 -3M1410 584l-3 3M1419 591l-3 3M1438 598l-1 5M1449 603l0 6M1455 606l-2 -5M1461 605l-2 4M1467 609l0 -5M1415 673l-3 2M1413 679l5 -1M1418 682l-4 2M1418 692l-4 1M1417 698l4 -1M1421 702l-4 1M1090 423l-2 4M1101 426l-1 4M1105 430l1 -4M1111 430l-2 3M1114 436l2 -4M1442 571l-2 4M1444 577l3 -3M1339 715l4 -3M1334 686l-4 0M1337 677l-4 -2M1346 669l-3 -2M1344 663l4 -2M1349 660l-4 -1M1365 656l-2 3M1356 643l4 -3M1202 584l2 -4M1208 586l-3 3M1210 592l4 -2M1215 595l-4 1M1362 611l3 0M1359 623l4 0M1359 630l-4 -1M1360 642l-5 2M1208 606l-3 -5M1201 603l-1 5M1196 607l0 -5M1191 602l-1 4M1180 601l-1 5M1174 604l0 -6M1168 601l3 5M1163 604l0 -4M1402 552l1 5M1390 554l2 5M1387 560l-3 -3"/>
<path id="p13" d="M1381 560l2 4M1318 541l-3 2M1316 546l4 -2M1320 552l-5 1M1320 559l5 -3M1325 567l4 -2M1332 570l-3 3M1333 576l5 -2M1334 586l5 0M1332 596l4 3M1037 518l-2 -4M1031 518l1 4M1199 415l2 4M1202 421l-6 1M1195 423l3 4M1195 429l-5 -2M1190 434l5 2M1193 440l-6 -1M1187 441l1 4M1166 420l-5 1M1166 410l-5 -1M1169 393l3 3M1262 480l2 3M1223 369l-4 3M1232 388l-3 3M1232 394l4 -3M1236 399l-4 3M1216 336l-3 -4M1215 330l3 2M1224 322l3 4M1230 323l0 -4M1234 318l1 4M1252 304l3 5M1144 657l5 -1M1146 662l-4 0M1143 667l5 1M1103 454l4 -1M1102 448l-4 3M1096 445l4 -3M1095 434l4 -3M1269 472l-4 -5M1272 467l2 4M1084 496l-3 -4M1084 490l3 2M1089 487l-4 -2M1471 600l1 -4M1479 607l3 -4M1378 418l3 -4M1383 418l-3 4M1384 424l4 -2M1390 428l-4 4M1166 554l3 -4M1171 556l-2 3M1179 563l-3 3M1263 662l1 5M1270 659l-5 -3M1270 652l4 3M1273 647l-5 -1M1298 433l-3 4M1287 429l-1 4M1278 435l2 3M1273 445l4 3M1266 462l-2 -3M1276 409l-2 5M1363 672l4 -3M1376 679l-3 4M1379 688l-3 2M1384 703l4 -2M1391 705l-3 5M1099 394l5 -1M1103 390l-3 -1M1108 379l-4 -3M1366 675l3 2M1369 680l-3 2M1369 686l4 -2M1354 703l-1 -5M1141 389l-4 -4M1134 388l2 4M1125 395l3 3M1126 410l-4 2M1125 416l4 -2M1123 425l4 3M1080 566l-4 3M1074 561l5 -1M1061 551l-2 4M1054 551l3 -4M1050 546l-1 4M1130 680l4 1M1135 685l-5 2M1136 692l3 -2M1143 693l-4 3M1177 427l-5 0M1161 419l2 -4M1155 414l-1 5M1144 415l0 4M1142 431l-6 1M1234 488l-4 1M1232 477l-3 2M1235 458l-4 -2M1236 445l-4 1M1231 619l-3 3M1245 627l2 -4M1258 626l2 4M1274 626l-2 -4M1107 446l-2 -5M1107 439l5 1M1110 433l-4 1M1104 429l5 -3M1104 423l-4 2M1102 418l4 0M1104 407l4 1M1110 405l-4 -2M1166 653l-3 2M1164 659l5 0M1165 671l5 -1M1169 677l-5 1M1168 683l4 0M1179 556l5 0M1186 557l-1 -4M1226 425l-3 -4M1229 420l2 3M1236 420l-1 -4M1280 450l2 6M1218 658l-3 4M1207 647l3 -4M1199 644l1 -4M1188 645l0 -5M1183 642l0 5M1233 328l5 1M1237 333l-4 1M1234 343l-4 -2M1224 361l-3 -1M1202 516l-2 -4M1210 511l0 -5M1215 506l1 5M1229 509l2 -5M1234 505l1 4M1239 503l-1 -3M1249 485l-4 -2M1395 675l4 1M1398 688l5 -1M1403 692l-4 2M1454 637l-3 -3M1449 640l4 3M1446 645l-1 -5M1435 658l4 3M1431 667l4 3M1255 476l-4 5M1248 475l3 -5M1245 470l-2 4"/>
<path id="p14" d="M1239 465l5 -2M1238 458l-4 4M1233 454l4 -2M1235 447l-4 1M1234 440l4 2M1238 434l-5 0M1182 546l0 -4M1201 524l-2 -3M1311 530l-1 3M1326 539l2 -4M1333 539l-3 5M1345 539l2 5M1179 509l1 -4M1185 511l-3 3M1186 518l3 -3M1191 518l-1 4M1251 594l2 -4M1247 588l-1 6M1242 592l0 -4M1238 599l-4 -1M1224 609l4 2M1210 617l1 -5M1403 669l-3 4M1391 667l1 5M1381 666l-1 4M1374 665l4 -3M1371 659l-2 5M1362 653l-2 3M1356 652l3 -3M1352 647l-3 4M1292 441l1 -5M1301 447l2 -4M1208 661l4 1M1210 667l-4 0M1205 676l-5 -1M1199 679l3 3M1300 705l-1 5M1294 706l2 -5M1273 696l2 -4M1268 691l-2 5M1209 377l-4 2M1200 370l-2 6M1194 372l1 -4M1258 637l-2 3M1255 632l3 -1M1258 627l-4 -3M1267 613l3 3M1274 615l-1 -5M1285 617l2 -4M1301 628l1 -5M1388 617l-4 -2M1393 612l2 4M1404 601l-4 -2M1405 595l5 2M1412 592l-5 -4M1456 682l4 -2M1462 684l-2 3M1473 690l-2 6M1456 679l-5 1M1450 681l3 3M1442 688l2 2M1438 693l-3 -5M1430 700l-3 -3M1428 710l-4 0M1319 516l-5 0M1316 512l4 -2M1309 507l-1 -4M1305 494l6 2M1190 366l3 3M1202 354l-4 -3M1205 348l2 4M1208 340l4 1M1185 480l-4 2M1188 484l2 -4M1195 481l0 6M1216 484l-1 5M1222 487l0 -5M1228 487l4 -1M1371 677l-3 2M1370 683l4 -2M1366 702l3 2M1363 711l3 4M1410 442l-6 1M1404 444l1 -4M1398 441l0 5M1388 424l-4 1M1468 622l5 -1M1475 601l4 2M1275 374l4 -1M1271 385l4 3M1264 394l4 3M1264 401l-5 -1M1258 404l2 4M1263 409l-6 1M1264 415l3 -2M1270 417l-3 5M1233 545l2 5M1238 550l2 -4M1253 551l-1 4M1433 451l1 -3M1401 548l5 2M1405 543l-3 -3M1411 532l-5 0M1413 523l-5 -2M1410 497l-6 1M1307 453l-3 3M1310 465l-4 1M1304 468l4 2M1305 475l-5 -2M1098 407l-1 -4M1107 408l1 -4M1119 409l0 -5M1124 405l3 4M1131 407l-2 -5M1369 732l-4 -4M1373 724l-3 -3M1384 714l1 4M1389 711l-3 -3M1393 707l2 4M1398 702l-4 -2M1398 691l-5 -1M1225 414l-6 -1M1220 403l-4 1M1214 400l4 -2M1214 394l-4 1M1398 564l3 -3M1377 554l2 -6M1375 547l-2 5M1371 527l-1 -4M1440 687l5 -2M1447 690l-4 3M1458 691l1 4M1463 696l1 -5M1468 692l1 4M1369 463l4 -2M1372 456l-5 1M1095 516l-4 -5M1092 521l5 1M1087 544l4 0M1358 601l4 2M1357 608l-3 -1M1332 621l3 5M1330 626l-4 -3M1324 625l1 5M1320 630l-2 -4M1315 626l-1 3M1283 607l5 -1M1289 611l-5 2M1294 617l-1 4M1293 624l5 -2"/>
<path id="p15" d="M1297 637l3 -2M1294 648l5 3M1292 659l4 0M1264 479l-3 1M1152 517l-3 4M1154 503l3 3M1168 500l-1 -5M1468 655l-1 4M1451 662l-3 -3M1445 661l2 4M1442 668l-3 -4M1437 671l4 2M1164 544l2 -3M1146 533l1 -4M1141 529l-1 3M1131 527l0 4M1124 529l1 -5M1125 522l-4 1M1226 625l5 -1M1229 619l-5 0M1234 610l-4 -3M1240 595l4 0M1239 587l4 -3M1184 421l-4 -4M1177 422l2 5M1165 461l-5 -1M1167 472l-5 1M1166 477l3 -3M1172 477l-1 4M1340 618l-2 3M1349 628l-4 3M1355 638l-4 3M1352 644l5 -1M1232 517l3 -2M1250 519l-1 4M1261 521l-1 5M1288 532l0 -4M1383 715l-1 4M1364 711l3 -4M1360 707l-1 5M1355 711l-1 -5M1349 712l3 4M1336 724l-2 -4M1051 411l2 -3M1437 542l-3 3M1433 546l-2 -5M1426 555l-5 -1M1420 559l5 1M1422 570l4 0M1294 460l-5 2M1280 444l-5 3M1274 446l0 -5M1371 511l5 0M1378 514l-4 2M1138 393l-3 -4M1142 387l2 4M1159 385l-2 -5M1095 401l-4 -3M1098 383l6 0M1092 486l1 -5M1303 431l-1 4M1313 427l2 3M1320 427l-2 -5M1326 425l-2 4M1331 431l1 -4M1336 428l0 5M1339 433l1 -4M1343 437l-4 1M1472 631l-4 1M1469 627l3 -2M1468 620l-4 2M1457 613l-1 4M1446 613l-2 3M1440 606l-3 4M1463 596l6 -2M1368 601l5 -1M1371 595l-5 1M1364 593l5 -1M1355 586l3 -2M1368 577l-1 -5M1134 506l-1 6M1139 510l2 -5M1143 505l1 5M1286 503l-5 -1M1287 493l-4 -1M1297 477l4 2M1300 470l4 1M1307 457l-4 -2M1309 452l1 4M1309 608l-4 0M1309 618l-5 1M1179 465l5 1M1181 475l4 0M1184 480l-4 0M1182 486l4 1M1187 490l-5 2M1190 654l-5 0M1179 638l5 -1M1175 628l5 -1M1062 479l1 -5M1056 477l1 4M1349 699l4 3M1356 700l-3 -5M1361 695l2 4M1365 688l3 2M1365 681l-4 1M1359 678l3 -4M1353 663l-4 0M1351 656l5 0M1348 646l6 -2M1317 391l-4 1M1316 396l4 -1M1322 408l4 -3M1327 419l5 -2M1208 613l-6 0M1198 606l-5 3M1191 607l0 -5M1185 603l0 6M1174 599l-3 3M1329 710l2 -4M1334 710l-1 4M1344 717l-1 5M1357 720l-2 5M1308 407l-5 1M1303 402l4 -3M1298 387l-3 0M1296 376l-4 0M1270 364l3 -3M1264 640l0 -5M1270 638l-1 4M1287 637l-2 -4M1310 643l0 -5M1322 645l2 -6M1406 407l5 -1M1404 402l-4 2M1392 397l-1 4M1386 395l2 -3M1385 390l-4 2M1177 493l-3 -4M1170 492l3 5M1159 504l-4 0M1165 522l3 -3M1127 419l-4 1M1122 415l5 0M1120 405l5 0M1122 400l-3 -1M1123 394l3 2M1129 391l-4 -4M1138 384l-1 -4M1094 521l4 1"/>
<path id="p16" d="M1099 525l-5 1M1100 532l3 -3M1105 535l-4 2M1113 542l-3 3M1231 373l3 2M1239 366l3 3M1245 365l-2 -5M1263 349l-4 -2M1262 343l5 1M1274 329l-2 -3M1229 452l-4 2M1218 440l3 -1M1208 421l4 -3M1197 409l0 5M1192 414l-2 -5M1186 414l1 3M1356 433l-4 -2M1358 441l-2 3M1360 449l3 -3M1365 452l-3 3M1253 542l-5 -1M1252 535l5 3M1268 518l3 4M1274 516l-2 -5M1281 507l-2 -3M1279 502l4 0M1282 496l-5 -1M1278 481l5 -2M1108 419l-6 0M1101 417l4 -3M1099 410l-4 3M1085 405l2 -4M1079 398l4 -2M1142 570l-3 -2M1143 600l-4 0M1142 605l3 -1M1121 570l-5 -3M1107 587l-3 -3M1092 595l2 3M1084 602l2 4M1145 502l1 4M1142 508l-3 -2M1125 514l2 4M1131 526l-1 3M1260 522l3 4M1267 520l-2 -3M1285 512l2 -5M1301 499l-4 -2M1299 492l5 2M1303 487l-4 -2M1361 550l-2 6M1353 543l-3 3M1349 532l-5 2M1340 522l-1 4M1395 445l5 -2M1399 448l-3 2M1395 454l5 1M1399 466l5 -2M1410 478l-5 -2M1394 492l-1 -5M1337 749l-2 5M1331 748l3 -4M1331 741l-4 2M1330 731l-4 0M1329 724l4 1M1339 709l-4 -3M1338 703l4 1M1342 698l-3 0M1118 562l-1 4M1103 571l-3 -3M1098 575l4 1M1306 581l1 4M1302 586l-3 -4M1286 591l3 4M1352 655l-5 1M1353 635l-4 -2M1352 619l4 -1M1239 405l3 -2M1237 392l5 0M1247 374l4 2M1308 478l-3 5M1251 446l2 3M1241 471l-4 0M1169 517l-1 5M1164 513l3 -2M1169 491l3 2M1166 482l3 -3M1166 476l-4 3M1183 694l-3 0M1175 684l-3 3M1167 674l-1 6M1161 675l0 -4M1156 673l0 4M1151 677l-1 -3M1141 676l0 -3M1124 661l4 -4M1184 373l-3 1M1179 358l5 -1M1095 436l2 5M1101 434l-4 -3M1289 364l0 5M1265 375l-2 -3M1259 376l3 4M1056 487l-1 -5M1068 480l-1 -5M1082 468l3 4M1093 465l2 4M1167 532l-1 4M1137 542l4 4M1121 547l1 -6M1113 547l-1 -5M1079 462l0 4M1089 456l3 5M1078 415l2 4M1071 417l2 -4M1066 411l0 5M1060 412l0 -6M1430 645l5 0M1421 630l-5 4M1331 591l0 -5M1346 586l0 5M1355 591l-1 4M1359 597l2 -4M1157 520l4 -2M1168 538l3 -3M1362 693l-4 -2M1368 689l-1 5M1379 687l0 4M1386 689l-2 -5M1391 686l0 4M1397 689l0 -5M1126 429l-3 -5M1107 434l-2 -5M1091 434l0 4M1238 559l2 -5M1244 558l0 5M1248 569l-5 -1M1245 582l-4 -3M1188 578l0 4M1181 577l5 -4M1176 574l0 4M1165 573l0 5M1158 575l1 -4M1142 590l-5 -2M1135 591l1 5M1134 597l-3 -3M1129 598l3 3M1128 605l-3 -4M1362 546l-4 0M1361 552l4 -1"/>
<path id="p17" d="M1365 564l5 0M1361 665l-1 -3M1373 667l0 -6M1310 635l-4 1M1302 650l4 4M1299 656l-2 -4M1292 658l4 3M1290 665l-3 -5M1284 666l3 3M1283 673l-4 -3M1277 673l0 4M1257 712l-2 5M1240 710l3 -3M1101 518l4 -2M1106 521l-4 2M1107 527l3 -2M1125 532l-1 4M1131 534l0 -5M1154 524l-3 -4M1354 683l-5 0M1346 667l4 -1M1347 662l-4 0M1340 662l3 -4M1215 571l5 -1M1208 564l2 -4M1201 557l3 -4M1136 616l5 0M1192 544l5 -1M1199 561l-4 0M1197 583l-5 0M1266 441l4 3M1276 429l-2 -4M1228 451l-3 -3M1222 453l4 3M1217 468l-5 -1M1216 478l-4 1M1218 485l4 -3M1318 628l0 -5M1399 603l-5 0M1401 587l4 1M1407 583l-4 -3M1209 626l-4 -2M1377 634l3 -4M1388 643l-1 5M1390 649l4 -3M1397 656l4 0M1405 663l3 -3M1416 666l0 -4M1422 661l0 5M1432 660l2 5M1099 446l3 4M1099 452l-4 -1M1091 460l-3 -3M1143 420l4 -2M1136 415l3 -4M1122 409l-2 3M1111 390l-4 2M1106 385l6 -1M1104 380l-2 3M1087 398l-6 0M1162 452l1 -5M1150 444l-1 4M1146 450l-2 -5M1140 449l2 4M1138 455l-4 -3M1131 455l3 5M1120 463l3 4M1155 482l-5 -2M1156 472l-3 -2M1162 458l1 5M1179 455l-3 -3M1357 440l3 -3M1349 431l4 -3M1352 425l-6 -1M1428 477l0 -5M1424 474l-1 4M1415 481l3 3M1400 499l-4 -1M1396 504l5 2M1185 514l-2 3M1178 515l1 -5M1169 520l-2 -5M1159 519l-2 -4M1152 518l2 4M1134 529l3 4M1130 540l3 1M1131 546l-4 -1M1445 562l-1 4M1402 508l-4 -1M1060 500l-2 4M1075 507l2 -4M1180 541l3 -3M1178 534l-4 4M1171 533l5 -2M1156 530l2 4M1153 536l-3 -3M1146 537l3 4M1134 535l-1 5M1278 699l0 -4M1198 391l0 -4M1185 380l-3 2M1179 379l2 -4M1237 644l-2 3M1230 641l4 -4M1221 623l-4 3M1208 615l1 -5M1182 604l0 4M1446 626l-4 2M1440 624l3 -5M1432 611l-3 4M1426 610l2 -3M1423 603l-3 5M1410 600l0 4M1403 601l0 -5M1386 594l-2 5M1143 623l-2 4M1143 630l5 -2M1218 399l-4 -2M1223 383l3 4M1239 376l-1 -4M1255 370l-1 4M1266 376l-3 3M1082 408l-2 -3M1083 401l5 2M1086 392l4 0M1083 384l4 -1M1083 377l-4 1M1414 613l-4 -2M1410 617l4 2M1325 383l-1 -4M1129 413l2 -3M1122 405l2 -4M1200 500l4 -2M1235 333l-4 2M1232 354l-4 -3M1225 354l3 4M1223 360l-5 -1M1218 361l2 3M1349 483l-3 5M1344 480l3 -1M1336 471l3 -4M1326 467l1 -5M1320 463l-2 5M1179 606l2 -4M1185 604l0 5M1122 425l-3 1M1389 429l-4 1M1381 408l-4 3M1378 402l6 1M1382 396l-5 0"/>
<path id="p18" d="M1379 391l5 0M1073 494l-3 -4M1145 413l-3 -1M1140 416l3 3M1137 421l-3 -5M1121 416l-1 6M1307 389l-2 4M1308 396l3 -3M1312 399l-3 3M1315 410l-5 1M1120 464l2 4M1127 466l0 -5M1136 458l-5 -2M1143 449l-4 -2M1146 439l-4 -1M1136 427l2 -4M1431 520l-2 2M1425 512l-4 3M1419 511l3 -4M1417 504l-3 3M1412 501l4 -2M1284 344l-4 2M1279 342l3 -4M1272 335l3 -3M1249 334l-2 4M1242 334l0 -4M1240 329l-4 2M1249 701l2 -4M1246 696l-2 4M1240 697l2 -4M1325 406l-4 0M1321 395l-4 0M1320 389l4 1M1345 383l0 -4M1166 541l3 4M1157 568l-3 -3M1152 576l-5 -1M1150 583l4 -1M1149 604l4 1M1329 679l0 -4M1352 689l-2 4M1043 497l-5 1M1049 487l-4 -2M1052 482l2 4M1059 482l-1 -4M1058 476l4 2M1065 476l-2 -4M1256 596l1 -4M1261 592l2 4M1278 597l0 -5M1288 597l-1 -5M1300 596l-1 -5M1307 597l3 -2M1178 543l-3 4M1164 541l-2 -4M1161 536l-4 3M1360 660l4 -3M1375 667l-2 3M1380 670l0 -4M1396 661l-2 -4M1400 658l-1 4M1225 364l6 0M1231 367l-3 4M1228 374l6 1M1233 391l-6 2M1230 397l4 0M1230 403l-4 -1M1223 405l4 3M1226 410l-4 0M1222 419l-4 -2M1157 503l2 -5M1151 501l1 5M1143 511l4 2M1428 697l1 5M1414 706l-2 -4M1408 725l-4 0M1303 575l4 -2M1306 569l-5 -1M1302 563l4 0M1295 546l-3 5M1111 501l-5 -1M1110 495l4 2M1114 490l-5 -3M1115 473l4 1M1125 454l5 3M1131 438l-4 1M1094 432l2 4M1098 436l0 -4M1104 434l-1 4M1117 443l4 -4M1123 445l-3 4M1044 445l2 -3M1039 438l0 -4M1031 430l4 -4M1155 408l4 2M1160 436l-2 3M1174 445l0 -5M1031 491l5 2M1031 497l-4 -1M1172 396l-3 -3M1174 389l5 3M1180 387l-2 -5M1177 380l5 0M1287 466l-4 3M1280 466l2 -3M1270 461l2 -5M1258 457l1 -5M1247 454l0 -4M1233 444l-2 4M1140 488l4 2M1148 476l-4 -1M1149 468l-4 -2M1164 464l-1 5M1166 470l3 -3M1173 468l-2 6M1177 473l2 -4M1184 473l-3 4M1434 509l-3 -3M1427 515l-4 0M1402 400l-4 4M1394 382l-5 1M1231 386l0 -5M1239 376l-4 -2M1236 371l4 -1M1237 364l-5 1M1231 360l4 -3M1231 354l-4 2M1219 350l-1 4M1207 350l-1 4M1264 700l4 3M1267 711l4 0M1447 555l1 5M1248 481l5 -4M1265 486l0 3M1269 490l1 -4M1275 489l-2 4M1283 495l-2 3M1286 513l4 -1M1291 512l-1 5M1020 453l2 -4M1449 584l-5 -2M1452 563l-4 1M1454 553l-5 -2M1454 546l5 2M1038 498l5 2M1042 480l4 -3M1042 474l-3 2M1034 460l4 -1M1319 594l4 -3M1316 586l4 -3"/>
<path id="p19" d="M1306 585l-2 -5M1301 580l-1 4M1296 581l2 -4M1292 575l-2 4M1281 574l0 5M1306 622l3 -3M1313 621l-2 4M1318 623l0 -3M1323 621l0 3M1130 549l-4 -3M1139 530l-4 -3M1141 523l2 5M1147 522l-3 -4M1150 516l2 4M1157 518l-1 -5M1161 512l1 5M1176 505l-2 -5M1292 441l-5 0M1289 450l-5 1M1289 461l-5 0M1204 701l-3 2M1207 713l-4 0M1204 719l5 1M1275 513l0 -5M1269 509l0 5M1249 510l0 5M1232 508l1 -4M1226 505l-1 5M1213 369l-5 2M1206 368l3 -3M1205 361l-4 4M1208 351l-5 0M1221 359l2 3M1194 538l2 -4M1215 550l-1 5M1206 538l4 -1M1294 469l-5 -3M1287 671l3 4M1269 685l4 2M1330 561l4 0M1327 585l5 0M1330 590l-4 0M1328 596l5 -1M1329 612l-5 1M1326 618l5 1M1246 702l3 3M1252 701l-2 -4M1254 695l2 4M1259 692l-3 -3M1260 685l4 3M1272 674l-2 -3M1275 669l3 3M1344 482l4 -3M1344 476l-4 1M1340 466l-5 -1M1345 457l-3 -3M1345 451l3 1M1259 622l-4 0M1256 616l5 -1M1249 597l3 -1M1242 590l2 -4M1240 579l4 -1M1242 573l-4 -1M1240 556l6 2M1254 696l4 -3M1259 698l-2 4M1260 720l-5 -1M1255 732l-3 -3M1256 324l3 3M1259 335l4 0M1269 343l4 -4M1269 611l4 -1M1269 605l-4 3M1263 603l3 -4M1259 599l-1 4M1253 595l-3 2M1456 618l3 0M1457 613l-4 2M1437 603l-2 5M1300 497l-4 2M1285 482l-3 3M1281 479l2 -3M1212 521l-3 -2M1216 509l-4 -3M1220 493l4 2M1225 491l-3 -2M1228 486l2 3M1124 683l1 -5M1130 679l1 6M1136 680l-1 -5M1151 672l2 3M1382 717l2 -5M1391 711l-3 -4M1400 703l-4 -2M1408 700l0 -4M1388 696l4 1M1394 694l-3 -5M1395 687l6 1M1401 691l0 -4M1367 626l3 -5M1366 620l-4 3M1251 487l2 3M1246 497l4 2M1123 525l4 -2M1126 531l-5 0M1128 537l4 -2M1140 546l-3 3M1139 551l4 -1M1405 634l-4 2M1399 633l2 -5M1397 627l-5 3M1391 624l3 -3M1389 619l-4 2M1378 615l0 5M1371 617l1 -6M1437 577l4 3M1431 597l3 4M1430 603l-4 -2M1245 655l-3 2M1238 647l-4 2M1225 406l-3 1M1225 395l-4 1M1231 370l4 1M1233 353l-4 0M1231 346l5 -1M1229 334l5 -2M1279 640l-4 -2M1276 649l-3 1M1276 660l-6 -1M1273 665l4 1M1276 670l-5 0M1270 675l5 3M1342 524l-4 -4M1341 517l5 2M1434 477l-4 1M1427 476l3 -4M1414 465l-1 5M1408 466l2 -5M1398 459l3 -2M1161 403l2 -3M1150 398l0 -5M1195 388l2 4M1216 384l1 4M1227 388l-2 4M1231 392l2 -3M1333 720l0 -4M1337 716l2 4M1343 720l0 -5M1349 717l1 4M1354 719l1 -4"/>
<path id="p20" d="M1149 708l-4 -4M1170 703l2 -5M1095 597l3 4M1101 594l-3 -3M1108 584l-3 -3M1108 578l3 1M1114 578l-3 -5M1121 562l3 3M1130 556l3 3M1229 439l-1 6M1235 439l-3 -4M1256 443l2 -4M1295 465l2 3M1301 465l-2 -4M1303 459l4 2M1437 628l-4 1M1432 631l5 2M1435 644l4 -3M1440 647l-4 2M1471 654l0 4M1076 488l-1 5M1069 489l1 -4M1066 484l-2 4M1043 483l1 5M1038 486l0 -5M1463 661l-1 -6M1488 642l2 4M1140 396l-5 1M1137 391l3 0M1141 385l-5 1M1100 581l-2 -4M1353 426l5 2M1358 430l-4 1M1376 448l3 -3M1382 450l-4 3M1389 461l-4 3M1387 466l5 0M1384 475l4 3M1352 522l-4 -2M1353 510l-4 1M1356 489l-5 2M1345 481l-2 4M1424 475l-1 -4M1419 470l-4 4M1395 474l-3 -3M1389 475l4 3M1128 495l-6 -1M1121 511l6 1M1129 515l-5 2M1141 529l1 -4M1194 628l3 3M1214 619l1 4M1221 621l-2 -6M1062 502l-3 0M1060 516l4 -1M1063 525l5 1M1065 532l-4 0M1062 537l5 -1M1064 549l6 -1M1068 564l-3 3M1126 492l-3 -3M1113 502l4 2M1105 516l-4 -2M1094 521l-1 -4M1089 518l-1 4M1206 571l3 -3M1184 561l-2 5M1173 559l1 5M1221 575l-1 -5M1228 576l-3 4M1231 582l5 -3M1072 462l-2 -6M1056 478l-4 -3M1050 476l-1 3M1322 574l0 3M1331 584l-2 3M1335 593l-3 3M1335 606l-6 0M1333 612l4 -2M1338 617l-3 2M1346 626l-2 4M1125 613l-3 -4M1119 609l-1 6M1114 612l0 -4M1103 603l-1 3M1139 500l-3 3M1130 490l4 -4M1130 483l-4 1M1084 453l-3 -6M1088 449l0 5M1099 453l-3 4M1102 458l3 -4M1109 465l4 -1M1289 355l2 4M1296 355l-1 -4M1300 349l2 4M1238 487l-3 5M1231 486l4 -3M1222 484l0 -5M1217 480l0 4M1211 481l1 -5M1202 473l3 -3M1200 466l-4 4M1193 464l4 -4M1192 458l-3 2M1185 451l-4 3M1393 457l-3 -4M1396 451l4 4M1262 341l6 -3M1269 343l-4 5M1272 349l1 -5M1356 605l-3 3M1350 598l-5 3M1345 594l4 -2M1344 588l-4 3M1275 733l2 -5M1257 719l4 -2M1247 706l-1 5M1471 633l6 1M1472 640l-4 -2M1472 651l-4 1M1475 657l2 -3M1485 664l3 -3M1249 672l-4 -1M1246 661l-6 0M1244 656l4 1M1236 651l2 -4M1230 648l0 5M1215 659l-4 -3M1312 559l4 1M1394 705l-5 2M1388 690l3 -2M1384 678l4 -1M1390 662l3 -1M1393 657l-4 -2M1195 675l2 -3M1208 680l-3 4M1218 684l0 5M1227 681l2 3M1236 674l2 3M1242 672l-2 -4M1244 665l3 5M1387 661l-1 5M1380 653l-2 3M1376 649l3 -2M1366 645l3 -4M1355 644l-1 -6M1341 634l-1 5M1209 421l-4 3M1314 608l2 -6"/>
<path id="p21" d="M1306 610l-3 -2M1299 616l-4 -2M1294 614l0 5M1290 651l1 4M1296 649l-5 -3M1309 642l2 4M1316 644l-3 -4M1326 638l-2 -4M1185 488l-4 0M1170 481l0 -4M1166 476l-1 4M1161 479l1 -5M1305 437l4 0M1305 444l-5 0M1299 447l4 2M1296 457l4 0M1223 335l1 -4M1230 333l-2 4M1241 338l-2 4M1262 340l1 3M1269 341l-3 -5M1065 484l-1 5M1059 487l1 -4M1055 483l0 4M1041 470l-4 4M1031 467l-2 5M1291 427l-1 -5M1301 427l-1 -4M1306 425l1 4M1319 432l3 -2M1334 436l-4 4M1386 656l3 4M1376 657l-2 5M1040 532l2 -5M1047 532l-1 5M1051 536l2 -5M1070 543l3 -3M1076 540l1 4M1080 545l2 -5M1095 551l-3 3M1095 566l5 -1M1101 569l-4 4M1117 603l3 -3M1122 607l-3 5M1127 613l-1 4M1203 647l-1 5M1198 650l-2 -4M1177 643l3 -5M1169 602l5 1M1173 585l-5 -2M1349 599l2 4M1354 597l-4 -3M1355 567l5 0M1346 555l0 4M1243 483l-3 3M1238 481l2 -3M1223 468l3 -4M1170 566l2 5M1191 577l-4 3M1209 384l-2 -4M1205 390l5 1M1208 395l-4 1M1205 406l-5 -3M1193 411l-2 -3M1183 412l0 -3M1218 498l4 0M1230 511l-2 4M1237 522l-4 1M1250 538l-2 4M1291 434l0 -4M1340 568l-2 3M1346 570l0 -5M1353 567l0 6M1357 571l1 -3M1364 571l-2 5M1367 576l1 -5M1376 579l2 -4M1145 454l-2 -4M1139 452l1 5M1129 459l3 3M1267 615l-3 -5M1261 615l3 4M1255 626l3 3M1195 686l5 -2M1206 688l0 -5M1300 687l5 -2M1304 692l-5 1M1300 702l-6 0M1235 502l-2 -5M1202 518l0 5M1433 659l3 3M1431 665l-4 -2M1424 662l-1 6M1421 668l-2 -5M1415 665l1 4M1401 695l4 1M1224 464l4 2M1217 490l-4 -1M1203 499l3 3M1177 504l3 -3M1182 502l-1 4M1185 507l2 -3M1191 506l0 4M1200 506l1 4M1206 505l-2 -3M1410 554l-5 -1M1407 574l-6 1M1405 584l-4 1M1403 594l-4 0M1358 541l5 2M1360 546l-5 -1M1358 558l-6 0M1355 563l4 1M1356 591l-3 1M1355 603l-6 0M1311 740l-4 4M1322 747l-4 1M1288 401l-5 0M1282 403l4 2M1280 419l-3 -3M1279 436l-4 2M1283 440l2 -3M1242 635l-3 -4M1246 630l2 6M1252 633l1 -5M1256 627l3 5M1262 626l-4 -4M1261 620l4 2M1336 639l2 -3M1343 636l-1 5M1350 637l-1 -4M1354 634l1 4M1360 634l-2 -3M1371 632l-1 -3M1317 646l-4 0M1316 640l5 2M1321 638l-4 -2M1323 631l4 3M1330 620l4 3M1285 726l5 -1M1300 736l-3 2M1258 445l-1 5M1240 450l-2 -5M1235 446l-1 5M1265 443l-4 3M1269 473l4 -2M1291 570l5 0M1296 573l-4 3M1294 579l5 -1M1298 584l-3 2"/>
<path id="p22" d="M1293 595l-5 -4M1300 615l-3 2M1437 545l-2 3M1433 542l3 -3M1433 535l-4 1M1438 525l-3 -3M1447 509l5 2M1371 423l6 1M1376 432l4 -3M1385 438l4 -2M1337 593l-5 0M1424 514l-3 4M1423 519l4 0M1432 533l-4 2M1431 538l5 -1M1394 627l5 1M1396 598l1 4M1422 598l3 -5M1430 607l5 -3M1441 608l2 -3M1374 403l-2 -3M1368 405l3 3M1365 416l4 0M1280 447l-4 1M1278 440l5 2M1279 434l-5 1M1279 418l4 1M1285 417l-4 -3M1276 404l3 -4M1221 376l0 -6M1226 372l0 4M1231 376l2 -5M1237 374l0 4M1199 503l-2 5M1218 524l4 -3M1222 533l3 0M1224 538l-4 1M1223 546l4 -3M1346 459l-2 4M1334 460l0 4M1326 455l-1 4M1392 527l2 5M1386 530l0 -4M1379 527l1 6M1370 534l2 4M1053 433l3 -4M1056 442l5 0M1061 455l-4 2M1054 470l3 2M1050 477l-3 -5M1320 439l1 3M1198 694l-1 -6M1203 690l1 4M1210 692l1 -4M1241 341l-2 4M1236 344l0 -4M1226 344l-1 -3M1233 712l4 1M1234 717l-4 -1M1234 733l4 0M1204 418l2 -3M1210 416l-2 5M1223 418l-1 6M1231 416l3 3M1400 596l-3 -4M1411 593l-3 -3M1416 580l5 -1M1419 575l-3 1M1230 527l3 4M1216 549l-4 2M1095 450l0 4M1090 455l-2 -5M1076 447l-4 4M1070 448l1 -3M1059 449l-2 -6M1047 448l1 -5M1379 655l2 4M1369 657l0 3M1353 657l0 -4M1346 656l1 5M1344 666l4 0M1191 465l4 -1M1201 472l3 -2M1207 475l-4 2M1255 483l4 2M1257 489l-5 -1M1257 507l5 -1M1273 510l-1 4M1278 513l1 -5M1283 509l1 4M1267 646l3 3M1272 635l4 1M1273 630l-4 2M1198 410l3 -3M1203 412l-3 3M1204 425l-6 0M1195 433l-3 -4M1188 433l1 5M1185 438l-2 -3M1169 440l1 4M1162 441l0 -6M1376 614l-5 -2M1387 592l-5 -2M1391 587l3 4M1401 586l1 5M1406 589l1 -4M1217 606l-3 -3M1212 612l6 0M1217 615l-3 2M1215 621l4 -1M1225 634l-5 3M1239 523l0 4M1234 525l-1 -3M1229 525l1 4M1219 529l0 4M1214 533l-2 -4M1208 534l0 4M1202 545l5 0M1196 552l3 4M1186 567l-3 -4M1255 655l-2 3M1256 661l4 -2M1259 666l-4 0M1157 464l-4 -4M1159 448l4 0M1168 439l-5 -1M1167 431l6 2M1171 426l-5 0M1326 465l-2 -3M1321 466l2 4M1310 471l2 4M1307 477l-3 -5M1302 475l1 4M1297 478l-1 -4M1214 543l-5 1M1226 556l-2 5M1415 510l1 5M1426 505l3 4M1437 502l0 6M1440 507l3 -3M1206 397l-2 3M1201 387l-3 2M1195 386l2 -4M1195 379l-4 2M1196 368l-5 0M1193 362l6 0M1197 356l-4 -2M1195 350l5 1M1201 347l-3 -2M1222 442l-5 -2"/>
<path id="p23" d="M1218 424l-3 2M1210 410l3 -2M1209 404l-4 2M1202 403l4 -4M1202 397l-4 3M1196 394l4 -2M1217 430l3 4M1222 429l-3 -3M1231 425l-1 -4M1236 421l2 5M1114 669l4 -4M1113 655l5 0M1110 640l-4 1M1290 657l2 -5M1299 651l-3 -3M1312 642l2 4M1467 616l4 2M1467 599l-3 0M1462 596l2 -3M1458 580l-4 1M1454 575l5 -2M1455 569l-5 -1M1395 650l4 -2M1397 655l-3 1M1390 658l4 5M1391 664l-4 -2M1387 668l4 3M1388 678l4 0M1397 695l-5 2M1404 640l5 1M1407 647l-5 -1M1402 651l5 3M1398 668l-5 -3M1236 437l3 -3M1233 432l-2 3M1227 434l0 -5M1360 578l-4 1M1338 556l-3 4M1332 554l2 -2M1323 551l1 -4M1210 705l0 3M1188 702l3 5M1384 655l4 -1M1387 650l-4 0M1392 639l-5 0M1389 628l-5 1M1382 626l3 -5M1427 629l-3 -2M1433 614l4 2M1455 628l-3 1M1233 637l-2 4M1234 643l3 -3M1240 640l1 5M1243 645l2 -4M1291 699l-1 4M1313 695l1 5M1318 699l1 -4M1069 385l5 2M1071 375l5 -1M1202 450l4 -3M1209 458l3 -3M1214 460l-3 3M1215 467l4 -3M1257 472l-1 5M1251 476l0 -4M1245 476l2 4M1240 481l-1 -4M1234 478l0 4M1229 483l-1 -6M1216 478l1 -4M1349 581l5 -3M1351 587l-4 -1M1355 594l-3 3M1360 604l-3 2M1358 610l4 0M1395 576l-4 -2M1403 567l-2 -4M1239 416l4 2M1238 423l-4 -3M1238 450l4 -3M1239 474l4 -1M1180 640l-5 -3M1176 646l6 -2M1182 647l-4 3M1192 661l2 -4M1201 666l3 -3M1207 665l-2 4M1213 668l1 -5M1216 661l5 2M1222 662l-1 -3M1227 660l1 4M1070 447l-2 -3M1086 441l2 5M1093 441l-2 -5M1111 439l2 -6M1285 540l3 3M1301 525l3 4M1200 640l1 -5M1189 638l-1 -4M1179 639l1 -5M1173 638l0 4M1276 502l-3 -2M1278 497l4 3M1285 496l-3 -3M1286 489l4 2M1291 488l-3 -3M1291 469l5 0M1290 452l-4 0M1303 383l-3 1M1177 631l4 -3M1182 629l0 4M1188 632l0 -5M1215 639l-1 4M1221 641l-1 -4M1395 539l-4 -1M1395 533l3 3M1404 519l-4 -2M1403 513l4 2M1413 495l4 2M1068 461l-3 4M1055 468l-2 -4M1047 474l-5 -2M1198 439l0 4M1209 438l0 5M1214 441l2 -4M1226 439l-1 -6M1253 322l1 5M1263 318l3 4M1302 598l0 5M1315 611l4 -5M1321 611l0 4M1333 612l-2 4M1109 408l-2 4M1077 387l2 -6M1075 381l-2 3M1131 602l-3 4M1092 505l-1 5M1083 502l-3 3M1076 504l0 -6M1064 492l-4 4M1058 492l2 -3M1375 455l1 5M1382 458l1 -6M1406 460l-2 -3M1423 455l-1 5M1438 461l2 -4M1431 559l5 -2M1424 553l2 -4M1415 549l2 -6M1412 542l-4 4"/>
<path id="p24" d="M1406 541l1 -4M1399 540l-4 -5M1387 548l4 2M1229 623l4 2M1231 630l-6 -1M1224 632l3 4M1225 638l-5 -1M1302 483l-4 3M1298 478l5 -2M1306 462l-4 -2M1305 456l5 -1M1318 444l-2 -5M1302 473l-6 1M1296 469l3 -3M1300 464l-3 -2M1299 458l4 1M1304 453l-4 -2M1310 445l-3 -4M1313 439l3 3M1331 426l3 3M1338 427l-3 -4M1363 418l-5 -2M1350 430l4 1M1186 388l2 -3M1184 383l-4 0M1175 376l-3 4M1152 384l4 2M1143 396l-3 -2M1168 449l2 4M1172 424l-5 0M1226 411l3 5M1214 424l-4 -3M1202 429l0 -5M1190 427l1 -5M1187 422l-1 4M1172 417l2 -3M1167 413l-2 6M1230 467l-6 2M1233 446l-4 -3M1412 387l-1 -5M1210 410l-1 5M1191 399l-2 3M1179 399l1 4M1234 706l-2 -5M1240 702l1 6M1251 705l-1 5M1252 711l2 -3M1258 714l-4 4M1206 598l-1 -3M1209 592l3 2M1218 587l1 4M1229 582l4 3M1240 580l2 5M1248 573l5 3M1255 573l-2 -4M1257 568l3 2M1261 564l-5 -2M1315 437l5 -1M1321 448l4 -3M1327 449l-2 4M1332 454l2 -5M1337 449l1 5M1341 453l2 -4M1347 453l-1 5M1232 374l-1 -4M1244 375l1 -5M1250 372l1 6M1255 375l1 -4M1271 392l3 -4M1276 392l-1 4M1201 532l1 -4M1208 539l3 -4M1221 548l-3 3M1220 555l5 -2M1224 562l4 0M1222 578l-5 0M1474 593l2 -5M1186 570l4 2M1185 576l-3 -2M1389 721l5 1M1384 737l-2 -3M1373 743l-1 -4M1354 733l2 -4M1348 731l1 4M1343 735l0 -5M1302 649l-4 -2M1302 642l3 4M1308 644l-1 -3M1314 641l1 5M1302 408l-1 5M1274 368l-3 -3M1269 371l2 3M1285 400l3 -3M1301 405l-4 3M1022 436l-5 -2M1023 430l2 3M1029 427l-3 -3M1038 420l-2 -4M1045 418l1 -3M1064 407l-4 -2M1084 546l4 3M1061 565l-3 -3M1375 650l4 -2M1381 651l-2 4M1410 665l-2 3M1412 671l4 -3M1260 462l-4 1M1257 468l5 -1M1238 477l-1 -4M1227 473l3 -3M1219 463l4 -3M1096 484l-3 -4M1099 474l-3 -3M1099 458l4 0M1102 452l-5 0M1088 576l4 1M1085 587l5 1M1087 594l-5 -1M1089 605l-4 1M1088 615l-5 -1M1084 619l5 1M1086 625l-5 -1M1088 633l-4 2M1140 539l-4 2M1134 530l-5 2M1130 525l4 -2M1127 514l4 -1M1262 469l4 -3M1268 472l-4 3M1261 483l-2 -3M1252 489l-3 -3M1208 400l2 4M1214 403l-1 -5M1224 402l1 -5M1184 425l-5 2M1183 431l4 -3M1159 616l-3 -3M1177 608l1 -4M1179 603l4 3M1184 604l-1 -4M1281 692l-4 -1M1282 675l4 2M1290 658l-5 -1M1288 651l6 1M1326 419l-1 -5M1326 413l3 3M1328 394l5 0M1335 379l-3 -2M1300 379l4 0M1304 389l3 -2"/>
<path id="p25" d="M1310 390l-3 3M1314 406l3 -2M1315 418l3 1M1311 427l4 1M1313 434l-5 -1M1191 691l1 -4M1188 685l-3 4M1177 681l-2 4M1172 684l-1 -4M1254 485l-3 2M1251 480l5 -1M1245 474l2 -4M1240 470l-1 4M1227 460l4 -2M1223 450l3 -2M1221 437l5 0M1358 606l0 -4M1340 653l-4 3M1334 651l4 -5M1318 620l4 1M1316 600l-5 0M1310 600l2 -4M1307 595l-1 4M1301 595l2 -4M1280 595l-2 4M1274 597l1 -5M1272 673l1 4M1267 677l-1 -5M1261 678l2 4M1258 684l-3 -5M1241 684l-2 5M1214 689l-4 -3M1207 692l4 3M1259 610l0 4M1249 624l-4 -1M1244 626l2 4M1082 502l-2 -3M1081 496l5 1M1087 481l-3 -1M1076 474l-1 5M1056 479l-2 3M1280 560l-5 1M1273 560l2 -4M1270 555l-2 4M1259 554l1 3M1255 558l-2 -3M1248 557l2 4M1247 564l-4 -1M1229 674l-5 0M1227 681l4 -1M1228 699l-4 -2M1225 704l5 1M1322 606l-2 -4M1313 611l-3 -4M1307 610l2 4M1302 614l-2 -5M1295 610l0 6M1372 554l-3 2M1366 553l2 -5M1363 549l-3 3M1351 545l0 5M1204 451l-2 -4M1197 458l-5 -2M1179 470l-3 -2M1173 469l2 5M1158 475l0 -3M1325 457l5 1M1331 457l-2 -3M1332 451l5 1M1342 440l-2 -4M1233 427l-4 3M1227 426l3 -4M1113 527l0 -5M1123 523l0 -4M1128 519l2 4M1418 438l2 4M1425 430l5 1M1246 438l-4 2M1232 431l3 -3M1230 424l-2 5M1223 425l1 -5M1220 419l-3 3M1076 417l4 4M1216 329l3 -5M1207 322l1 -5"/>
</defs>
<g stroke="#066a6a" stroke-width="2.7" stroke-linecap="round" stroke-linejoin="round" fill="none">
<use href="#p1"/>
<use href="#p2"/>
<use href="#p3"/>
<use href="#p4"/>
<use href="#p5"/>
<use href="#p6"/>
<use href="#p7"/>
<use href="#p8"/>
<use href="#p9"/>
<use href="#p10"/>
<use href="#p11"/>
<use href="#p12"/>
<use href="#p13"/>
<use href="#p14"/>
<use href="#p15"/>
<use href="#p16"/>
<use href="#p17"/>
<use href="#p18"/>
<use href="#p19"/>
<use href="#p20"/>
<use href="#p21"/>
<use href="#p22"/>
<use href="#p23"/>
<use href="#p24"/>
<use href="#p25"/>
</g>
<g stroke="#0ea2a2" stroke-width="1.5000000000000002" stroke-linecap="round" stroke-linejoin="round" fill="none">
<use href="#p1"/>
<use href="#p2"/>
<use href="#p3"/>
<use href="#p4"/>
<use href="#p5"/>
<use href="#p6"/>
<use href="#p7"/>
<use href="#p8"/>
<use href="#p9"/>
<use href="#p10"/>
<use href="#p11"/>
<use href="#p12"/>
<use href="#p13"/>
<use href="#p14"/>
<use href="#p15"/>
<use href="#p16"/>
<use href="#p17"/>
<use href="#p18"/>
<use href="#p19"/>
<use href="#p20"/>
<use href="#p21"/>
<use href="#p22"/>
<use href="#p23"/>
<use href="#p24"/>
<use href="#p25"/>
</g>
<g stroke="#e31a1a" stroke-width="2.2" stroke-linecap="round" fill="none">
<path d="M1251 404l-2 1M1386 727l3 0M1404 719l0 2M1382 624l0 2M1397 618l-2 -2M1409 606l2 1M1303 652l2 1M1162 539l-1 3M1067 563l3 0M1376 590l1 2M1395 596l-1 3M1213 377l0 3M1067 482l2 1M1391 480l0 2M1419 502l2 -1M1422 502l0 2M1120 425l2 2M1117 429l-3 0M1236 439l-1 -1M1259 443l2 -2M1271 517l1 2M1116 583l2 1M1241 411l-2 0M1180 552l0 2M1066 484l-2 0M1249 666l-2 -2M1266 661l4 1M1225 435l2 -1M1189 393l2 -2M1440 626l-1 -1M1485 626l-1 2M1209 594l3 0M1417 600l1 3M1321 631l3 0M1368 423l1 1M1341 444l-1 -2M1324 456l-3 0M1356 488l-2 -1M1365 483l0 -2M1053 544l-1 4M1291 525l-2 1M1282 523l0 2M1272 515l-2 0M1270 511l2 -1M1067 477l-2 0M1055 505l-3 0M1294 593l2 2M1301 596l-1 2M1144 458l1 -2M1327 429l2 -3M1324 422l1 -2M1307 416l-4 -1M1282 579l0 -3M1108 609l-1 1M1406 471l2 2M1383 518l-2 -1M1373 529l1 1M1306 727l-1 2M1291 722l0 -2M1221 473l-4 0M1210 480l-2 2M1330 427l3 -1M1225 719l-1 2M1211 521l-1 -3M1129 418l-3 0M1114 403l-2 2M1279 586l-2 1M1439 580l1 -1M1254 493l-2 -2M1253 490l2 -2M1247 481l2 -1M1290 491l0 -3M1293 488l3 0M1296 475l-2 0M1297 454l-2 1M1174 400l1 -2M1099 492l-3 0M1101 480l-2 0M1111 457l0 2M1270 408l-1 -2M1199 581l-2 -1M1180 591l-1 -1M1174 600l-2 -2M1312 423l2 -1M1406 598l-3 -1M1406 600l-2 2M1441 558l1 -2M1436 552l-3 -2M1413 513l1 -2M1208 679l-1 -1M1232 657l-1 -2M1262 625l1 2M1277 629l1 2M1284 652l-2 0M1422 598l-1 0M1255 469l-1 1M1244 464l-2 2M1228 459l0 -2M1207 451l2 0M1391 612l0 3M1365 530l-2 -2M1367 527l2 0M1162 422l-2 -1M1165 389l-2 -1M1292 472l-1 -1M1118 462l1 2M1130 442l-2 -1M1136 432l-2 0M1396 597l2 -2M1404 595l0 -2M1204 413l1 3M1209 411l0 -2M1277 681l-2 -2M1075 462l-1 -1M1065 471l-2 -1M1040 467l-2 1M1428 562l0 2M1407 590l-2 0M1407 592l-2 3M1404 655l2 0M1301 597l-2 1M1318 614l-1 1M1323 617l2 -1M1306 478l-2 -1M1414 605l-1 -2M1197 525l1 -2M1185 501l-2 1M1327 625l-2 0M1322 616l-2 1M1422 632l1 -3M1435 641l-1 2M1447 639l0 2M1416 489l2 -1M1422 496l1 3M1322 700l-2 1M1323 702l-1 4M1323 723l-2 0M1270 404l2 -1M1151 483l0 2M1159 490l-3 2M1121 462l1 -4M1303 658l0 2M1369 594l-2 3M1366 595l-1 -3M1364 597l-4 0M1348 598l0 3M1236 503l3 2M1290 579l2 0M1085 517l-2 1M1078 498l0 2"/>
<path d="M1061 490l-1 -3M1448 629l-2 -3M1312 515l1 -1M1200 364l-2 1M1197 348l2 1M1461 562l-2 1M1407 623l3 -1M1433 580l-2 2M1365 676l-2 1M1347 713l-1 3M1344 714l-1 -2M1265 497l-1 -2M1083 495l2 1M1321 624l-2 -3M1277 645l2 0M1246 637l2 -2M1244 646l-2 1M1340 727l1 -2M1206 415l-1 -2M1190 450l-2 3M1263 449l0 2M1175 434l1 2M1168 434l-1 -2M1307 551l1 -3M1112 432l-1 -3M1137 697l-1 -2M1107 532l-3 1M1212 668l4 -1M1267 436l3 0M1267 420l-3 -1M1042 501l-2 0M1094 626l-1 -2M1099 617l-1 -2M1142 517l4 1M1149 521l1 -2M1172 540l2 -2M1245 353l2 -2M1243 346l-2 -2M1236 329l-2 1M1167 488l-1 2M1173 488l0 -2M1183 496l1 -2M1170 542l2 1M1437 580l-2 0M1169 450l3 -1M1260 639l2 0M1240 593l0 -3M1237 599l2 2M1022 435l2 1M1018 446l2 0M1245 616l2 -1M1193 375l2 -1M1424 554l-1 -1M1394 532l-2 1M1236 409l-1 3M1292 431l2 1M1292 436l-2 1M1216 417l2 2M1246 638l0 -3M1194 610l-2 -1M1371 707l-2 1M1373 712l2 0M1414 649l-3 0M1203 658l2 0M1335 672l0 2M1070 486l-1 -2M1197 422l-1 -2M1300 566l-2 -4M1273 531l2 -1M1355 414l3 -1M1313 667l3 2M1081 533l1 2M1087 523l2 0M1368 676l-2 -1M1271 604l-2 0M1233 483l-2 1M1151 589l-2 1M1134 572l-4 0M1182 389l-2 0M1165 471l0 -2M1099 456l-2 0M1103 459l1 -1M1125 468l0 -3M1129 470l0 2M1244 352l-1 2M1215 324l-1 2M1338 718l1 -2M1301 639l-2 -2M1286 420l2 -2M1368 463l-2 2M1160 534l1 -3M1182 530l1 -2M1188 532l-1 3M1168 542l2 -1M1174 535l3 0M1201 541l2 0M1274 379l-2 1M1112 659l2 1M1130 655l2 -2M1105 630l-2 1M1268 638l2 -1M1202 672l1 2M1197 679l2 1M1187 713l2 2M1288 676l2 3M1216 337l2 2M1225 336l1 3M1209 672l2 0M1243 641l-1 -2M1315 733l0 2M1329 747l3 1M1351 565l-1 -2M1358 564l1 3M1198 542l1 -2M1219 536l0 -3M1222 534l1 3M1452 561l1 -1M1346 453l2 0M1436 464l0 2M1298 621l-1 2M1317 630l-2 2M1230 567l1 3M1406 579l2 -1M1409 585l-2 2M1416 590l3 1M1413 674l-1 1M1416 692l-2 1M1419 697l2 0M1431 565l2 3M1441 573l-1 2M1335 676l-2 -1M1346 662l2 -1M1347 659l-2 0M1358 642l2 -2M1213 596l-2 0M1217 608l-1 3M1358 643l-3 1M1191 604l-1 2M1382 562l1 2M1318 545l2 -1M1323 557l2 -1M1334 598l2 1M1036 516l-1 -2M1031 520l1 2M1193 428l-3 -1M1192 435l3 1M1263 481l1 2M1234 320l1 2M1105 454l2 -1M1472 598l0 -2"/>
<path d="M1386 423l2 -1M1168 552l1 -2M1287 431l-1 2M1386 702l2 -1M1354 700l-1 -2M1135 390l1 2M1127 415l2 -1M1056 549l1 -2M1141 694l-2 2M1175 427l-3 0M1144 417l0 2M1110 440l2 0M1167 659l2 0M1235 418l0 -2M1188 642l0 -2M1186 644l-3 -2M1183 645l0 2M1199 516l3 0M1401 693l-2 1M1433 668l2 2M1250 473l1 -3M1236 460l-2 2M1235 434l-2 0M1182 544l0 -2M1200 523l-1 -2M1310 531l0 2M1327 537l1 -2M1336 541l3 1M1252 592l1 -2M1246 591l0 3M1226 610l2 1M1381 668l-1 2M1208 667l-2 0M1201 680l1 2M1295 704l1 -3M1274 694l1 -2M1207 378l-2 1M1194 370l1 -2M1180 369l-4 -1M1394 614l1 2M1454 680l-3 0M1428 699l-1 -2M1308 495l3 1M1200 352l-2 -1M1206 350l1 2M1210 340l2 1M1186 482l2 2M1222 484l0 -2M1230 487l2 -1M1277 373l2 0M1266 396l2 1M1259 406l1 2M1268 419l-1 3M1234 547l1 3M1297 444l3 1M1126 407l1 2M1222 414l-3 -1M1218 404l-2 0M1089 544l2 0M1356 607l-2 0M1334 623l1 3M1319 628l-1 -2M1296 623l2 -1M1296 649l3 2M1294 659l2 0M1262 480l-1 0M1150 515l-2 -2M1448 662l-3 -1M1446 663l1 2M1441 666l-2 -2M1165 543l1 -2M1147 531l0 -2M1140 530l0 2M1131 529l0 2M1124 526l1 -2M1241 586l2 -2M1178 424l1 3M1059 415l-1 -3M1432 544l-1 -3M1424 555l-3 -1M1423 560l2 0M1277 446l-2 1M1376 515l-2 1M1136 391l-1 -2M1158 383l-1 -3M1092 402l3 -1M1101 383l3 0M1336 430l0 3M1341 437l-2 1M1113 508l3 0M1143 508l1 2M1284 505l2 -2M1285 492l-2 0M1306 618l-2 1M1184 486l2 1M1185 491l-3 1M1188 654l-3 0M1178 627l2 0M1059 478l-3 -1M1351 700l2 2M1354 698l-1 -3M1367 689l1 1M1363 681l-2 1M1315 391l-2 1M1356 723l-1 2M1271 363l2 -2M1264 638l0 -3M1323 642l1 -3M1172 494l1 3M1163 519l2 3M1122 405l3 0M1121 403l1 -3M1127 389l-2 -2M1261 348l-2 -1M1254 537l3 1M1270 520l1 2M1273 513l-1 -2M1280 506l-1 -2M1086 403l1 -2M1141 569l-2 -1M1091 598l0 2M1125 518l0 3M1130 528l0 1M1398 449l-2 1M1329 742l-2 1M1117 564l0 2M1350 656l-3 0M1351 634l-2 -1M1354 616l2 -2M1351 597l0 -3M1240 392l2 0M1249 375l2 1M1169 494l0 -3M1164 477l-2 2M1156 675l0 2M1056 484l-1 -2M1121 544l1 -3M1113 544l-1 -2M1418 632l-2 2M1338 588l2 1M1360 595l1 -2M1170 537l1 -2M1368 691l-1 3M1379 689l0 2M1397 687l0 -3M1109 431l-2 3M1245 569l-2 -1M1176 576l0 2M1140 589l-3 -1M1126 603l-1 -2"/>
<path d="M1304 652l2 2M1104 522l-2 1M1131 531l0 -2M1345 662l-2 0M1138 616l3 0M1196 575l-2 3M1195 583l-3 0M1224 455l2 1M1214 467l-2 0M1336 643l-3 -1M1389 646l1 3M1422 663l0 3M1097 452l-2 -1M1109 384l3 0M1084 398l-3 0M1150 446l-1 2M1139 452l-1 3M1428 475l0 -3M1181 539l2 -1M1174 532l2 -1M1147 539l2 2M1232 639l2 -2M1444 627l-2 1M1081 406l-1 -1M1183 485l2 3M1233 334l-2 1M1235 346l-1 2M1347 485l-1 3M1319 466l-1 2M1180 604l1 -2M1387 430l-2 0M1142 417l1 2M1135 419l-1 -3M1129 420l-3 1M1118 419l-2 2M1313 410l-3 1M1127 464l0 -3M1423 514l-2 1M1421 509l1 -2M1415 506l-1 1M1414 500l2 -1M1282 345l-2 1M1242 332l0 -2M1238 330l-2 1M1245 698l-1 2M1241 695l1 -2M1319 395l-2 0M1152 583l2 -1M1262 594l1 2M1278 595l0 -3M1231 374l3 1M1231 376l2 2M1228 403l-2 -1M1145 512l2 1M1293 549l-1 2M1108 500l-2 0M1095 434l1 2M1157 436l3 0M1171 395l-2 -2M1232 446l-1 2M1167 469l2 -2M1425 515l-2 0M1231 384l0 -3M1266 701l2 2M1447 557l1 3M1250 479l3 -2M1269 488l1 -2M1282 496l-1 2M1021 451l1 -2M1446 583l-2 -1M1040 499l3 1M1301 582l-1 2M1318 621l0 -1M1323 623l0 1M1128 548l-2 -2M1142 526l1 2M1156 515l0 -2M1286 451l-2 0M1205 713l-2 0M1275 511l0 -3M1272 511l-3 -2M1269 511l0 3M1249 512l0 3M1206 365l-1 -4M1329 585l3 0M1255 697l1 2M1257 691l-1 -2M1271 672l-1 -1M1345 454l0 -3M1242 578l2 0M1243 557l3 1M1258 700l-1 2M1258 719l-3 0M1257 326l2 1M1262 336l4 1M1264 601l2 -2M1455 614l-2 1M1436 606l-1 2M1211 520l-2 -1M1224 490l-2 -1M1136 677l-1 -2M1408 698l0 -2M1393 691l-2 -2M1248 498l2 1M1125 524l2 -1M1403 635l-2 1M1400 630l1 -2M1371 614l1 -3M1250 662l-3 -1M1223 396l-2 0M1233 346l3 -1M1274 670l-3 0M1416 468l-2 -3M1226 390l-1 2M1338 718l1 2M1171 700l1 -2M1302 462l1 -3M1305 460l2 1M1306 458l3 0M1076 490l-1 3M1139 385l-3 1M1355 427l3 1M1387 462l-2 2M1350 521l-2 -1M1353 490l-2 1M1125 495l-3 -1M1220 618l-1 -3M1060 502l-1 0M1066 526l2 0M1173 562l1 2M1221 573l-1 -3M1334 609l-1 3M1336 618l-1 1M1102 604l0 2M1128 484l-2 0M1240 490l-2 -3M1222 482l0 -3M1398 453l2 2M1267 346l-2 2M1347 593l2 -1M1470 652l-2 0M1487 662l1 -1M1247 672l-2 -1M1392 706l-3 1M1215 685l3 -1M1310 644l1 2M1314 642l-1 -2M1183 488l-2 0M1170 479l0 -2M1298 457l2 0"/>
<path d="M1294 476l-2 1M1224 333l0 -2M1268 339l-2 -3M1064 486l0 3M1071 541l2 -1M1077 542l0 2M1099 571l-2 2M1172 602l2 1M1350 601l1 2M1358 567l2 0M1211 382l-2 2M1207 390l3 1M1206 395l-2 1M1206 397l-2 2M1202 404l-2 -1M1192 409l-1 -1M1185 411l-2 1M1235 522l-2 1M1353 570l0 3M1377 577l1 -2M1266 612l-2 -2M1301 692l-2 1M1202 521l0 2M1176 501l1 3M1179 502l1 -1M1186 505l1 -1M1201 508l0 2M1407 553l-2 0M1407 555l-2 1M1403 584l-2 1M1351 577l2 3M1249 631l3 2M1252 630l1 -2M1263 621l2 1M1370 631l0 -2M1319 637l-2 -1M1257 447l0 3M1243 447l-3 3M1263 445l-2 1M1294 575l-2 1M1372 420l-1 3M1335 593l-3 0M1423 596l2 -3M1367 416l2 0M1283 415l-2 -1M1226 374l0 2M1198 505l-1 3M1345 461l-1 2M1326 457l-1 2M1371 536l1 2M1324 439l3 1M1204 692l0 2M1205 416l1 -1M1213 418l4 1M1399 594l-2 -2M1095 452l0 2M1070 446l1 -1M1047 445l1 -2M1255 489l-3 -1M1278 510l1 -2M1269 647l1 2M1272 639l0 -4M1274 636l2 0M1191 433l-3 0M1215 605l-1 -2M1215 612l3 0M1239 525l0 2M1233 523l0 -1M1184 565l-1 -2M1258 660l2 -1M1161 448l2 0M1325 463l-1 -1M1211 543l-2 1M1213 551l2 2M1427 507l2 2M1205 399l-1 1M1196 362l3 0M1218 432l2 2M1230 423l0 -2M1237 424l1 2M1116 667l2 -2M1466 599l-2 0M1462 593l0 -3M1397 649l2 -1M1389 669l2 2M1395 696l-3 1M1406 641l3 0M1395 667l-2 -2M1232 433l-1 2M1358 579l-2 0M1435 615l2 1M1241 643l0 2M1073 378l-2 -3M1234 480l0 2M1353 595l-1 2M1393 575l-2 -1M1240 449l2 -2M1180 649l-2 1M1200 664l1 2M1214 666l0 -3M1221 660l0 -1M1228 662l0 2M1092 439l-1 -3M1104 436l3 -2M1286 541l2 2M1189 636l-1 -2M1180 637l0 -3M1280 498l2 2M1288 490l2 1M1221 639l-1 -2M1396 535l2 1M1078 384l1 -3M1062 494l-2 2M1059 491l1 -2M1414 457l3 1M1389 549l2 1M1224 635l1 3M1300 484l-2 2M1298 467l1 -1M1302 452l-2 -1M1352 430l2 1M1173 378l-1 2M1227 414l2 2M1202 427l0 -3M1173 415l1 -1M1230 706l4 0M1240 705l1 3M1218 589l1 2M1251 575l2 1M1258 569l2 1M1312 429l3 2M1318 437l2 -1M1323 447l2 -2M1333 451l1 -2M1256 373l0 -2M1226 562l2 0M1184 575l-2 -1M1391 721l3 1M1349 733l0 2M1315 644l0 2M1088 545l-4 1M1078 552l-3 0M1377 649l2 -1M1409 667l-1 1M1087 606l-2 0M1086 614l-3 0M1083 624l-2 0M1086 634l-2 1M1132 524l2 -1M1266 474l-2 1"/>
<path d="M1260 481l-1 -1M1251 487l-2 -1M1209 402l1 2M1213 400l0 -2M1185 429l2 -1M1184 602l-1 -2M1284 676l2 1M1331 394l2 0M1309 392l-2 1M1310 434l-2 -1M1184 685l-3 0M1246 472l1 -2M1240 472l-1 2M1229 459l2 -1M1338 600l-3 0M1314 600l-3 0M1273 675l0 2M1249 685l-3 2M1247 623l-2 0M1245 628l1 2M1254 557l-1 -2M1249 559l1 2M1245 563l-2 0M1226 698l-2 -1M1361 551l-1 1M1171 471l-2 2M1330 456l-1 -2M1113 524l0 -2M1419 440l1 2M1229 427l-1 2M1215 326l-1 -3M1208 320l0 -3"/>
</g>
<g stroke="#1f1fd6" stroke-width="2.2" stroke-linecap="round" fill="none">
<path d="M1284 399l1 3M1405 720l2 3M1164 540l1 3M1068 537l-3 3M1228 374l-3 -2M1227 464l1 -3M1235 448l-3 1M1273 561l0 3M1232 443l1 3M1289 544l-4 0M1238 675l3 0M1262 663l1 -2M1269 659l0 -3M1439 627l3 -1M1216 598l2 -2M1318 639l2 -1M1340 445l-3 -1M1381 469l-1 -1M1084 412l-1 3M1295 536l-2 1M1290 524l-3 0M1262 502l0 -3M1068 475l1 3M1063 483l0 2M1062 485l-2 0M1060 496l-3 1M1303 597l2 2M1325 600l2 3M1347 623l0 2M1144 470l0 3M1132 480l-2 -1M1324 448l-2 0M1299 407l-3 -1M1294 404l-2 -3M1260 565l2 2M1123 627l1 -4M1115 618l-2 1M1103 608l0 -3M1395 508l0 3M1380 520l1 2M1294 723l-3 1M1216 692l0 4M1219 700l-1 1M1230 520l2 2M1219 337l-3 2M1298 604l-2 -3M1478 619l-3 1M1469 617l-1 2M1441 588l1 -2M1440 587l1 -3M1300 464l-1 -1M1165 401l3 -2M1114 457l-2 -2M1104 461l0 3M1179 597l2 1M1172 604l-2 1M1307 420l-2 1M1403 606l0 4M1425 528l0 -4M1426 613l2 0M1352 549l0 -2M1162 397l-1 -4M1042 507l-1 3M1291 474l2 0M1218 726l-2 2M1283 690l4 0M1280 674l3 -2M1089 445l2 3M1054 474l-3 -2M1266 541l-3 2M1422 564l-3 0M1415 568l-2 -3M1218 681l-3 -2M1200 680l-3 2M1286 514l0 -2M1297 500l2 -3M1194 520l-2 0M1324 618l0 -3M1310 593l-3 -1M1405 474l2 2M1411 487l-1 1M1418 492l3 1M1321 696l3 3M1267 402l1 3M1271 439l2 3M1126 473l0 -3M1114 534l3 0M1070 492l-3 -2M1054 493l1 2M1184 597l2 3M1447 549l2 3M1398 607l2 1M1365 666l-2 0M1246 674l1 2M1230 679l-1 3M1267 520l3 0M1318 536l-4 0M1185 424l-3 2M1166 437l-3 0M1323 556l-4 0M1094 448l2 -3M1042 503l-1 -3M1037 501l-3 1M1032 500l-1 -3M1267 440l-2 -3M1266 428l-2 -3M1483 658l-2 3M1044 497l1 3M1043 502l-2 2M1181 494l1 3M1442 596l3 0M1164 460l3 -2M1410 664l3 -1M1247 568l3 2M1249 608l2 1M1240 617l2 2M1283 718l-1 3M1284 722l3 0M1242 612l2 2M1246 617l1 4M1260 640l2 2M1263 575l-2 1M1250 588l-1 -2M1031 425l-3 0M1020 437l0 3M1251 622l-1 -3M1232 430l3 0M1242 430l1 -3M1162 621l-2 0M1145 634l-2 1M1143 643l-3 2M1140 648l0 3M1248 639l2 -3M1253 636l4 0M1290 564l-3 -3M1205 443l2 4M1204 446l-2 0M1202 474l2 1M1163 643l-1 -3M1214 601l-3 0M1065 426l-3 -2M1372 710l-1 2M1362 447l-2 2M1358 447l-3 -2M1331 443l-3 1M1291 462l0 -3M1304 517l2 -3M1296 446l-2 -3M1055 508l-3 2M1203 421l2 1"/>
<path d="M1199 422l-2 2M1357 451l-2 -2M1355 403l3 -1M1316 677l1 3M1195 446l-3 0M1267 565l3 -2M1332 413l2 2M1154 591l-1 -3M1083 432l2 3M1225 344l-1 2M1219 337l-2 2M1344 734l-3 1M1357 745l3 0M1295 651l-2 0M1317 669l3 -1M1290 406l-2 1M1078 379l-3 -2M1228 519l-2 0M1229 522l-1 3M1448 551l2 -1M1374 429l-2 -1M1367 469l-1 3M1362 475l1 2M1174 531l3 -2M1185 529l3 2M1276 389l-2 0M1265 365l2 -2M1132 641l-1 -1M1108 667l-2 3M1223 380l1 3M1065 532l-3 0M1287 653l3 0M1196 682l1 3M1293 679l3 0M1174 555l0 2M1197 563l3 1M1343 569l3 -2M1208 539l-1 -2M1214 537l1 3M1300 494l2 1M1296 619l2 0M1424 597l4 0M1332 686l-2 0M1333 683l-2 -2M1357 629l-2 0M1214 603l-2 -2M1210 603l-2 3M1180 603l-1 3M1399 554l-2 2M1391 557l1 2M1318 553l-3 0M1325 564l0 3M1056 504l-2 2M1190 441l-3 0M1221 370l-2 2M1100 450l-2 1M1097 443l1 -3M1281 468l4 -1M1166 551l0 3M1278 438l0 3M1258 400l1 3M1387 704l4 1M1127 419l1 2M1072 559l-1 -3M1050 548l-1 2M1174 426l-3 -1M1252 629l2 3M1166 662l2 2M1219 661l-1 -3M1217 660l-2 2M1208 645l2 -2M1203 513l0 -3M1240 501l0 -3M1451 641l2 2M1271 600l-3 -2M1376 664l2 -2M1359 653l-3 -1M1209 659l-1 2M1287 703l-3 1M1191 370l-3 -2M1273 613l0 -3M1291 622l1 3M1295 624l3 -1M1445 687l-3 1M1226 484l2 3M1369 674l2 3M1386 425l-2 0M1469 625l-1 -3M1273 382l-2 3M1261 553l3 0M1436 451l3 0M1309 462l1 3M1302 474l-2 -1M1290 477l-3 -1M1132 404l0 -3M1368 729l0 -3M1236 442l-1 -2M1224 417l1 -3M1381 553l-4 1M1376 550l-1 -3M1291 617l3 0M1297 633l0 4M1298 640l1 3M1294 651l1 3M1297 667l1 4M1156 504l1 2M1471 657l-3 -2M1228 616l0 -3M1241 589l-2 -2M1181 421l-4 1M1174 430l-3 2M1355 645l3 1M1247 520l3 -1M1423 557l-3 2M1286 451l-4 -1M1371 508l0 3M1294 432l4 1M1303 433l-1 2M1473 645l2 -3M1459 616l-2 -3M1476 603l3 0M1371 600l2 0M1141 508l2 -3M1292 485l3 -1M1181 641l-2 -3M1062 476l1 -2M1362 697l1 2M1351 663l-2 0M1354 721l3 -1M1308 410l0 -3M1310 641l0 -3M1409 414l2 -2M1402 403l-2 1M1193 481l-3 2M1273 328l-1 -2M1252 538l0 -3M1275 512l1 -3M1280 499l2 -3M1103 416l2 -2M1097 412l-2 1M1092 408l0 -3M1143 561l-2 3M1140 572l-3 2M1100 592l-2 3M1282 510l3 2M1303 483l0 -3M1331 745l0 -4M1329 739l-2 -3M1340 704l2 0M1343 690l1 -3"/>
<path d="M1115 563l-2 2M1304 583l-2 3M1351 647l3 -3M1351 637l2 -2M1181 694l-1 0M1180 693l-4 -2M1098 435l3 -1M1287 366l-2 3M1140 541l-3 1M1124 546l-3 1M1076 463l3 -1M1112 442l2 -2M1061 408l1 -3M1432 647l-2 -2M1331 588l0 -2M1124 427l-3 -2M1099 434l-3 3M1344 662l-4 0M1208 561l-1 -3M1131 640l2 3M1217 481l1 4M1340 646l-1 -3M1397 629l2 -3M1207 625l-2 -1M1378 632l2 -2M1433 662l1 3M1113 399l-2 -3M1111 393l0 -3M1165 452l-3 0M1154 479l-2 -3M1358 439l2 -2M1349 425l-3 -1M1399 492l-3 1M1169 531l-2 -2M1158 532l-2 -2M1136 537l-2 -2M1278 697l0 -2M1184 381l-2 1M1218 623l-3 -1M1433 614l-1 -3M1419 603l-4 0M1395 596l-3 2M1238 374l0 -2M1080 409l2 -1M1128 410l0 -3M1114 395l0 -3M1196 493l3 1M1234 335l-1 3M1343 477l-2 -3M1308 468l-2 2M1182 605l3 -1M1071 492l-2 -2M1134 419l-3 -1M1300 383l1 3M1324 419l2 3M1422 512l-3 -1M1280 340l2 -2M1260 334l-3 0M1255 336l-2 2M1246 334l-4 0M1324 409l1 -3M1059 479l-1 -3M1275 595l3 2M1299 593l0 -2M1306 595l1 2M1163 539l-1 -2M1158 535l-3 -1M1384 666l3 0M1229 369l-1 2M1231 394l-1 3M1141 519l-3 0M1125 457l0 -3M1096 434l2 2M1045 443l1 -1M1044 442l0 -4M1042 438l-3 0M1034 431l-3 -1M1174 443l0 -3M1261 457l-3 0M1163 467l0 2M1427 512l0 3M1398 393l0 -3M1237 375l-2 -1M1234 364l-2 1M1231 357l0 -3M1274 679l0 4M1451 552l-2 -1M1043 492l-1 -3M1305 620l1 2M1205 710l2 3M1205 716l-1 3M1267 510l-3 2M1203 363l-2 2M1209 332l3 -1M1328 590l-2 0M1326 612l-2 1M1246 705l0 -3M1249 702l3 -1M1253 698l1 -3M1347 449l2 -2M1251 596l1 0M1259 322l-3 2M1251 596l-1 1M1284 484l-2 1M1283 481l-2 -2M1145 677l3 0M1125 528l1 3M1139 547l-2 2M1392 623l2 -2M1437 613l3 3M1275 649l-2 1M1352 508l3 -1M1421 471l-3 -1M1414 467l-1 3M1148 396l-2 -3M1142 393l-3 0M1216 386l1 2M1232 391l1 -2M1340 718l3 2M1438 645l2 2M1452 654l3 2M1073 489l-4 0M1102 578l3 -3M1383 453l2 3M1351 511l-2 0M1147 533l1 3M1188 634l4 -1M1205 621l3 0M1233 581l3 -2M1054 477l-2 -2M1119 612l-1 3M1152 514l-3 -2M1132 488l2 -2M1237 490l-2 2M1197 465l-4 -1M1186 454l-1 -3M1273 346l0 -2M1361 618l2 -3M1257 715l0 -3M1245 665l1 -4M1217 656l-2 3M1389 689l2 -1M1386 681l-2 -3M1391 669l2 -2M1201 416l3 2M1293 648l-2 -2M1298 455l-2 2M1262 341l1 2M1078 542l2 3M1093 552l-1 2"/>
<path d="M1110 579l0 3M1244 486l-1 -3M1208 382l-1 -2M1234 520l3 2M1253 539l3 2M1379 580l3 1M1384 584l1 3M1142 453l-3 -1M1137 455l-2 2M1237 499l-2 3M1227 507l-1 3M1423 665l-2 3M1411 673l-2 2M1410 678l0 3M1406 689l1 2M1206 498l-3 1M1203 505l3 0M1357 546l-2 -1M1353 572l-3 2M1309 742l-2 2M1260 624l-2 -2M1302 617l2 3M1308 620l4 0M1450 510l2 1M1378 431l2 -2M1390 601l3 2M1282 410l0 -3M1218 374l3 2M1232 373l1 -2M1237 376l0 2M1189 502l3 2M1247 346l-3 0M1243 343l-2 -2M1220 537l-1 4M1203 415l-1 3M1196 431l-1 2M1169 442l1 2M1389 590l2 -3M1218 623l3 2M1257 668l-1 2M1311 473l1 2M1213 535l-1 2M1207 400l-1 -3M1194 368l-3 0M1198 349l3 -2M1212 411l-2 -1M1310 644l2 -2M1405 649l-3 2M1219 430l-2 1M1207 706l-3 1M1235 642l2 -2M1252 643l3 1M1311 697l2 -2M1237 480l-3 -2M1219 479l-3 -1M1236 421l-2 -1M1240 459l-1 3M1304 526l2 2M1292 479l1 -3M1286 444l1 -3M1301 382l-3 -2M1185 631l3 1M1392 542l3 -3M1410 502l3 -1M1198 441l0 2M1225 436l0 -3M1299 599l3 -1M1335 614l3 1M1124 605l-3 -1M1375 458l1 2M1435 459l3 2M1434 558l2 -1M1405 538l-1 -2M1225 634l2 2M1311 449l0 -3M1317 441l-1 -2M1300 461l-1 -3M1180 420l-2 -2M1228 458l1 -3M1202 407l-2 -3M1210 593l2 1M1360 458l1 3M1276 394l-1 2M1224 565l1 3M1185 584l3 1M1271 374l2 3M1030 423l2 -3M1037 418l-1 -2M1068 559l-3 1M1226 470l-2 -3M1087 584l-2 3M1088 588l2 0M1086 617l-2 2M1138 540l-2 1M1129 516l-2 -2M1264 468l2 -2M1236 497l-1 3M1184 428l-1 3M1185 439l-2 2M1181 605l2 1M1312 430l1 4M1257 499l0 -3M1366 606l-2 -2M1255 683l-3 -1M1080 505l2 -3M1073 477l-2 2M1257 556l-2 2M1227 674l-3 0M1229 680l2 0M1298 612l-3 -2M1194 459l-3 1M1320 469l-1 -2M1322 465l3 -1M1346 432l2 -2M1405 442l3 -2M1217 420l-3 1M1081 410l1 3"/>
</g><path d="M1167.2,314.5 L1174.1,315.9 L1174.9,322.9 L1168.5,325.9 L1163.7,320.7ZM1271.9,311.3 L1266.6,316 L1260.5,312.4 L1262,305.5 L1269,304.8ZM1041.3,389.3 L1042.3,382.3 L1049.3,381.1 L1052.5,387.4 L1047.6,392.4ZM1086.9,376.9 L1088.5,383.8 L1082.5,387.5 L1077.2,382.9 L1079.9,376.4ZM1113,372.3 L1119.7,374.6 L1119.6,381.6 L1112.8,383.7 L1108.8,377.9ZM1162.4,380.5 L1157.8,385.8 L1151.3,383.1 L1151.8,376.1 L1158.7,374.5ZM1312.6,364 L1318.4,368.1 L1316.3,374.8 L1309.2,374.9 L1307,368.2ZM1340.1,387 L1333.2,385.5 L1332.5,378.5 L1339,375.6 L1343.7,380.9ZM1412.2,376.3 L1412.5,383.3 L1405.9,385.8 L1401.5,380.2 L1405.4,374.4ZM1428.2,451.3 L1425.9,457.9 L1418.9,457.8 L1416.8,451 L1422.6,447ZM1441.8,472.1 L1436.9,477.2 L1430.5,474.2 L1431.4,467.2 L1438.4,465.9ZM1123.9,654.6 L1125.3,661.5 L1119.1,665 L1113.9,660.2 L1116.9,653.8ZM1135.5,682.3 L1133.1,689 L1126,688.7 L1124.1,682 L1129.9,678ZM1363.4,748.2 L1368.2,743.1 L1374.6,746.2 L1373.6,753.2 L1366.7,754.4ZM1309.1,752.2 L1307,745.4 L1312.8,741.4 L1318.4,745.7 L1316.1,752.3ZM1399.6,739.6 L1392.8,737.7 L1392.5,730.7 L1399.1,728.2 L1403.5,733.7ZM1459.4,685.8 L1466.4,686.5 L1467.9,693.4 L1461.8,697 L1456.5,692.3ZM1484,674.7 L1479.7,669.1 L1483.7,663.3 L1490.5,665.4 L1490.6,672.4ZM1175,323L1182,329L1190,326L1196,332L1203,330L1209,337L1216,335L1222,342L1230,340L1236,347" stroke="#0ea2a2" stroke-width="2.2" fill="none" stroke-linejoin="round"/><path d="M1167.2,314.5L1170.7,315.2M1271.9,311.3L1269.2,313.6M1041.3,389.3L1041.8,385.8M1086.9,376.9L1087.7,380.4M1113,372.3L1116.4,373.4M1162.4,380.5L1160.1,383.2M1312.6,364L1315.5,366M1340.1,387L1336.7,386.2M1412.2,376.3L1412.4,379.8M1428.2,451.3L1427.1,454.6M1441.8,472.1L1439.3,474.6M1123.9,654.6L1124.6,658M1135.5,682.3L1134.3,685.6M1363.4,748.2L1365.8,745.6M1309.1,752.2L1308.1,748.8M1399.6,739.6L1396.2,738.7M1459.4,685.8L1462.9,686.2M1484,674.7L1481.8,671.9" stroke="#1f1fd6" stroke-width="2.2" fill="none" stroke-linecap="round"/>
<ellipse cx="1236" cy="540" rx="46.5" ry="45.5" fill="none" stroke="#a8520c" stroke-width="9"/>
<ellipse cx="1238" cy="538" rx="45.5" ry="44.5" fill="none" stroke="#ee8a22" stroke-width="8.5"/>
<ellipse cx="1239" cy="537" rx="44" ry="43" fill="none" stroke="#f8a040" stroke-width="3"/>
<path d="M1278.5,544L1242.5,545.8M1273.1,558.7L1239.1,546.9M1262.3,570.2L1235.6,546.7M1247.9,576.8L1232.5,545.1M1231.9,577.6L1230.2,542.5M1216.8,572.3L1229.1,539.1M1205,561.7L1229.3,535.6M1198.2,547.6L1230.9,532.5M1197.5,532L1233.5,530.2M1202.9,517.3L1236.9,529.1M1213.7,505.8L1240.4,529.3M1228.1,499.2L1243.5,530.9M1244.1,498.4L1245.8,533.5M1259.2,503.7L1246.9,536.9M1271,514.3L1246.7,540.4M1277.8,528.4L1245.1,543.5" stroke="#c0600e" stroke-width="5.5" stroke-linecap="round" fill="none"/>
<path d="M1278.5,544L1242.5,545.8M1273.1,558.7L1239.1,546.9M1262.3,570.2L1235.6,546.7M1247.9,576.8L1232.5,545.1M1231.9,577.6L1230.2,542.5M1216.8,572.3L1229.1,539.1M1205,561.7L1229.3,535.6M1198.2,547.6L1230.9,532.5M1197.5,532L1233.5,530.2M1202.9,517.3L1236.9,529.1M1213.7,505.8L1240.4,529.3M1228.1,499.2L1243.5,530.9M1244.1,498.4L1245.8,533.5M1259.2,503.7L1246.9,536.9M1271,514.3L1246.7,540.4M1277.8,528.4L1245.1,543.5" stroke="#f3952e" stroke-width="3.6" stroke-linecap="round" fill="none"/>
<defs>
<path id="p26" d="M1265 481l6 0l5 -5l5 4l6 2l4 6l7 0l5 4M1242 531l6 0l4 -4l5 3l4 -4l7 1l6 -3l6 -1l-1 -5M1250 565l7 1l5 -3l4 6l6 -3l4 6l6 1l3 5M1293 510l-6 0l-4 5l-5 -3l-6 4l-6 -3l-6 2l-4 -6l-7 0M1272 482l1 -6l-6 -2l-3 -6l-7 1l-5 -2l-5 4l-6 -4l-7 1l-2 -6l-5 -4l0 -6l-6 0M1242 490l5 -3l-1 -6l6 -4l-2 -6l4 -4l-2 -5l2 -6l-6 -3l-2 -6l-5 -5l4 -5l0 -5l7 -2l2 -6M1220 512l6 -1l2 -7l7 3l7 -3l5 4l5 -2l5 5l6 -5l5 3l6 -4l7 2l2 -7l7 -1l4 -5M1255 503l0 7l3 5l-4 5l2 8l-2 6l6 3l2 6l5 3l-3 7l4 5l-6 3l-2 6M1283 508l-2 -5l-7 -3l0 -7l-5 -3l3 -6M1256 509l3 6l5 4l-4 6l-4 7l-6 3l-1 5l-5 4M1221 526l-4 -4l-6 0l-5 -5l-5 3l-6 -3l-4 5l-6 0l-1 7M1208 531l-6 -2l-1 6l-6 4l2 6l-6 4l2 7l-4 5l-1 7l-7 2l0 7l-5 3l3 6l-5 4M1258 547l0 6l4 5l-1 6l7 1l2 7M1243 487l5 4l7 -1l6 2l5 -4l5 4l6 -3l5 2l6 -3M1261 554l-5 -4l-5 3l-4 -5l-6 1l-5 -5l-5 3M1283 505l-3 -5l-6 0l0 -6l-7 -2l0 -6l-4 -4l0 -6l-2 -6l5 -4l-3 -5l5 -5l2 -6l6 0l3 -6M1236 571l-6 0l-3 5l-6 0l-1 7l-5 2l1 7l-3 6l5 5l-2 6l5 3l-2 7l6 3M1247 534l2 5l6 -2l6 5l5 -3l5 5l7 -2l6 4l6 0l2 6l7 3M1287 512l2 7l6 0l2 5l4 4l-2 6l0 7l-4 4l2 5l-4 5l0 7l-7 2l-1 7l-6 0l-3 5M1291 488l3 -5M1303 492l1 -5M1257 530l0 -4M1261 526l2 4M1268 527l1 -5M1257 566l-2 -4M1262 563l-1 4M1276 572l4 -4M1285 578l1 -4M1287 510l1 4M1266 513l0 4M1273 476l-4 2M1257 469l3 -4M1247 471l0 -5M1232 462l-2 4M1227 458l5 -2M1246 481l4 1M1252 477l-4 -3M1254 467l-4 -1M1248 453l3 -3M1246 447l-3 2M1241 442l4 -2M1245 437l-4 1M1252 430l-2 -5M1235 507l1 -6M1242 504l0 5M1252 506l-1 5M1263 506l1 6M1274 505l-1 6M1281 507l0 -5M1294 494l2 4M1258 515l-5 1M1256 528l-4 -1M1267 546l-4 3M1268 558l-5 1M1262 561l3 6M1260 567l-3 -3M1281 503l-4 3M1274 493l-4 2M1272 484l-5 0M1249 540l-3 -1M1211 522l2 -4M1206 517l-2 5M1201 520l0 -4M1185 522l2 4M1201 535l-4 -2M1188 568l-5 -4M1181 577l-4 -1M1176 580l3 2M1179 586l-4 0M1261 564l3 -2M1248 491l1 -4M1277 489l0 5M1241 549l0 -3M1231 547l1 -4M1280 500l-4 2M1274 500l0 -5M1267 492l4 -4M1263 482l3 -1M1261 470l5 -1M1266 466l-5 -3M1263 461l3 -1M1279 444l2 4M1230 571l2 4M1218 603l-4 1M1216 609l6 1M1266 539l-1 4M1271 544l2 -5M1278 542l-1 5M1284 546l0 -6M1289 519l4 -4M1297 524l3 -3M1295 545l4 3M1293 555l4 2M1285 571l-4 -2M1279 571l2 3M1276 576l-2 -3"/>
</defs>
<g stroke="#066a6a" stroke-width="2.7" stroke-linecap="round" stroke-linejoin="round" fill="none">
<use href="#p26"/>
</g>
<g stroke="#0ea2a2" stroke-width="1.5000000000000002" stroke-linecap="round" stroke-linejoin="round" fill="none">
<use href="#p26"/>
</g>
<g stroke="#e31a1a" stroke-width="2.2" stroke-linecap="round" fill="none">
<path d="M1257 528l0 -2M1265 527l3 0M1261 565l0 2M1288 512l0 2M1227 455l0 -3M1250 452l1 -2M1295 496l1 2M1266 559l-3 0M1186 566l-3 -2M1179 576l-2 0M1178 581l1 1M1252 490l3 0M1277 492l0 2M1263 465l-2 -2M1265 541l0 2M1284 543l0 -3"/>
</g>
<g stroke="#1f1fd6" stroke-width="2.2" stroke-linecap="round" fill="none">
<path d="M1245 531l3 0M1279 573l3 0M1281 514l-3 -2M1247 450l-1 -3M1254 508l3 3M1256 518l-2 2M1261 540l1 3M1282 506l-1 -3M1212 520l1 -2M1188 522l-3 0M1233 571l-3 0M1278 545l-1 2M1283 570l-2 -1"/>
</g>
<rect x="1224" y="454.9" width="85.3" height="79.9" fill="none" stroke="#000" stroke-width="8"/>
<line x1="1224" y1="454.9" x2="1541" y2="51.5" stroke="#000" stroke-width="6.5" stroke-dasharray="28.2 16.2" stroke-dashoffset="-0.9"/>
<line x1="1309.3" y1="534.5" x2="2014" y2="506" stroke="#000" stroke-width="6.8" stroke-dasharray="24.5 20.25" stroke-dashoffset="-1.15"/>
<defs><clipPath id="ic"><rect x="1541" y="52" width="472" height="452"/></clipPath></defs>
<g clip-path="url(#ic)">
<path d="M1538.5,349.5 L1541,347.9 L1544.2,345.9 L1547.9,343.5 L1551.9,340.8 L1556.4,337.9 L1561,334.9 L1565.8,331.9 L1570.5,328.9 L1575.2,326 L1579.7,323.3 L1583.8,320.9 L1587.4,318.8 L1590.8,317 L1594.1,315.4 L1597.3,313.8 L1600.4,312.3 L1603.5,311 L1606.5,309.7 L1609.5,308.4 L1612.6,307.2 L1615.6,306.1 L1618.8,304.9 L1622,303.7 L1625.3,302.5 L1628.6,301.2 L1631.7,300 L1634.8,298.9 L1637.7,297.8 L1640.6,296.8 L1643.4,295.8 L1646.3,294.9 L1649.3,294 L1652.3,293.1 L1655.6,292.3 L1659,291.6 L1662.7,290.8 L1666.7,290.1 L1671.2,289.4 L1676,288.8 L1681,288.1 L1686.2,287.5 L1691.4,287 L1696.7,286.5 L1701.9,286 L1707,285.6 L1711.8,285.3 L1716.4,285 L1720.6,284.8 L1724.5,284.6 L1728,284.5 L1731.1,284.4 L1734,284.3 L1736.7,284.3 L1739.3,284.4 L1741.9,284.5 L1744.6,284.7 L1747.5,285 L1750.6,285.3 L1754,285.8 L1757.8,286.3 L1762,286.9 L1766.5,287.7 L1771.2,288.5 L1776.1,289.4 L1781.2,290.4 L1786.4,291.5 L1791.6,292.6 L1796.7,293.8 L1801.9,295 L1806.8,296.2 L1811.6,297.4 L1816.2,298.6 L1820.7,299.9 L1825.1,301.1 L1829.5,302.4 L1833.7,303.7 L1837.9,305 L1842,306.4 L1845.9,307.7 L1849.7,309.1 L1853.4,310.6 L1856.9,312.1 L1860.3,313.6 L1863.5,315.2 L1866.6,316.9 L1869.6,318.7 L1872.5,320.4 L1875.3,322.3 L1878,324.2 L1880.6,326.2 L1883.1,328.2 L1885.6,330.3 L1888.1,332.5 L1890.5,334.7 L1892.9,337 L1895.2,339.4 L1897.5,341.7 L1899.6,344.1 L1901.6,346.5 L1903.7,349.1 L1905.6,351.7 L1907.6,354.3 L1909.5,357.1 L1911.3,359.9 L1913.2,362.7 L1915,365.6 L1916.8,368.6 L1918.5,371.5 L1920.2,374.5 L1921.8,377.4 L1923.3,380.5 L1924.9,383.6 L1926.4,386.8 L1927.8,390 L1929.3,393.2 L1930.7,396.4 L1932,399.7 L1933.3,403 L1934.6,406.3 L1935.9,409.5 L1937.1,412.7 L1938.2,415.9 L1939.4,419.2 L1940.5,422.4 L1941.5,425.7 L1942.5,428.9 L1943.5,432.2 L1944.4,435.4 L1945.3,438.6 L1946.1,441.8 L1947,444.9 L1947.7,447.9 L1948.4,450.9 L1949.1,453.8 L1949.7,456.6 L1950.3,459.4 L1950.8,462.1 L1951.3,464.9 L1951.8,467.6 L1952.2,470.3 L1952.7,473 L1953,475.8 L1953.4,478.6 L1953.8,481.3 L1954.1,484.2 L1954.4,487.2 L1954.6,490.4 L1954.9,493.7 L1955.1,497 L1955.2,500.2 L1955.4,503.4 L1955.5,506.4 L1955.7,509.2 L1955.8,511.7 L1955.9,513.8 L1956,515.6 L1980,514.4 L1979.9,512.8 L1979.9,510.7 L1979.8,508.3 L1979.7,505.5 L1979.6,502.4 L1979.5,499.1 L1979.4,495.7 L1979.2,492.3 L1979,488.8 L1978.8,485.3 L1978.5,481.9 L1978.2,478.7 L1977.9,475.6 L1977.6,472.6 L1977.2,469.7 L1976.8,466.7 L1976.4,463.7 L1975.9,460.8 L1975.4,457.7 L1974.9,454.7 L1974.3,451.6 L1973.7,448.5 L1973,445.3 L1972.3,442.1 L1971.5,438.8 L1970.7,435.5 L1969.8,432.1 L1968.9,428.7 L1968,425.2 L1967,421.7 L1966,418.2 L1964.9,414.6 L1963.8,411.1 L1962.6,407.5 L1961.4,404 L1960.1,400.5 L1958.8,397 L1957.5,393.6 L1956.2,390 L1954.7,386.5 L1953.3,383 L1951.8,379.4 L1950.2,375.9 L1948.6,372.3 L1946.9,368.8 L1945.2,365.3 L1943.4,361.8 L1941.5,358.5 L1939.6,355.2 L1937.7,351.9 L1935.8,348.7 L1933.8,345.5 L1931.7,342.2 L1929.5,339 L1927.3,335.9 L1925,332.7 L1922.6,329.6 L1920.1,326.5 L1917.5,323.5 L1914.8,320.6 L1912.1,317.8 L1909.3,315.1 L1906.5,312.4 L1903.6,309.8 L1900.6,307.2 L1897.5,304.7 L1894.3,302.2 L1891,299.8 L1887.6,297.4 L1884,295.1 L1880.3,292.9 L1876.5,290.8 L1872.5,288.7 L1868.4,286.7 L1864.2,284.9 L1859.9,283.2 L1855.5,281.5 L1851.1,279.9 L1846.7,278.4 L1842.2,276.9 L1837.6,275.5 L1833.1,274.1 L1828.5,272.7 L1823.8,271.4 L1819,270 L1813.9,268.7 L1808.6,267.3 L1803.3,266 L1797.8,264.7 L1792.4,263.5 L1787,262.3 L1781.7,261.2 L1776.5,260.2 L1771.5,259.3 L1766.7,258.4 L1762.2,257.7 L1758,257.1 L1754.2,256.5 L1750.7,256.1 L1747.2,255.7 L1743.9,255.4 L1740.7,255.2 L1737.4,255.1 L1734.1,255 L1730.8,255 L1727.2,255 L1723.5,255.1 L1719.4,255.2 L1714.9,255.4 L1710,255.7 L1704.9,256 L1699.6,256.4 L1694.1,256.8 L1688.6,257.3 L1683,257.8 L1677.5,258.4 L1672.2,259 L1667,259.7 L1662,260.4 L1657.3,261.2 L1652.9,262 L1648.8,262.8 L1644.9,263.8 L1641.1,264.7 L1637.5,265.8 L1634.1,266.8 L1630.7,267.9 L1627.5,269 L1624.3,270.1 L1621.2,271.2 L1618,272.4 L1614.7,273.5 L1611.4,274.7 L1608.1,275.9 L1604.8,277.1 L1601.5,278.3 L1598.1,279.6 L1594.7,280.9 L1591.3,282.4 L1587.7,283.9 L1584.1,285.5 L1580.4,287.2 L1576.6,289.1 L1572.6,291.2 L1568.3,293.5 L1563.7,296.2 L1558.9,299 L1553.9,302 L1548.9,305.1 L1544,308.2 L1539.2,311.2 L1534.7,314.1 L1530.6,316.7 L1526.9,319.1 L1523.9,321 L1521.5,322.5Z" fill="#d07a28" fill-opacity="0.84" stroke="#b86a20" stroke-opacity="0.5" stroke-width="1"/>
<line x1="1633" y1="271" x2="1653" y2="501" stroke="#f09c4c" stroke-opacity="0.68" stroke-width="21" stroke-linecap="round"/><line x1="1636" y1="270.7" x2="1656" y2="500.7" stroke="#ffe2c4" stroke-opacity="0.3" stroke-width="5" stroke-linecap="round"/>
<line x1="1745" y1="283" x2="1687" y2="445" stroke="#f09c4c" stroke-opacity="0.68" stroke-width="21" stroke-linecap="round"/><line x1="1747.8" y1="284" x2="1689.8" y2="446" stroke="#ffe2c4" stroke-opacity="0.3" stroke-width="5" stroke-linecap="round"/>
<line x1="1714" y1="267" x2="1795" y2="470" stroke="#f09c4c" stroke-opacity="0.68" stroke-width="21" stroke-linecap="round"/><line x1="1716.8" y1="265.9" x2="1797.8" y2="468.9" stroke="#ffe2c4" stroke-opacity="0.3" stroke-width="5" stroke-linecap="round"/>
<line x1="1836" y1="286" x2="1779" y2="470" stroke="#f09c4c" stroke-opacity="0.68" stroke-width="21" stroke-linecap="round"/><line x1="1838.9" y1="286.9" x2="1781.9" y2="470.9" stroke="#ffe2c4" stroke-opacity="0.3" stroke-width="5" stroke-linecap="round"/>
<line x1="1908.7" y1="336.5" x2="1790" y2="465" stroke="#f09c4c" stroke-opacity="0.68" stroke-width="21" stroke-linecap="round"/><line x1="1910.9" y1="338.5" x2="1792.2" y2="467" stroke="#ffe2c4" stroke-opacity="0.3" stroke-width="5" stroke-linecap="round"/>
<line x1="1936.8" y1="398.8" x2="1733" y2="469" stroke="#f09c4c" stroke-opacity="0.68" stroke-width="21" stroke-linecap="round"/><line x1="1937.8" y1="401.6" x2="1734" y2="471.8" stroke="#ffe2c4" stroke-opacity="0.3" stroke-width="5" stroke-linecap="round"/>
<line x1="1936.8" y1="477" x2="1757" y2="483" stroke="#f09c4c" stroke-opacity="0.68" stroke-width="21" stroke-linecap="round"/><line x1="1936.9" y1="480" x2="1757.1" y2="486" stroke="#ffe2c4" stroke-opacity="0.3" stroke-width="5" stroke-linecap="round"/>
<line x1="1548" y1="320.5" x2="1668.6" y2="449" stroke="#f09c4c" stroke-opacity="0.68" stroke-width="21" stroke-linecap="round"/><line x1="1550.2" y1="318.4" x2="1670.8" y2="446.9" stroke="#ffe2c4" stroke-opacity="0.3" stroke-width="5" stroke-linecap="round"/>
<line x1="1540" y1="397" x2="1634.4" y2="501.3" stroke="#f09c4c" stroke-opacity="0.68" stroke-width="21" stroke-linecap="round"/><line x1="1542.2" y1="395" x2="1636.6" y2="499.3" stroke="#ffe2c4" stroke-opacity="0.3" stroke-width="5" stroke-linecap="round"/>
<line x1="1530" y1="479" x2="1652.5" y2="466" stroke="#f09c4c" stroke-opacity="0.68" stroke-width="21" stroke-linecap="round"/><line x1="1529.7" y1="476" x2="1652.2" y2="463" stroke="#ffe2c4" stroke-opacity="0.3" stroke-width="5" stroke-linecap="round"/>
<line x1="1530" y1="490" x2="1636" y2="501" stroke="#f09c4c" stroke-opacity="0.68" stroke-width="21" stroke-linecap="round"/><line x1="1530.3" y1="487" x2="1636.3" y2="498" stroke="#ffe2c4" stroke-opacity="0.3" stroke-width="5" stroke-linecap="round"/>
<line x1="1760" y1="495" x2="1930" y2="492" stroke="#f09c4c" stroke-opacity="0.68" stroke-width="21" stroke-linecap="round"/><line x1="1759.9" y1="492" x2="1929.9" y2="489" stroke="#ffe2c4" stroke-opacity="0.3" stroke-width="5" stroke-linecap="round"/>
<circle cx="1668.6" cy="449" r="11.5" fill="#e8872a" fill-opacity="0.5" stroke="#c87020" stroke-opacity="0.4" stroke-width="1"/>
<circle cx="1686.7" cy="445" r="11.5" fill="#e8872a" fill-opacity="0.5" stroke="#c87020" stroke-opacity="0.4" stroke-width="1"/>
<circle cx="1652.5" cy="467" r="11.5" fill="#e8872a" fill-opacity="0.5" stroke="#c87020" stroke-opacity="0.4" stroke-width="1"/>
<circle cx="1652.5" cy="501" r="11.5" fill="#e8872a" fill-opacity="0.5" stroke="#c87020" stroke-opacity="0.4" stroke-width="1"/>
<circle cx="1733" cy="469" r="11.5" fill="#e8872a" fill-opacity="0.5" stroke="#c87020" stroke-opacity="0.4" stroke-width="1"/>
<circle cx="1757" cy="483" r="11.5" fill="#e8872a" fill-opacity="0.5" stroke="#c87020" stroke-opacity="0.4" stroke-width="1"/>
<circle cx="1790" cy="479" r="11.5" fill="#e8872a" fill-opacity="0.5" stroke="#c87020" stroke-opacity="0.4" stroke-width="1"/>
<circle cx="1778" cy="480" r="11.5" fill="#e8872a" fill-opacity="0.5" stroke="#c87020" stroke-opacity="0.4" stroke-width="1"/>
<path d="M1921,439 L1958,462 L1960,504 L1920,504 Z" fill="#9c5418" fill-opacity="0.8"/>
<path d="M1536.8,313.4 L1539.3,312.1 L1542.5,310.4 L1546.1,308.5 L1550.2,306.3 L1554.7,304 L1559.3,301.5 L1564.1,299.1 L1568.9,296.6 L1573.5,294.3 L1578,292.1 L1582.1,290.2 L1585.8,288.6 L1589.2,287.1 L1592.6,285.8 L1595.8,284.5 L1599,283.3 L1602,282.3 L1605.1,281.2 L1608.1,280.3 L1611.1,279.4 L1614.1,278.5 L1617.1,277.7 L1620.2,276.9 L1623.3,276.1 L1626.3,275.4 L1629.2,274.8 L1632,274.3 L1634.8,273.8 L1637.7,273.4 L1640.6,272.9 L1643.7,272.5 L1646.9,272.1 L1650.3,271.7 L1654,271.2 L1657.8,270.7 L1661.9,270.1 L1666.2,269.5 L1670.8,268.9 L1675.5,268.2 L1680.4,267.5 L1685.4,266.8 L1690.6,266.1 L1695.8,265.4 L1701.1,264.7 L1706.4,264 L1711.6,263.3 L1716.8,262.6 L1721.9,261.9 L1727.2,261.1 L1732.4,260.2 L1737.5,259.2 L1742.6,258.3 L1747.5,257.3 L1752.4,256.4 L1757.1,255.6 L1761.8,254.9 L1766.4,254.3 L1770.9,253.9 L1775.2,253.7 L1779.6,253.7 L1784.2,253.9 L1788.9,254.2 L1793.6,254.6 L1798.2,255.2 L1802.8,255.8 L1807.4,256.6 L1812,257.6 L1816.6,258.6 L1821.2,259.9 L1825.8,261.3 L1830.4,262.8 L1835,264.5 L1839.6,266.5 L1844.4,268.6 L1849.2,271 L1854.1,273.6 L1859.1,276.3 L1864,279.2 L1868.9,282.3 L1873.7,285.4 L1878.5,288.6 L1883.1,291.8 L1887.5,295.1 L1891.8,298.4 L1895.9,301.7 L1899.9,305.1 L1903.9,308.5 L1907.7,312.1 L1911.4,315.7 L1915.1,319.4 L1918.6,323.1 L1922,326.9 L1925.3,330.8 L1928.5,334.6 L1931.5,338.6 L1934.4,342.5 L1937,346.4 L1939.5,350.4 L1942,354.6 L1944.3,358.9 L1946.5,363.2 L1948.6,367.7 L1950.7,372.2 L1952.7,376.8 L1954.6,381.3 L1956.5,385.9 L1958.4,390.4 L1960.2,394.8 L1961.8,398.9 L1963.4,403 L1964.9,407.2 L1966.2,411.3 L1967.6,415.4 L1968.8,419.6 L1970.1,423.7 L1971.3,427.7 L1972.5,431.8 L1973.7,435.8 L1974.8,439.8 L1976.1,443.7 L1977.2,447.4 L1978.4,451 L1979.5,454.6 L1980.6,458 L1981.7,461.3 L1982.7,464.6 L1983.7,467.8 L1984.7,470.9 L1985.6,474 L1986.5,477 L1987.3,480 L1988.1,483 L1988.9,486 L1989.6,489.2 L1990.3,492.4 L1991,495.7 L1991.7,499 L1992.3,502.2 L1992.9,505.3 L1993.5,508.3 L1994,511 L1994.4,513.4 L1994.9,515.5 L1995.2,517.3 L2018.8,512.7 L2018.5,511.1 L2018.1,509.1 L2017.7,506.7 L2017.3,504 L2016.7,501 L2016.2,497.8 L2015.6,494.4 L2014.9,490.9 L2014.2,487.4 L2013.5,483.9 L2012.7,480.4 L2011.9,477 L2011,473.7 L2010.2,470.5 L2009.3,467.2 L2008.3,463.9 L2007.4,460.6 L2006.4,457.3 L2005.4,453.9 L2004.3,450.5 L2003.3,447.1 L2002.2,443.6 L2001.1,440 L1999.9,436.3 L1998.8,432.6 L1997.7,428.8 L1996.6,424.8 L1995.5,420.8 L1994.3,416.6 L1993,412.3 L1991.7,408 L1990.3,403.5 L1988.9,399 L1987.3,394.4 L1985.6,389.8 L1983.8,385.2 L1982,380.7 L1980.2,376.2 L1978.3,371.5 L1976.3,366.7 L1974.2,361.8 L1972,356.9 L1969.7,352 L1967.2,347 L1964.6,342 L1961.8,337.1 L1958.8,332.3 L1955.6,327.5 L1952.4,323 L1949,318.5 L1945.4,314.1 L1941.8,309.7 L1938,305.5 L1934,301.2 L1930,297.1 L1925.9,293 L1921.6,289 L1917.2,285.1 L1912.8,281.3 L1908.2,277.6 L1903.5,274 L1898.7,270.3 L1893.7,266.7 L1888.5,263.2 L1883.2,259.7 L1877.9,256.4 L1872.5,253.1 L1867,250 L1861.5,247.1 L1856,244.3 L1850.5,241.8 L1845,239.5 L1839.6,237.4 L1834.2,235.5 L1828.8,233.8 L1823.4,232.3 L1818,231 L1812.6,229.9 L1807.2,228.9 L1801.8,228.1 L1796.4,227.4 L1791.1,226.9 L1785.8,226.5 L1780.4,226.3 L1774.8,226.2 L1769.1,226.4 L1763.6,226.9 L1758.2,227.5 L1752.9,228.2 L1747.6,229.1 L1742.5,230 L1737.4,230.9 L1732.5,231.8 L1727.6,232.7 L1722.8,233.5 L1718.1,234.1 L1713.1,234.8 L1707.9,235.4 L1702.7,236.1 L1697.4,236.8 L1692.1,237.5 L1686.9,238.1 L1681.7,238.8 L1676.6,239.4 L1671.7,240.1 L1666.9,240.7 L1662.4,241.3 L1658.1,241.9 L1654.1,242.4 L1650.4,242.9 L1646.9,243.3 L1643.5,243.7 L1640.1,244 L1636.9,244.4 L1633.6,244.9 L1630.4,245.3 L1627.1,245.8 L1623.7,246.4 L1620.2,247.1 L1616.7,247.9 L1613.2,248.7 L1609.8,249.5 L1606.4,250.4 L1603,251.4 L1599.6,252.3 L1596.2,253.4 L1592.7,254.5 L1589.2,255.7 L1585.6,257 L1581.9,258.4 L1578.1,259.8 L1574.2,261.4 L1569.9,263.3 L1565.3,265.4 L1560.5,267.7 L1555.6,270.1 L1550.6,272.6 L1545.7,275.1 L1540.9,277.5 L1536.4,279.9 L1532.3,282 L1528.6,283.9 L1525.6,285.4 L1523.2,286.6Z" fill="#e99448" fill-opacity="0.72" stroke="#c8782a" stroke-opacity="0.45" stroke-width="1"/>
</g>
<g stroke-linecap="round">
<line x1="1784" y1="226" x2="1846.4" y2="282.3" stroke="#a00000" stroke-width="14"/>
<line x1="1784" y1="226" x2="1846.4" y2="282.3" stroke="#ee1010" stroke-width="10"/>
<line x1="1832.3" y1="224" x2="1774" y2="286.3" stroke="#a00000" stroke-width="14"/>
<line x1="1832.3" y1="224" x2="1774" y2="286.3" stroke="#ee1010" stroke-width="10"/>
<line x1="1796" y1="237" x2="1828" y2="266" stroke="#d98020" stroke-width="13"/>
<line x1="1820" y1="236" x2="1792" y2="266" stroke="#d98020" stroke-width="13"/>
</g>
<g stroke-linecap="butt" fill="none">
<path d="M1843.2,129.8L1865.9,148.3" stroke="#7a7a7a" stroke-width="15.5"/>
<path d="M1865.9,148.3L1879.8,159.7" stroke="#0a0a9a" stroke-width="15.5"/>
<path d="M1819.9,104.9L1811.6,120.7" stroke="#1fb0b0" stroke-width="15.5"/>
<path d="M1811.6,120.7L1803.3,136.5" stroke="#7a7a7a" stroke-width="15.5"/>
<path d="M1818.3,55L1818.3,75.5" stroke="#a00808" stroke-width="15.5"/>
<path d="M1818.3,75.5L1818.3,96" stroke="#a00808" stroke-width="15.5"/>
<path d="M1818.3,96L1819.1,100.5" stroke="#1fb0b0" stroke-width="15.5"/>
<path d="M1819.1,100.5L1819.9,104.9" stroke="#1fb0b0" stroke-width="15.5"/>
<path d="M1819.9,104.9L1846.5,112.3" stroke="#1fb0b0" stroke-width="15.5"/>
<path d="M1846.5,112.3L1873.1,119.8" stroke="#1fb0b0" stroke-width="15.5"/>
<path d="M1873.1,119.8L1884.8,108.2" stroke="#1fb0b0" stroke-width="15.5"/>
<path d="M1884.8,108.2L1896.4,96.5" stroke="#7a7a7a" stroke-width="15.5"/>
<path d="M1908,129.8L1907.2,112.4" stroke="#1fb0b0" stroke-width="15.5"/>
<path d="M1907.2,112.4L1906.4,94.9" stroke="#7a7a7a" stroke-width="15.5"/>
<path d="M1873.1,119.8L1877.3,144.5" stroke="#1fb0b0" stroke-width="15.5"/>
<path d="M1877.3,144.5L1879.8,159.7" stroke="#0a0a9a" stroke-width="15.5"/>
<path d="M1948,146.4L1928,138.1" stroke="#1fb0b0" stroke-width="15.5"/>
<path d="M1928,138.1L1908,129.8" stroke="#1fb0b0" stroke-width="15.5"/>
<path d="M1908,129.8L1890.5,148.3" stroke="#1fb0b0" stroke-width="15.5"/>
<path d="M1890.5,148.3L1879.8,159.7" stroke="#0a0a9a" stroke-width="15.5"/>
<path d="M1948,146.4L1958,133.1" stroke="#1fb0b0" stroke-width="15.5"/>
<path d="M1958,133.1L1968,119.8" stroke="#7a7a7a" stroke-width="15.5"/>
<path d="M1948,146.4L1959.7,158.9" stroke="#1fb0b0" stroke-width="15.5"/>
<path d="M1959.7,158.9L1971.3,171.4" stroke="#7a7a7a" stroke-width="15.5"/>
<path d="M1879.8,159.7L1872.2,169.2" stroke="#0a0a9a" stroke-width="15.5"/>
<path d="M1872.2,169.2L1859.8,184.7" stroke="#7a7a7a" stroke-width="15.5"/>
<path d="M1926.4,173L1927.2,190.5" stroke="#1fb0b0" stroke-width="15.5"/>
<path d="M1927.2,190.5L1928,208" stroke="#7a7a7a" stroke-width="15.5"/>
<path d="M1926.4,173L1937.2,159.7" stroke="#1fb0b0" stroke-width="15.5"/>
<path d="M1937.2,159.7L1948,146.4" stroke="#1fb0b0" stroke-width="15.5"/>
<path d="M1879.8,159.7L1897.5,164.8" stroke="#0a0a9a" stroke-width="15.5"/>
<path d="M1897.5,164.8L1926.4,173" stroke="#1fb0b0" stroke-width="15.5"/>
<circle cx="1843.2" cy="129.8" r="7.75" fill="#7a7a7a"/>
<circle cx="1879.8" cy="159.7" r="7.75" fill="#0a0a9a"/>
<circle cx="1819.9" cy="104.9" r="7.75" fill="#1fb0b0"/>
<circle cx="1803.3" cy="136.5" r="7.75" fill="#7a7a7a"/>
<circle cx="1818.3" cy="55" r="7.75" fill="#a00808"/>
<circle cx="1818.3" cy="96" r="7.75" fill="#a00808"/>
<circle cx="1818.3" cy="96" r="7.75" fill="#1fb0b0"/>
<circle cx="1819.9" cy="104.9" r="7.75" fill="#1fb0b0"/>
<circle cx="1819.9" cy="104.9" r="7.75" fill="#1fb0b0"/>
<circle cx="1873.1" cy="119.8" r="7.75" fill="#1fb0b0"/>
<circle cx="1873.1" cy="119.8" r="7.75" fill="#1fb0b0"/>
<circle cx="1896.4" cy="96.5" r="7.75" fill="#7a7a7a"/>
<circle cx="1908" cy="129.8" r="7.75" fill="#1fb0b0"/>
<circle cx="1906.4" cy="94.9" r="7.75" fill="#7a7a7a"/>
<circle cx="1873.1" cy="119.8" r="7.75" fill="#1fb0b0"/>
<circle cx="1879.8" cy="159.7" r="7.75" fill="#0a0a9a"/>
<circle cx="1948" cy="146.4" r="7.75" fill="#1fb0b0"/>
<circle cx="1908" cy="129.8" r="7.75" fill="#1fb0b0"/>
<circle cx="1908" cy="129.8" r="7.75" fill="#1fb0b0"/>
<circle cx="1879.8" cy="159.7" r="7.75" fill="#0a0a9a"/>
<circle cx="1948" cy="146.4" r="7.75" fill="#1fb0b0"/>
<circle cx="1968" cy="119.8" r="7.75" fill="#7a7a7a"/>
<circle cx="1948" cy="146.4" r="7.75" fill="#1fb0b0"/>
<circle cx="1971.3" cy="171.4" r="7.75" fill="#7a7a7a"/>
<circle cx="1879.8" cy="159.7" r="7.75" fill="#0a0a9a"/>
<circle cx="1859.8" cy="184.7" r="7.75" fill="#7a7a7a"/>
<circle cx="1926.4" cy="173" r="7.75" fill="#1fb0b0"/>
<circle cx="1928" cy="208" r="7.75" fill="#7a7a7a"/>
<circle cx="1926.4" cy="173" r="7.75" fill="#1fb0b0"/>
<circle cx="1948" cy="146.4" r="7.75" fill="#1fb0b0"/>
<circle cx="1879.8" cy="159.7" r="7.75" fill="#0a0a9a"/>
<circle cx="1926.4" cy="173" r="7.75" fill="#1fb0b0"/>
<path d="M1843.2,129.8L1865.9,148.3" stroke="#b4b4b4" stroke-width="11"/>
<path d="M1865.9,148.3L1879.8,159.7" stroke="#1414e6" stroke-width="11"/>
<path d="M1819.9,104.9L1811.6,120.7" stroke="#36e6e6" stroke-width="11"/>
<path d="M1811.6,120.7L1803.3,136.5" stroke="#b4b4b4" stroke-width="11"/>
<path d="M1818.3,55L1818.3,75.5" stroke="#ee1010" stroke-width="11"/>
<path d="M1818.3,75.5L1818.3,96" stroke="#ee1010" stroke-width="11"/>
<path d="M1818.3,96L1819.1,100.5" stroke="#36e6e6" stroke-width="11"/>
<path d="M1819.1,100.5L1819.9,104.9" stroke="#36e6e6" stroke-width="11"/>
<path d="M1819.9,104.9L1846.5,112.3" stroke="#36e6e6" stroke-width="11"/>
<path d="M1846.5,112.3L1873.1,119.8" stroke="#36e6e6" stroke-width="11"/>
<path d="M1873.1,119.8L1884.8,108.2" stroke="#36e6e6" stroke-width="11"/>
<path d="M1884.8,108.2L1896.4,96.5" stroke="#b4b4b4" stroke-width="11"/>
<path d="M1908,129.8L1907.2,112.4" stroke="#36e6e6" stroke-width="11"/>
<path d="M1907.2,112.4L1906.4,94.9" stroke="#b4b4b4" stroke-width="11"/>
<path d="M1873.1,119.8L1877.3,144.5" stroke="#36e6e6" stroke-width="11"/>
<path d="M1877.3,144.5L1879.8,159.7" stroke="#1414e6" stroke-width="11"/>
<path d="M1948,146.4L1928,138.1" stroke="#36e6e6" stroke-width="11"/>
<path d="M1928,138.1L1908,129.8" stroke="#36e6e6" stroke-width="11"/>
<path d="M1908,129.8L1890.5,148.3" stroke="#36e6e6" stroke-width="11"/>
<path d="M1890.5,148.3L1879.8,159.7" stroke="#1414e6" stroke-width="11"/>
<path d="M1948,146.4L1958,133.1" stroke="#36e6e6" stroke-width="11"/>
<path d="M1958,133.1L1968,119.8" stroke="#b4b4b4" stroke-width="11"/>
<path d="M1948,146.4L1959.7,158.9" stroke="#36e6e6" stroke-width="11"/>
<path d="M1959.7,158.9L1971.3,171.4" stroke="#b4b4b4" stroke-width="11"/>
<path d="M1879.8,159.7L1872.2,169.2" stroke="#1414e6" stroke-width="11"/>
<path d="M1872.2,169.2L1859.8,184.7" stroke="#b4b4b4" stroke-width="11"/>
<path d="M1926.4,173L1927.2,190.5" stroke="#36e6e6" stroke-width="11"/>
<path d="M1927.2,190.5L1928,208" stroke="#b4b4b4" stroke-width="11"/>
<path d="M1926.4,173L1937.2,159.7" stroke="#36e6e6" stroke-width="11"/>
<path d="M1937.2,159.7L1948,146.4" stroke="#36e6e6" stroke-width="11"/>
<path d="M1879.8,159.7L1897.5,164.8" stroke="#1414e6" stroke-width="11"/>
<path d="M1897.5,164.8L1926.4,173" stroke="#36e6e6" stroke-width="11"/>
<circle cx="1843.2" cy="129.8" r="5.5" fill="#b4b4b4"/>
<circle cx="1879.8" cy="159.7" r="5.5" fill="#1414e6"/>
<circle cx="1819.9" cy="104.9" r="5.5" fill="#36e6e6"/>
<circle cx="1803.3" cy="136.5" r="5.5" fill="#b4b4b4"/>
<circle cx="1818.3" cy="55" r="5.5" fill="#ee1010"/>
<circle cx="1818.3" cy="96" r="5.5" fill="#ee1010"/>
<circle cx="1818.3" cy="96" r="5.5" fill="#36e6e6"/>
<circle cx="1819.9" cy="104.9" r="5.5" fill="#36e6e6"/>
<circle cx="1819.9" cy="104.9" r="5.5" fill="#36e6e6"/>
<circle cx="1873.1" cy="119.8" r="5.5" fill="#36e6e6"/>
<circle cx="1873.1" cy="119.8" r="5.5" fill="#36e6e6"/>
<circle cx="1896.4" cy="96.5" r="5.5" fill="#b4b4b4"/>
<circle cx="1908" cy="129.8" r="5.5" fill="#36e6e6"/>
<circle cx="1906.4" cy="94.9" r="5.5" fill="#b4b4b4"/>
<circle cx="1873.1" cy="119.8" r="5.5" fill="#36e6e6"/>
<circle cx="1879.8" cy="159.7" r="5.5" fill="#1414e6"/>
<circle cx="1948" cy="146.4" r="5.5" fill="#36e6e6"/>
<circle cx="1908" cy="129.8" r="5.5" fill="#36e6e6"/>
<circle cx="1908" cy="129.8" r="5.5" fill="#36e6e6"/>
<circle cx="1879.8" cy="159.7" r="5.5" fill="#1414e6"/>
<circle cx="1948" cy="146.4" r="5.5" fill="#36e6e6"/>
<circle cx="1968" cy="119.8" r="5.5" fill="#b4b4b4"/>
<circle cx="1948" cy="146.4" r="5.5" fill="#36e6e6"/>
<circle cx="1971.3" cy="171.4" r="5.5" fill="#b4b4b4"/>
<circle cx="1879.8" cy="159.7" r="5.5" fill="#1414e6"/>
<circle cx="1859.8" cy="184.7" r="5.5" fill="#b4b4b4"/>
<circle cx="1926.4" cy="173" r="5.5" fill="#36e6e6"/>
<circle cx="1928" cy="208" r="5.5" fill="#b4b4b4"/>
<circle cx="1926.4" cy="173" r="5.5" fill="#36e6e6"/>
<circle cx="1948" cy="146.4" r="5.5" fill="#36e6e6"/>
<circle cx="1879.8" cy="159.7" r="5.5" fill="#1414e6"/>
<circle cx="1926.4" cy="173" r="5.5" fill="#36e6e6"/>
<circle cx="1876.5" cy="129.8" r="8" fill="#7a7a7a"/><circle cx="1875.5" cy="128.8" r="5.8" fill="#b4b4b4"/>
<circle cx="1939.7" cy="168" r="8" fill="#7a7a7a"/><circle cx="1938.7" cy="167" r="5.8" fill="#b4b4b4"/>
</g>
<line x1="1855" y1="193" x2="1831" y2="219" stroke="#000" stroke-width="5" stroke-dasharray="4 3.5"/>
<text x="1844.4" y="243.7" font-size="33.5">0.387 nm</text>
<line x1="1541" y1="51.5" x2="2014" y2="51.5" stroke="#000" stroke-width="7.8" stroke-dasharray="29.6 22.7" stroke-dashoffset="-16.7"/>
<line x1="1541" y1="51.5" x2="1541" y2="505.5" stroke="#000" stroke-width="7.6" stroke-dasharray="29.1 23" stroke-dashoffset="-6"/>
<line x1="2014" y1="51.5" x2="2014" y2="505.5" stroke="#000" stroke-width="7.6" stroke-dasharray="28.5 23.7" stroke-dashoffset="-15.1"/>
<line x1="1541" y1="505.5" x2="2014" y2="505.5" stroke="#000" stroke-width="7.8" stroke-dasharray="28.5 23.8" stroke-dashoffset="5.7"/>
</g>
</svg></body></html>
